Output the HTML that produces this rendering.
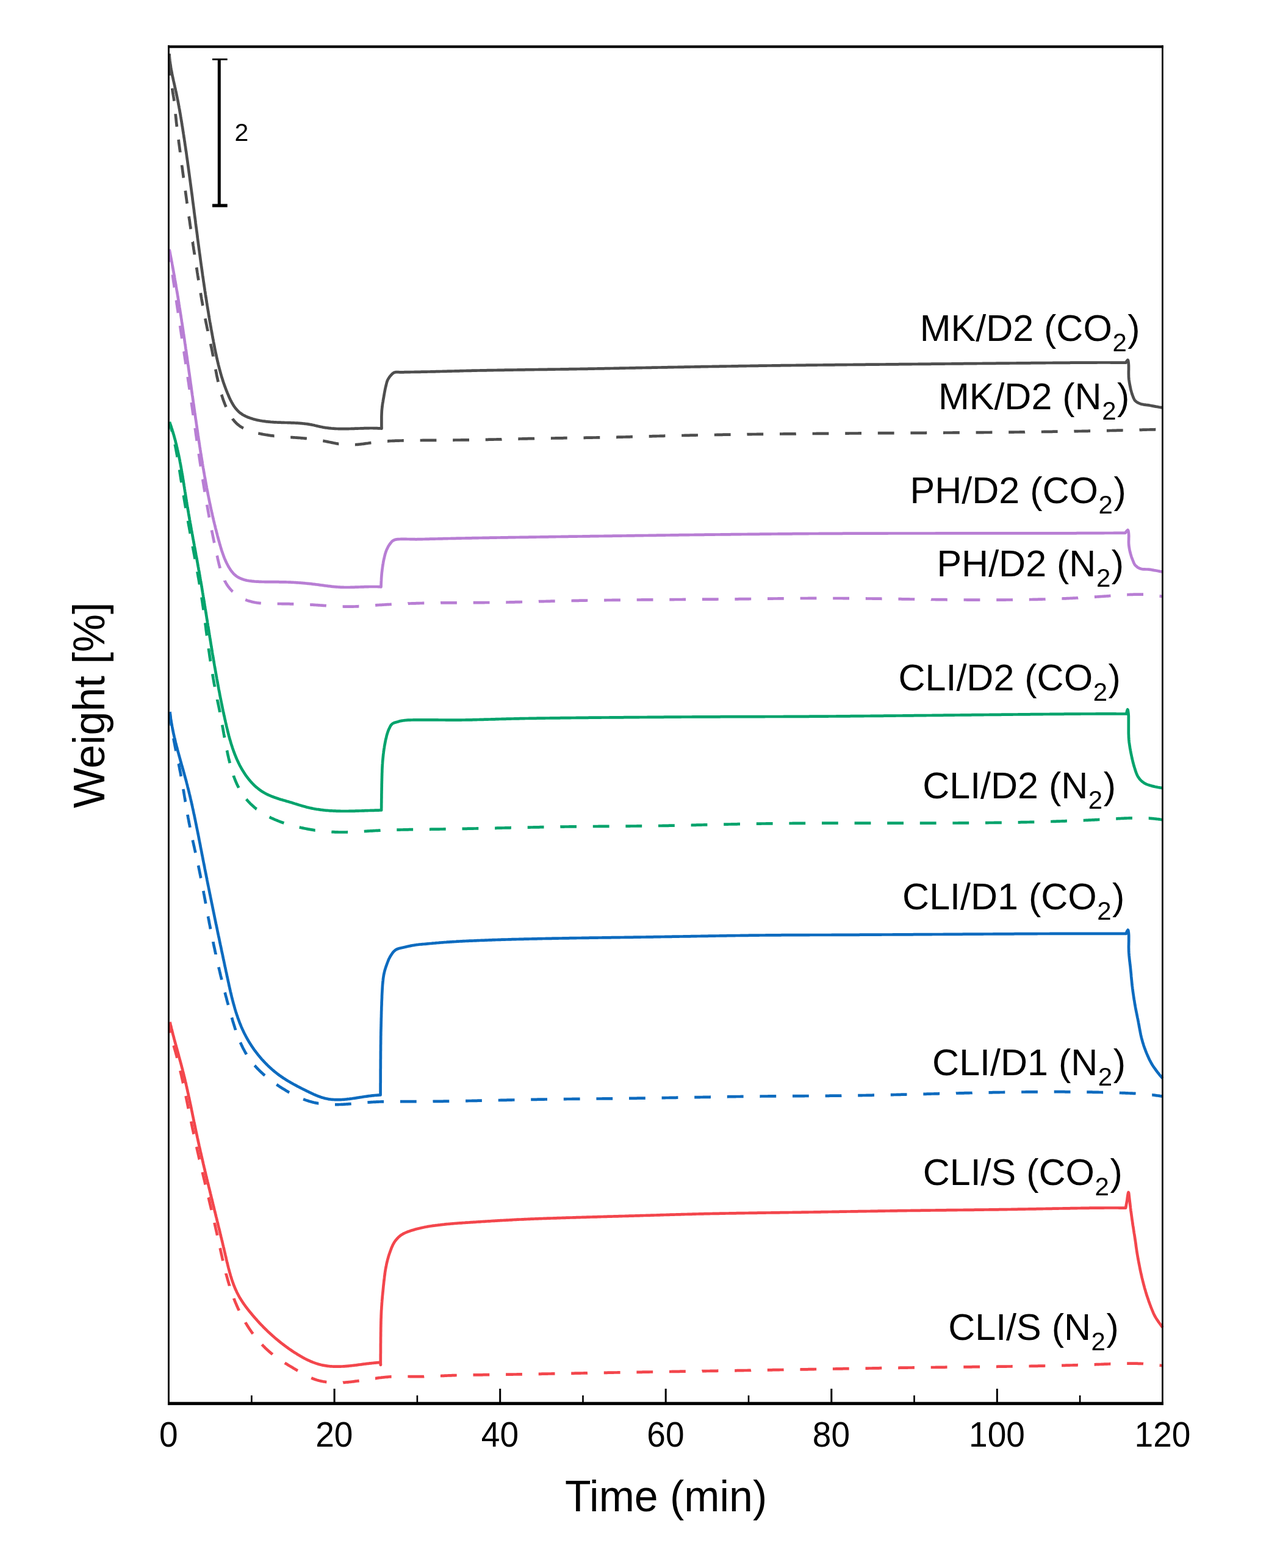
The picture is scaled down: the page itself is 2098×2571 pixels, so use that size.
<!DOCTYPE html>
<html><head><meta charset="utf-8"><title>Weight vs Time</title>
<style>
html,body{margin:0;padding:0;background:#fff;}
body{width:2098px;height:2571px;overflow:hidden;}
svg{display:block;}
text{font-family:"Liberation Sans",Arial,sans-serif;fill:#000;}
</style></head><body>
<svg width="2098" height="2571" viewBox="0 0 2098 2571">
<rect width="2098" height="2571" fill="#fff"/>
<g fill="none" stroke-linejoin="round" stroke-linecap="butt">
<path d="M278.0,102.7 L278.0,103.5 L278.1,105.0 L278.2,106.5 L278.3,108.0 L278.4,109.5 L278.5,111.0 L278.6,112.5 L278.7,114.0 L278.8,115.5 L278.9,117.0 L279.0,118.5 L279.1,120.0 L279.3,121.5 L279.4,123.0 L279.5,123.8 M282.1,144.8 L282.2,145.3 L282.4,146.8 L282.7,148.3 L282.9,149.8 L283.2,151.2 L283.4,152.7 L283.7,154.2 L283.9,155.6 L284.2,157.1 L284.4,158.6 L284.7,160.1 L284.9,161.6 L285.1,163.0 L285.3,164.5 L285.5,165.7 M287.7,186.8 L287.7,186.9 L287.8,188.4 L288.0,189.9 L288.1,191.4 L288.3,192.9 L288.4,194.3 L288.6,195.8 L288.7,197.3 L288.9,198.8 L289.0,200.3 L289.2,201.8 L289.4,203.3 L289.5,204.8 L289.7,206.3 L289.9,207.8 L289.9,207.8 M292.6,228.8 L292.8,230.1 L292.9,231.6 L293.1,233.1 L293.3,234.6 L293.5,236.0 L293.7,237.5 L293.9,239.0 L294.1,240.5 L294.3,242.0 L294.5,243.5 L294.7,245.0 L294.9,246.5 L295.1,248.0 L295.3,249.4 L295.3,249.8 M298.1,270.8 L298.2,271.8 L298.4,273.3 L298.6,274.7 L298.8,276.2 L299.0,277.7 L299.2,279.2 L299.4,280.7 L299.6,282.2 L299.8,283.7 L300.0,285.2 L300.2,286.7 L300.4,288.1 L300.6,289.6 L300.8,291.1 L300.9,291.7 M303.8,312.7 L303.9,313.4 L304.1,314.9 L304.3,316.4 L304.5,317.9 L304.7,319.4 L304.9,320.9 L305.1,322.4 L305.3,323.9 L305.5,325.3 L305.7,326.8 L305.9,328.3 L306.1,329.8 L306.3,331.3 L306.5,332.8 L306.7,333.7 M309.6,354.7 L309.7,355.1 L309.9,356.6 L310.1,358.1 L310.3,359.5 L310.6,361.0 L310.8,362.5 L311.0,364.0 L311.2,365.5 L311.4,367.0 L311.6,368.5 L311.8,369.9 L312.1,371.4 L312.3,372.9 L312.5,374.4 L312.7,375.6 M315.7,396.6 L315.8,396.7 L316.0,398.2 L316.2,399.7 L316.4,401.1 L316.6,402.6 L316.9,404.1 L317.1,405.6 L317.3,407.1 L317.5,408.6 L317.8,410.1 L318.0,411.5 L318.2,413.0 L318.4,414.5 L318.7,416.0 L318.9,417.5 L318.9,417.6 M322.1,438.5 L322.3,439.7 L322.5,441.2 L322.8,442.7 L323.0,444.2 L323.2,445.7 L323.4,447.1 L323.7,448.6 L323.9,450.1 L324.1,451.6 L324.4,453.1 L324.6,454.6 L324.8,456.0 L325.1,457.5 L325.3,459.0 L325.4,459.5 M328.8,480.4 L328.9,481.2 L329.2,482.7 L329.4,484.2 L329.7,485.7 L329.9,487.1 L330.2,488.6 L330.4,490.1 L330.7,491.6 L330.9,493.1 L331.2,494.5 L331.5,496.0 L331.7,497.5 L332.0,499.0 L332.2,500.4 L332.4,501.3 M336.3,522.2 L336.4,522.6 L336.7,524.1 L337.0,525.5 L337.3,527.0 L337.6,528.5 L337.9,530.0 L338.2,531.4 L338.5,532.9 L338.8,534.4 L339.1,535.9 L339.4,537.3 L339.7,538.8 L340.1,540.3 L340.4,541.7 L340.6,543.0 M345.2,563.8 L345.2,563.8 L345.5,565.3 L345.8,566.7 L346.1,568.2 L346.5,569.7 L346.8,571.2 L347.1,572.6 L347.4,574.1 L347.7,575.6 L348.0,577.0 L348.2,578.5 L348.5,580.0 L348.8,581.4 L349.1,582.9 L349.4,584.4 L349.4,584.6 M353.3,605.5 L353.5,606.4 L353.8,607.9 L354.1,609.4 L354.4,610.8 L354.6,612.3 L354.9,613.7 L355.2,615.2 L355.5,616.7 L355.8,618.1 L356.1,619.6 L356.5,621.1 L356.8,622.5 L357.1,624.0 L357.4,625.4 L357.6,626.3 M363.1,647.0 L363.2,647.2 L363.6,648.7 L364.1,650.1 L364.6,651.5 L365.0,653.0 L365.5,654.4 L366.0,655.9 L366.5,657.3 L367.1,658.7 L367.6,660.2 L368.2,661.6 L368.7,663.0 L369.3,664.5 L369.9,665.9 L370.5,667.3 M381.1,686.6 L381.6,687.4 L382.6,688.5 L383.5,689.7 L384.5,690.8 L385.5,691.9 L386.5,693.0 L387.5,694.0 L388.6,695.0 L389.7,696.0 L390.9,696.9 L392.0,697.8 L393.2,698.7 L394.4,699.5 L395.7,700.3 L397.0,701.0 L398.3,701.8 L398.9,702.1 M423.3,710.6 L424.0,710.7 L425.5,711.0 L427.0,711.3 L428.5,711.6 L430.0,711.9 L431.5,712.2 L433.0,712.5 L434.5,712.7 L436.0,713.0 L437.5,713.2 L438.9,713.4 L440.4,713.7 L441.9,713.9 L443.4,714.1 L444.9,714.3 L446.4,714.4 L447.9,714.6 L449.4,714.8 L449.6,714.8 M476.2,717.0 L476.3,717.0 L477.8,717.1 L479.3,717.2 L480.8,717.3 L482.3,717.4 L483.8,717.5 L485.3,717.6 L486.8,717.7 L488.3,717.8 L489.8,717.9 L491.3,718.0 L492.8,718.1 L494.2,718.3 L495.7,718.4 L497.2,718.5 L498.7,718.6 L500.2,718.8 L501.7,718.9 L502.9,719.0 M529.3,722.8 L530.0,722.9 L531.4,723.2 L532.9,723.5 L534.4,723.8 L535.9,724.1 L537.4,724.4 L538.9,724.7 L540.4,725.0 L541.8,725.3 L543.3,725.6 L544.8,725.9 L546.3,726.2 L547.8,726.5 L549.3,726.8 L550.7,727.1 L552.2,727.3 L553.7,727.6 L555.2,727.8 L555.3,727.8 M581.9,729.1 L582.0,729.1 L583.5,729.0 L585.0,728.9 L586.5,728.8 L588.0,728.6 L589.4,728.5 L590.9,728.3 L592.4,728.1 L593.9,728.0 L595.4,727.8 L596.9,727.6 L598.4,727.4 L599.9,727.2 L601.4,727.0 L602.9,726.8 L604.4,726.5 L605.9,726.3 L607.4,726.1 L608.4,726.0 M635.0,723.3 L635.9,723.3 L637.4,723.2 L638.9,723.1 L640.4,723.0 L641.9,723.0 L643.4,722.9 L644.9,722.9 L646.4,722.8 L647.9,722.7 L649.4,722.7 L650.9,722.6 L652.4,722.6 L653.9,722.6 L655.4,722.5 L656.9,722.5 L658.4,722.5 L659.9,722.4 L661.4,722.4 L661.8,722.4 M688.6,722.0 L689.9,722.0 L691.4,722.0 L692.9,721.9 L694.4,721.9 L695.9,721.9 L697.4,721.9 L698.9,721.9 L700.4,721.9 L701.9,721.9 L703.4,721.8 L704.9,721.8 L706.4,721.8 L707.9,721.8 L709.4,721.8 L710.9,721.8 L712.4,721.8 L713.9,721.8 L715.4,721.8 M742.2,721.6 L742.5,721.6 L744.0,721.6 L745.5,721.5 L747.0,721.5 L748.5,721.5 L750.0,721.5 L751.5,721.5 L753.0,721.5 L754.5,721.5 L756.0,721.4 L757.5,721.4 L759.0,721.4 L760.5,721.4 L762.0,721.4 L763.5,721.4 L765.0,721.3 L766.5,721.3 L768.0,721.3 L769.0,721.3 M795.7,720.8 L796.5,720.8 L798.0,720.8 L799.5,720.8 L801.0,720.7 L802.5,720.7 L804.0,720.7 L805.5,720.6 L807.0,720.6 L808.5,720.6 L810.0,720.5 L811.5,720.5 L813.0,720.5 L814.5,720.4 L816.0,720.4 L817.5,720.4 L819.0,720.3 L820.5,720.3 L822.0,720.3 L822.5,720.2 M849.3,719.6 L850.6,719.6 L852.1,719.5 L853.6,719.5 L855.1,719.5 L856.6,719.4 L858.1,719.4 L859.6,719.4 L861.1,719.3 L862.6,719.3 L864.1,719.3 L865.6,719.2 L867.1,719.2 L868.6,719.2 L870.1,719.2 L871.6,719.1 L873.1,719.1 L874.6,719.1 L876.1,719.0 L876.1,719.0 M902.9,718.6 L903.1,718.6 L904.6,718.5 L906.1,718.5 L907.6,718.5 L909.1,718.5 L910.6,718.4 L912.1,718.4 L913.6,718.4 L915.1,718.4 L916.6,718.4 L918.1,718.3 L919.6,718.3 L921.1,718.3 L922.6,718.3 L924.1,718.2 L925.6,718.2 L927.1,718.2 L928.6,718.2 L929.7,718.2 M956.5,717.8 L957.1,717.8 L958.7,717.8 L960.2,717.7 L961.7,717.7 L963.2,717.7 L964.7,717.7 L966.2,717.6 L967.7,717.6 L969.2,717.6 L970.7,717.6 L972.2,717.5 L973.7,717.5 L975.2,717.5 L976.7,717.5 L978.2,717.4 L979.7,717.4 L981.2,717.4 L982.7,717.4 L983.3,717.4 M1010.1,716.8 L1011.2,716.8 L1012.7,716.7 L1014.2,716.7 L1015.7,716.7 L1017.2,716.6 L1018.7,716.6 L1020.2,716.6 L1021.7,716.5 L1023.2,716.5 L1024.7,716.5 L1026.2,716.4 L1027.7,716.4 L1029.2,716.3 L1030.7,716.3 L1032.2,716.3 L1033.7,716.2 L1035.2,716.2 L1036.7,716.1 L1036.9,716.1 M1063.7,715.4 L1063.7,715.4 L1065.2,715.4 L1066.7,715.3 L1068.2,715.3 L1069.7,715.2 L1071.2,715.2 L1072.7,715.2 L1074.2,715.1 L1075.7,715.1 L1077.2,715.0 L1078.7,715.0 L1080.2,715.0 L1081.7,714.9 L1083.2,714.9 L1084.7,714.8 L1086.2,714.8 L1087.7,714.8 L1089.2,714.7 L1090.4,714.7 M1117.2,714.0 L1117.7,714.0 L1119.3,714.0 L1120.8,714.0 L1122.3,713.9 L1123.8,713.9 L1125.3,713.9 L1126.8,713.8 L1128.3,713.8 L1129.8,713.8 L1131.3,713.7 L1132.8,713.7 L1134.3,713.7 L1135.8,713.6 L1137.3,713.6 L1138.8,713.6 L1140.3,713.6 L1141.8,713.5 L1143.3,713.5 L1144.0,713.5 M1170.8,713.0 L1171.8,713.0 L1173.3,713.0 L1174.8,712.9 L1176.3,712.9 L1177.8,712.9 L1179.3,712.8 L1180.8,712.8 L1182.3,712.8 L1183.8,712.8 L1185.3,712.7 L1186.8,712.7 L1188.3,712.7 L1189.8,712.7 L1191.3,712.7 L1192.8,712.6 L1194.3,712.6 L1195.8,712.6 L1197.3,712.6 L1197.6,712.6 M1224.4,712.2 L1225.8,712.1 L1227.3,712.1 L1228.8,712.1 L1230.3,712.1 L1231.8,712.1 L1233.3,712.0 L1234.9,712.0 L1236.4,712.0 L1237.9,712.0 L1239.4,712.0 L1240.9,711.9 L1242.4,711.9 L1243.9,711.9 L1245.4,711.9 L1246.9,711.9 L1248.4,711.9 L1249.9,711.8 L1251.2,711.8 M1278.0,711.5 L1278.4,711.5 L1279.9,711.5 L1281.4,711.5 L1282.9,711.5 L1284.4,711.4 L1285.9,711.4 L1287.4,711.4 L1288.9,711.4 L1290.4,711.4 L1291.9,711.4 L1293.4,711.4 L1294.9,711.3 L1296.4,711.3 L1297.9,711.3 L1299.4,711.3 L1300.9,711.3 L1302.4,711.3 L1303.9,711.3 L1304.8,711.2 M1331.6,711.0 L1332.5,711.0 L1334.0,711.0 L1335.5,711.0 L1337.0,711.0 L1338.5,710.9 L1340.0,710.9 L1341.5,710.9 L1343.0,710.9 L1344.5,710.9 L1346.0,710.9 L1347.5,710.9 L1349.0,710.9 L1350.5,710.9 L1352.0,710.8 L1353.5,710.8 L1355.0,710.8 L1356.5,710.8 L1358.0,710.8 L1358.4,710.8 M1385.2,710.6 L1386.5,710.6 L1388.0,710.6 L1389.5,710.6 L1391.0,710.6 L1392.5,710.5 L1394.0,710.5 L1395.5,710.5 L1397.0,710.5 L1398.5,710.5 L1400.0,710.5 L1401.5,710.5 L1403.0,710.5 L1404.5,710.5 L1406.0,710.5 L1407.5,710.4 L1409.0,710.4 L1410.5,710.4 L1412.0,710.4 M1438.8,710.2 L1439.1,710.2 L1440.6,710.2 L1442.1,710.2 L1443.6,710.2 L1445.1,710.2 L1446.6,710.2 L1448.1,710.2 L1449.6,710.2 L1451.1,710.2 L1452.6,710.2 L1454.1,710.1 L1455.6,710.1 L1457.1,710.1 L1458.6,710.1 L1460.1,710.1 L1461.6,710.1 L1463.1,710.1 L1464.6,710.1 L1465.6,710.1 M1492.4,709.9 L1493.1,709.9 L1494.6,709.9 L1496.1,709.9 L1497.6,709.9 L1499.2,709.9 L1500.7,709.9 L1502.2,709.9 L1503.7,709.8 L1505.2,709.8 L1506.7,709.8 L1508.2,709.8 L1509.7,709.8 L1511.2,709.8 L1512.7,709.8 L1514.2,709.8 L1515.7,709.8 L1517.2,709.8 L1518.7,709.7 L1519.2,709.7 M1546.0,709.6 L1547.2,709.6 L1548.7,709.5 L1550.2,709.5 L1551.7,709.5 L1553.2,709.5 L1554.7,709.5 L1556.2,709.5 L1557.7,709.5 L1559.2,709.5 L1560.7,709.5 L1562.2,709.4 L1563.7,709.4 L1565.2,709.4 L1566.7,709.4 L1568.2,709.4 L1569.7,709.4 L1571.2,709.4 L1572.7,709.4 L1572.8,709.4 M1599.6,709.2 L1599.8,709.2 L1601.3,709.1 L1602.8,709.1 L1604.3,709.1 L1605.8,709.1 L1607.3,709.1 L1608.8,709.1 L1610.3,709.1 L1611.8,709.1 L1613.3,709.0 L1614.8,709.0 L1616.3,709.0 L1617.8,709.0 L1619.3,709.0 L1620.8,709.0 L1622.3,709.0 L1623.8,708.9 L1625.3,708.9 L1626.4,708.9 M1653.2,708.6 L1653.8,708.6 L1655.3,708.6 L1656.8,708.6 L1658.3,708.6 L1659.8,708.6 L1661.3,708.6 L1662.8,708.5 L1664.3,708.5 L1665.8,708.5 L1667.3,708.5 L1668.8,708.5 L1670.3,708.5 L1671.8,708.4 L1673.3,708.4 L1674.8,708.4 L1676.3,708.4 L1677.8,708.4 L1679.3,708.4 L1680.0,708.3 M1706.8,708.0 L1707.9,708.0 L1709.4,708.0 L1710.9,707.9 L1712.4,707.9 L1713.9,707.9 L1715.4,707.9 L1716.9,707.9 L1718.4,707.8 L1719.9,707.8 L1721.4,707.8 L1722.9,707.8 L1724.4,707.8 L1725.9,707.7 L1727.4,707.7 L1728.9,707.7 L1730.4,707.7 L1731.9,707.6 L1733.4,707.6 L1733.6,707.6 M1760.4,707.2 L1760.4,707.2 L1761.9,707.1 L1763.4,707.1 L1764.9,707.1 L1766.4,707.1 L1767.9,707.0 L1769.4,707.0 L1770.9,707.0 L1772.4,707.0 L1773.9,706.9 L1775.4,706.9 L1776.9,706.9 L1778.4,706.8 L1779.9,706.8 L1781.4,706.8 L1782.9,706.8 L1784.4,706.7 L1785.9,706.7 L1787.1,706.7 M1813.9,706.1 L1814.5,706.1 L1816.0,706.1 L1817.5,706.1 L1819.0,706.0 L1820.5,706.0 L1822.0,706.0 L1823.5,705.9 L1825.0,705.9 L1826.5,705.9 L1828.0,705.8 L1829.5,705.8 L1831.0,705.7 L1832.5,705.7 L1834.0,705.7 L1835.5,705.6 L1837.0,705.6 L1838.5,705.6 L1840.0,705.5 L1840.7,705.5 M1867.5,704.9 L1868.5,704.8 L1870.0,704.8 L1871.5,704.8 L1873.0,704.7 L1874.5,704.7 L1876.0,704.6 L1877.5,704.6 L1879.0,704.6 L1880.5,704.5 L1882.0,704.5 L1883.5,704.5 L1885.0,704.4 L1886.5,704.4 L1888.0,704.4 L1889.5,704.3 L1891.0,704.3 L1892.5,704.3 L1894.0,704.2 L1894.3,704.2" stroke="#4e4e4e" stroke-width="4.7"/>
<path d="M277.5,88.0 L277.6,89.5 L277.7,91.0 L277.8,92.5 L277.9,94.0 L278.1,95.5 L278.2,97.0 L278.4,98.5 L278.5,100.0 L278.7,101.5 L278.9,103.0 L279.1,104.5 L279.3,106.0 L279.6,107.4 L279.8,108.9 L280.0,110.4 L280.3,111.9 L280.5,113.4 L280.8,114.8 L281.1,116.3 L281.4,117.8 L281.6,119.3 L281.9,120.7 L282.2,122.2 L282.5,123.7 L282.8,125.2 L283.2,126.6 L283.5,128.1 L283.8,129.6 L284.1,131.0 L284.4,132.5 L284.8,134.0 L285.1,135.4 L285.4,136.9 L285.7,138.4 L286.1,139.8 L286.4,141.3 L286.7,142.8 L287.1,144.2 L287.4,145.7 L287.7,147.2 L288.0,148.6 L288.4,150.1 L288.7,151.6 L289.0,153.0 L289.3,154.5 L289.6,156.0 L289.9,157.4 L290.2,158.9 L290.5,160.4 L290.8,161.9 L291.1,163.3 L291.4,164.8 L291.7,166.3 L292.0,167.8 L292.3,169.2 L292.5,170.7 L292.8,172.2 L293.1,173.7 L293.4,175.1 L293.6,176.6 L293.9,178.1 L294.2,179.6 L294.4,181.1 L294.7,182.5 L294.9,184.0 L295.2,185.5 L295.5,187.0 L295.7,188.5 L296.0,189.9 L296.2,191.4 L296.5,192.9 L296.7,194.4 L297.0,195.9 L297.2,197.3 L297.4,198.8 L297.7,200.3 L297.9,201.8 L298.2,203.3 L298.4,204.8 L298.6,206.2 L298.9,207.7 L299.1,209.2 L299.4,210.7 L299.6,212.2 L299.8,213.7 L300.0,215.2 L300.3,216.6 L300.5,218.1 L300.7,219.6 L301.0,221.1 L301.2,222.6 L301.4,224.1 L301.6,225.6 L301.9,227.0 L302.1,228.5 L302.3,230.0 L302.5,231.5 L302.8,233.0 L303.0,234.5 L303.2,236.0 L303.4,237.4 L303.6,238.9 L303.9,240.4 L304.1,241.9 L304.3,243.4 L304.5,244.9 L304.7,246.4 L304.9,247.8 L305.2,249.3 L305.4,250.8 L305.6,252.3 L305.8,253.8 L306.0,255.3 L306.2,256.8 L306.4,258.3 L306.6,259.7 L306.8,261.2 L307.1,262.7 L307.3,264.2 L307.5,265.7 L307.7,267.2 L307.9,268.7 L308.1,270.2 L308.3,271.7 L308.5,273.1 L308.7,274.6 L308.9,276.1 L309.1,277.6 L309.3,279.1 L309.5,280.6 L309.7,282.1 L309.9,283.6 L310.1,285.0 L310.3,286.5 L310.5,288.0 L310.7,289.5 L310.9,291.0 L311.1,292.5 L311.3,294.0 L311.5,295.5 L311.7,297.0 L311.9,298.5 L312.1,299.9 L312.3,301.4 L312.5,302.9 L312.7,304.4 L312.9,305.9 L313.1,307.4 L313.3,308.9 L313.5,310.4 L313.7,311.9 L313.9,313.3 L314.1,314.8 L314.3,316.3 L314.5,317.8 L314.7,319.3 L314.9,320.8 L315.1,322.3 L315.3,323.8 L315.5,325.3 L315.6,326.8 L315.8,328.2 L316.0,329.7 L316.2,331.2 L316.4,332.7 L316.6,334.2 L316.8,335.7 L317.0,337.2 L317.2,338.7 L317.4,340.2 L317.6,341.7 L317.8,343.2 L318.0,344.6 L318.1,346.1 L318.3,347.6 L318.5,349.1 L318.7,350.6 L318.9,352.1 L319.1,353.6 L319.3,355.1 L319.5,356.6 L319.7,358.1 L319.9,359.5 L320.1,361.0 L320.3,362.5 L320.5,364.0 L320.6,365.5 L320.8,367.0 L321.0,368.5 L321.2,370.0 L321.4,371.5 L321.6,373.0 L321.8,374.4 L322.0,375.9 L322.2,377.4 L322.4,378.9 L322.6,380.4 L322.8,381.9 L323.0,383.4 L323.2,384.9 L323.4,386.4 L323.5,387.9 L323.7,389.3 L323.9,390.8 L324.1,392.3 L324.3,393.8 L324.5,395.3 L324.7,396.8 L324.9,398.3 L325.1,399.8 L325.3,401.3 L325.5,402.8 L325.7,404.2 L325.9,405.7 L326.1,407.2 L326.3,408.7 L326.5,410.2 L326.7,411.7 L326.9,413.2 L327.1,414.7 L327.3,416.2 L327.5,417.6 L327.7,419.1 L327.9,420.6 L328.1,422.1 L328.3,423.6 L328.5,425.1 L328.7,426.6 L328.9,428.1 L329.1,429.6 L329.3,431.0 L329.5,432.5 L329.7,434.0 L329.9,435.5 L330.1,437.0 L330.4,438.5 L330.6,440.0 L330.8,441.5 L331.0,442.9 L331.2,444.4 L331.4,445.9 L331.6,447.4 L331.8,448.9 L332.0,450.4 L332.2,451.9 L332.5,453.4 L332.7,454.8 L332.9,456.3 L333.1,457.8 L333.3,459.3 L333.5,460.8 L333.7,462.3 L334.0,463.8 L334.2,465.3 L334.4,466.7 L334.6,468.2 L334.8,469.7 L335.1,471.2 L335.3,472.7 L335.5,474.2 L335.7,475.7 L335.9,477.1 L336.2,478.6 L336.4,480.1 L336.6,481.6 L336.8,483.1 L337.1,484.6 L337.3,486.1 L337.5,487.5 L337.8,489.0 L338.0,490.5 L338.2,492.0 L338.5,493.5 L338.7,495.0 L338.9,496.4 L339.2,497.9 L339.4,499.4 L339.6,500.9 L339.9,502.4 L340.1,503.9 L340.3,505.3 L340.6,506.8 L340.8,508.3 L341.1,509.8 L341.3,511.3 L341.6,512.8 L341.8,514.2 L342.0,515.7 L342.3,517.2 L342.5,518.7 L342.8,520.2 L343.0,521.6 L343.3,523.1 L343.5,524.6 L343.8,526.1 L344.0,527.6 L344.3,529.1 L344.6,530.5 L344.8,532.0 L345.1,533.5 L345.3,535.0 L345.6,536.5 L345.9,537.9 L346.1,539.4 L346.4,540.9 L346.7,542.4 L346.9,543.8 L347.2,545.3 L347.5,546.8 L347.7,548.3 L348.0,549.8 L348.3,551.2 L348.5,552.7 L348.8,554.2 L349.1,555.7 L349.4,557.1 L349.7,558.6 L349.9,560.1 L350.2,561.6 L350.5,563.1 L350.8,564.5 L351.1,566.0 L351.4,567.5 L351.6,569.0 L351.9,570.4 L352.2,571.9 L352.5,573.4 L352.8,574.9 L353.1,576.3 L353.4,577.8 L353.7,579.3 L354.0,580.7 L354.4,582.2 L354.7,583.7 L355.0,585.1 L355.3,586.6 L355.6,588.1 L356.0,589.5 L356.3,591.0 L356.6,592.5 L357.0,593.9 L357.3,595.4 L357.7,596.9 L358.0,598.3 L358.4,599.8 L358.8,601.2 L359.1,602.7 L359.5,604.1 L359.9,605.6 L360.3,607.0 L360.7,608.5 L361.1,609.9 L361.5,611.4 L361.9,612.8 L362.3,614.3 L362.7,615.7 L363.1,617.2 L363.6,618.6 L364.0,620.0 L364.5,621.5 L364.9,622.9 L365.4,624.3 L365.8,625.8 L366.3,627.2 L366.8,628.6 L367.3,630.0 L367.8,631.5 L368.3,632.9 L368.8,634.3 L369.3,635.7 L369.9,637.1 L370.4,638.5 L370.9,639.9 L371.5,641.3 L372.1,642.7 L372.6,644.1 L373.2,645.5 L373.8,646.9 L374.4,648.3 L375.0,649.7 L375.6,651.1 L376.2,652.5 L376.9,653.9 L377.5,655.2 L378.2,656.6 L378.9,657.9 L379.6,659.3 L380.3,660.6 L381.1,661.9 L381.8,663.2 L382.6,664.4 L383.4,665.7 L384.2,666.9 L385.1,668.1 L386.0,669.3 L386.9,670.4 L387.9,671.5 L388.8,672.6 L389.9,673.7 L390.9,674.7 L392.0,675.7 L393.1,676.6 L394.3,677.5 L395.5,678.3 L396.7,679.2 L397.9,680.0 L399.2,680.7 L400.5,681.4 L401.9,682.1 L403.2,682.8 L404.6,683.4 L406.0,684.0 L407.4,684.6 L408.9,685.1 L410.3,685.6 L411.8,686.1 L413.3,686.6 L414.8,687.0 L416.3,687.4 L417.8,687.8 L419.3,688.2 L420.8,688.6 L422.3,688.9 L423.9,689.2 L425.4,689.5 L426.9,689.8 L428.4,690.0 L429.9,690.3 L431.4,690.5 L432.9,690.7 L434.4,690.9 L435.9,691.1 L437.4,691.3 L438.9,691.4 L440.4,691.6 L441.9,691.7 L443.4,691.9 L444.9,692.0 L446.4,692.1 L447.8,692.2 L449.3,692.3 L450.8,692.4 L452.3,692.4 L453.8,692.5 L455.3,692.6 L456.7,692.6 L458.2,692.7 L459.7,692.7 L461.2,692.8 L462.7,692.8 L464.2,692.9 L465.6,692.9 L467.1,693.0 L468.6,693.0 L470.1,693.0 L471.6,693.1 L473.1,693.1 L474.6,693.2 L476.0,693.2 L477.5,693.3 L479.0,693.3 L480.5,693.4 L482.0,693.4 L483.5,693.5 L485.0,693.6 L486.5,693.7 L488.0,693.7 L489.5,693.8 L491.1,693.9 L492.6,694.1 L494.1,694.2 L495.6,694.3 L497.1,694.5 L498.6,694.6 L500.1,694.8 L501.6,695.0 L503.1,695.2 L504.6,695.4 L506.1,695.6 L507.6,695.9 L509.1,696.1 L510.5,696.4 L512.0,696.7 L513.5,697.0 L515.0,697.3 L516.4,697.7 L517.9,698.0 L519.3,698.4 L520.8,698.7 L522.2,699.0 L523.7,699.4 L525.2,699.7 L526.6,700.0 L528.1,700.3 L529.5,700.6 L531.0,700.8 L532.5,701.1 L533.9,701.3 L535.4,701.5 L536.9,701.7 L538.4,701.9 L539.8,702.1 L541.3,702.2 L542.8,702.4 L544.3,702.5 L545.8,702.6 L547.3,702.7 L548.8,702.8 L550.3,702.9 L551.7,703.0 L553.2,703.0 L554.7,703.1 L556.2,703.1 L557.7,703.1 L559.3,703.2 L560.8,703.2 L562.3,703.2 L563.8,703.2 L565.3,703.2 L566.8,703.1 L568.3,703.1 L569.8,703.1 L571.3,703.1 L572.8,703.0 L574.3,703.0 L575.9,702.9 L577.4,702.9 L578.9,702.8 L580.4,702.8 L581.9,702.7 L583.4,702.7 L584.9,702.6 L586.4,702.6 L588.0,702.5 L589.5,702.5 L591.0,702.4 L592.5,702.4 L594.0,702.3 L595.5,702.3 L597.0,702.2 L598.5,702.2 L600.1,702.1 L601.6,702.1 L603.1,702.1 L604.6,702.1 L606.1,702.0 L607.6,702.0 L609.1,702.0 L610.6,702.0 L612.1,702.1 L613.6,702.1 L615.1,702.1 L616.6,702.1 L618.1,702.2 L619.6,702.3 L621.0,702.3 L622.5,702.4 L624.0,702.5 L625.5,702.6 L625.5,702.3 L625.5,701.5 L625.5,700.1 L625.4,698.4 L625.4,696.3 L625.4,694.0 L625.4,691.4 L625.4,688.7 L625.4,685.9 L625.4,683.2 L625.5,680.4 L625.6,677.8 L625.7,675.4 L625.8,673.3 L626.0,671.2 L626.2,669.1 L626.5,666.9 L626.7,664.8 L627.0,662.7 L627.3,660.7 L627.7,658.6 L628.0,656.6 L628.3,654.7 L628.7,652.8 L629.0,650.9 L629.3,649.1 L629.7,646.7 L630.1,644.5 L630.5,642.3 L630.9,640.2 L631.3,638.1 L631.7,636.1 L632.2,634.1 L632.8,631.6 L633.4,629.2 L634.0,626.9 L634.7,624.7 L635.6,622.6 L636.9,620.4 L638.3,618.2 L639.9,616.3 L641.4,614.6 L643.5,612.4 L646.0,610.8 L647.5,610.4 L649.2,610.2 L651.1,610.1 L653.1,610.2 L655.3,610.3 L657.6,610.3 L660.0,610.3 L661.5,610.3 L663.1,610.2 L664.8,610.2 L666.5,610.2 L668.3,610.1 L670.1,610.1 L671.9,610.1 L673.8,610.0 L675.8,610.0 L677.8,610.0 L679.9,609.9 L682.0,609.9 L684.1,609.9 L686.3,609.8 L688.6,609.8 L690.9,609.7 L693.2,609.7 L695.6,609.6 L698.0,609.6 L699.6,609.6 L701.2,609.5 L702.8,609.5 L704.5,609.5 L706.1,609.4 L707.8,609.4 L709.5,609.3 L711.3,609.3 L713.0,609.3 L714.8,609.2 L716.6,609.2 L718.4,609.1 L720.3,609.1 L722.1,609.0 L724.0,609.0 L725.9,608.9 L727.9,608.9 L729.8,608.8 L731.7,608.8 L733.7,608.7 L735.7,608.7 L737.7,608.6 L739.7,608.6 L741.8,608.5 L743.8,608.5 L745.9,608.4 L748.0,608.4 L750.1,608.3 L752.2,608.3 L754.3,608.2 L756.5,608.1 L758.6,608.1 L760.8,608.0 L763.0,608.0 L765.2,607.9 L767.4,607.9 L769.6,607.8 L771.8,607.8 L774.1,607.7 L776.3,607.7 L778.6,607.6 L780.8,607.6 L783.1,607.5 L785.4,607.5 L787.7,607.4 L790.0,607.4 L791.7,607.4 L793.4,607.3 L795.2,607.3 L797.0,607.3 L798.8,607.2 L800.6,607.2 L802.4,607.2 L804.3,607.1 L806.1,607.1 L808.0,607.1 L809.9,607.0 L811.9,607.0 L813.8,607.0 L815.8,606.9 L817.7,606.9 L819.7,606.9 L821.7,606.8 L823.7,606.8 L825.8,606.8 L827.8,606.7 L829.9,606.7 L831.9,606.7 L834.0,606.7 L836.1,606.6 L838.2,606.6 L840.3,606.6 L842.4,606.5 L844.5,606.5 L846.6,606.5 L848.8,606.4 L850.9,606.4 L853.1,606.4 L855.2,606.3 L857.4,606.3 L859.5,606.3 L861.7,606.2 L863.8,606.2 L866.0,606.2 L868.2,606.1 L870.4,606.1 L872.5,606.1 L874.7,606.1 L876.9,606.0 L879.0,606.0 L881.2,606.0 L883.4,605.9 L885.5,605.9 L887.7,605.9 L889.9,605.8 L892.0,605.8 L894.1,605.8 L896.3,605.8 L898.4,605.7 L900.5,605.7 L902.7,605.7 L904.8,605.6 L906.9,605.6 L909.0,605.6 L911.1,605.5 L913.1,605.5 L915.2,605.5 L917.2,605.5 L919.3,605.4 L921.3,605.4 L923.3,605.4 L925.3,605.3 L927.3,605.3 L929.3,605.3 L931.2,605.3 L933.2,605.2 L935.1,605.2 L937.0,605.2 L938.9,605.1 L940.8,605.1 L942.6,605.1 L944.5,605.1 L946.3,605.0 L948.1,605.0 L949.8,605.0 L951.6,604.9 L953.3,604.9 L955.0,604.9 L956.7,604.9 L958.4,604.8 L960.0,604.8 L962.4,604.8 L964.7,604.7 L967.0,604.7 L969.2,604.6 L971.4,604.6 L973.6,604.6 L975.7,604.5 L977.8,604.5 L979.9,604.4 L981.9,604.4 L983.9,604.4 L985.9,604.3 L987.8,604.3 L989.7,604.3 L991.7,604.2 L993.6,604.2 L995.4,604.1 L997.3,604.1 L999.2,604.1 L1001.1,604.0 L1002.9,604.0 L1004.8,604.0 L1006.7,603.9 L1008.5,603.9 L1010.4,603.9 L1012.3,603.8 L1014.2,603.8 L1016.1,603.7 L1018.1,603.7 L1020.0,603.7 L1022.0,603.6 L1024.0,603.6 L1026.1,603.5 L1028.1,603.5 L1030.2,603.5 L1032.4,603.4 L1034.5,603.4 L1036.7,603.3 L1039.0,603.3 L1040.8,603.3 L1042.6,603.2 L1044.4,603.2 L1046.2,603.2 L1048.0,603.1 L1049.8,603.1 L1051.7,603.1 L1053.6,603.0 L1055.4,603.0 L1057.3,603.0 L1059.3,602.9 L1061.2,602.9 L1063.1,602.8 L1065.0,602.8 L1067.0,602.8 L1069.0,602.7 L1070.9,602.7 L1072.9,602.7 L1074.9,602.6 L1076.9,602.6 L1078.9,602.5 L1080.9,602.5 L1082.9,602.5 L1085.0,602.4 L1087.0,602.4 L1089.1,602.4 L1091.1,602.3 L1093.2,602.3 L1095.2,602.2 L1097.3,602.2 L1099.4,602.2 L1101.4,602.1 L1103.5,602.1 L1105.6,602.0 L1107.7,602.0 L1109.8,602.0 L1111.9,601.9 L1114.0,601.9 L1116.1,601.8 L1118.2,601.8 L1120.3,601.8 L1122.3,601.7 L1124.4,601.7 L1126.5,601.7 L1128.6,601.6 L1130.7,601.6 L1132.8,601.5 L1134.9,601.5 L1137.0,601.5 L1139.1,601.4 L1141.2,601.4 L1143.3,601.4 L1145.4,601.3 L1147.5,601.3 L1149.5,601.2 L1151.6,601.2 L1153.7,601.2 L1155.7,601.1 L1157.8,601.1 L1159.8,601.1 L1161.9,601.0 L1163.9,601.0 L1166.0,601.0 L1168.0,600.9 L1170.0,600.9 L1172.0,600.9 L1174.0,600.8 L1176.0,600.8 L1178.0,600.8 L1179.9,600.7 L1181.9,600.7 L1183.9,600.7 L1185.8,600.6 L1187.8,600.6 L1189.7,600.6 L1191.7,600.5 L1193.6,600.5 L1195.6,600.5 L1197.5,600.5 L1199.5,600.4 L1201.4,600.4 L1203.3,600.4 L1205.3,600.3 L1207.2,600.3 L1209.1,600.3 L1211.1,600.2 L1213.0,600.2 L1214.9,600.2 L1216.8,600.2 L1218.8,600.1 L1220.7,600.1 L1222.6,600.1 L1224.6,600.0 L1226.5,600.0 L1228.4,600.0 L1230.4,599.9 L1232.3,599.9 L1234.3,599.9 L1236.2,599.9 L1238.2,599.8 L1240.1,599.8 L1242.1,599.8 L1244.0,599.7 L1246.0,599.7 L1248.0,599.7 L1250.0,599.7 L1252.0,599.6 L1254.0,599.6 L1256.0,599.6 L1258.0,599.5 L1260.0,599.5 L1262.0,599.5 L1264.0,599.5 L1266.1,599.4 L1268.1,599.4 L1270.2,599.4 L1272.2,599.4 L1274.3,599.3 L1276.4,599.3 L1278.5,599.3 L1280.6,599.2 L1282.7,599.2 L1284.8,599.2 L1286.9,599.2 L1289.1,599.1 L1291.2,599.1 L1293.4,599.1 L1295.6,599.1 L1297.8,599.0 L1300.0,599.0 L1301.8,599.0 L1303.6,599.0 L1305.4,598.9 L1307.2,598.9 L1309.0,598.9 L1310.8,598.9 L1312.6,598.8 L1314.4,598.8 L1316.3,598.8 L1318.1,598.8 L1319.9,598.8 L1321.8,598.7 L1323.6,598.7 L1325.5,598.7 L1327.4,598.7 L1329.2,598.7 L1331.1,598.6 L1333.0,598.6 L1334.8,598.6 L1336.7,598.6 L1338.6,598.6 L1340.5,598.5 L1342.4,598.5 L1344.3,598.5 L1346.2,598.5 L1348.1,598.5 L1350.0,598.4 L1351.9,598.4 L1353.9,598.4 L1355.8,598.4 L1357.7,598.4 L1359.7,598.3 L1361.6,598.3 L1363.5,598.3 L1365.5,598.3 L1367.4,598.3 L1369.4,598.2 L1371.4,598.2 L1373.3,598.2 L1375.3,598.2 L1377.3,598.2 L1379.3,598.1 L1381.2,598.1 L1383.2,598.1 L1385.2,598.1 L1387.2,598.1 L1389.2,598.0 L1391.2,598.0 L1393.2,598.0 L1395.2,598.0 L1397.2,598.0 L1399.3,597.9 L1401.3,597.9 L1403.3,597.9 L1405.3,597.9 L1407.4,597.9 L1409.4,597.8 L1411.4,597.8 L1413.5,597.8 L1415.5,597.8 L1417.6,597.8 L1419.6,597.7 L1421.7,597.7 L1423.7,597.7 L1425.8,597.7 L1427.9,597.7 L1429.9,597.6 L1432.0,597.6 L1434.1,597.6 L1436.2,597.6 L1438.3,597.6 L1440.4,597.6 L1442.4,597.5 L1444.5,597.5 L1446.6,597.5 L1448.7,597.5 L1450.8,597.5 L1452.9,597.4 L1455.1,597.4 L1457.2,597.4 L1459.3,597.4 L1461.4,597.4 L1463.5,597.3 L1465.6,597.3 L1467.8,597.3 L1469.9,597.3 L1472.0,597.3 L1474.2,597.2 L1476.3,597.2 L1478.4,597.2 L1480.6,597.2 L1482.7,597.2 L1484.9,597.1 L1487.0,597.1 L1489.2,597.1 L1491.3,597.1 L1493.5,597.1 L1495.7,597.0 L1497.8,597.0 L1500.0,597.0 L1501.8,597.0 L1503.7,597.0 L1505.6,596.9 L1507.4,596.9 L1509.3,596.9 L1511.2,596.9 L1513.2,596.9 L1515.1,596.9 L1517.1,596.8 L1519.0,596.8 L1521.0,596.8 L1523.0,596.8 L1525.0,596.8 L1527.0,596.7 L1529.0,596.7 L1531.0,596.7 L1533.1,596.7 L1535.1,596.7 L1537.2,596.7 L1539.2,596.6 L1541.3,596.6 L1543.4,596.6 L1545.5,596.6 L1547.6,596.6 L1549.7,596.5 L1551.8,596.5 L1554.0,596.5 L1556.1,596.5 L1558.3,596.5 L1560.4,596.4 L1562.6,596.4 L1564.7,596.4 L1566.9,596.4 L1569.1,596.3 L1571.3,596.3 L1573.5,596.3 L1575.7,596.3 L1577.9,596.3 L1580.1,596.2 L1582.3,596.2 L1584.5,596.2 L1586.7,596.2 L1588.9,596.2 L1591.1,596.1 L1593.4,596.1 L1595.6,596.1 L1597.8,596.1 L1600.1,596.1 L1602.3,596.0 L1604.5,596.0 L1606.8,596.0 L1609.0,596.0 L1611.3,595.9 L1613.5,595.9 L1615.7,595.9 L1618.0,595.9 L1620.2,595.9 L1622.5,595.8 L1624.7,595.8 L1627.0,595.8 L1629.2,595.8 L1631.4,595.8 L1633.7,595.7 L1635.9,595.7 L1638.1,595.7 L1640.4,595.7 L1642.6,595.7 L1644.8,595.6 L1647.0,595.6 L1649.3,595.6 L1651.5,595.6 L1653.7,595.6 L1655.9,595.5 L1658.1,595.5 L1660.3,595.5 L1662.5,595.5 L1664.7,595.5 L1666.9,595.4 L1669.0,595.4 L1671.2,595.4 L1673.4,595.4 L1675.5,595.4 L1677.7,595.3 L1679.8,595.3 L1681.9,595.3 L1684.1,595.3 L1686.2,595.3 L1688.3,595.3 L1690.4,595.2 L1692.5,595.2 L1694.6,595.2 L1696.6,595.2 L1698.7,595.2 L1700.8,595.2 L1702.8,595.1 L1704.8,595.1 L1706.9,595.1 L1708.9,595.1 L1710.9,595.1 L1712.9,595.1 L1714.8,595.0 L1716.8,595.0 L1718.8,595.0 L1720.7,595.0 L1722.6,595.0 L1724.5,595.0 L1726.4,594.9 L1728.3,594.9 L1730.2,594.9 L1732.1,594.9 L1733.9,594.9 L1735.7,594.9 L1737.6,594.9 L1739.4,594.8 L1741.1,594.8 L1742.9,594.8 L1744.7,594.8 L1746.4,594.8 L1748.1,594.8 L1749.8,594.8 L1751.5,594.8 L1753.2,594.8 L1754.8,594.7 L1756.5,594.7 L1758.1,594.7 L1759.7,594.7 L1761.3,594.7 L1762.8,594.7 L1764.4,594.7 L1765.9,594.7 L1767.4,594.7 L1768.9,594.7 L1770.3,594.6 L1771.8,594.6 L1773.2,594.6 L1774.6,594.6 L1776.0,594.6 L1777.4,594.6 L1778.7,594.6 L1780.0,594.6 L1782.8,594.6 L1785.6,594.6 L1788.4,594.6 L1791.2,594.6 L1794.1,594.6 L1796.9,594.6 L1799.8,594.5 L1802.6,594.5 L1805.4,594.5 L1808.2,594.5 L1810.9,594.5 L1813.6,594.5 L1816.2,594.5 L1818.8,594.5 L1821.2,594.6 L1823.7,594.6 L1826.0,594.6 L1828.2,594.6 L1830.4,594.6 L1832.4,594.6 L1834.3,594.6 L1836.1,594.6 L1837.7,594.6 L1839.2,594.6 L1840.6,594.6 L1841.8,594.6 L1842.8,594.6 L1843.7,594.6 L1844.4,594.6 L1844.9,594.6 L1845.2,594.6 L1845.3,594.6 L1846.6,592.3 L1848.5,590.2 L1849.1,591.3 L1849.5,593.7 L1849.8,596.6 L1849.9,598.2 L1850.0,600.0 L1850.0,602.0 L1850.0,604.1 L1850.0,606.4 L1849.9,608.7 L1849.9,611.1 L1849.9,613.4 L1850.0,615.7 L1850.0,617.9 L1850.2,620.0 L1850.4,622.2 L1850.7,624.4 L1851.0,626.5 L1851.4,628.7 L1851.8,630.8 L1852.2,632.8 L1852.6,634.8 L1853.0,636.7 L1853.4,638.5 L1854.0,640.8 L1854.6,643.0 L1855.2,645.1 L1855.9,647.1 L1856.6,649.0 L1857.4,651.2 L1858.3,653.3 L1859.3,655.3 L1860.6,657.1 L1862.3,658.6 L1864.2,659.9 L1866.3,660.9 L1868.7,661.9 L1870.4,662.4 L1872.3,662.9 L1874.2,663.3 L1876.3,663.6 L1878.4,663.9 L1880.5,664.1 L1882.7,664.4 L1884.8,664.8 L1886.9,665.2 L1889.2,665.6 L1891.8,666.1 L1894.4,666.6 L1897.0,667.0 L1899.4,667.5 L1901.4,667.8 L1903.0,668.1 L1904.1,668.3 L1904.5,668.4" stroke="#4e4e4e" stroke-width="4.7"/>
<path d="M277.3,410.0 L277.5,411.5 L277.7,413.0 L277.9,414.5 L278.1,416.0 L278.3,417.5 L278.5,418.9 L278.7,420.4 L278.9,421.9 L279.1,423.4 L279.3,424.9 L279.5,426.4 L279.7,427.9 L279.9,429.4 M282.9,450.3 L283.1,451.7 L283.3,453.2 L283.5,454.7 L283.7,456.1 L283.9,457.6 L284.1,459.1 L284.3,460.6 L284.5,462.1 L284.7,463.6 L285.0,465.1 L285.2,466.6 L285.4,468.0 L285.6,469.5 L285.8,471.0 L285.9,471.3 M288.9,492.3 L289.1,493.3 L289.3,494.8 L289.5,496.3 L289.7,497.7 L289.9,499.2 L290.2,500.7 L290.4,502.2 L290.6,503.7 L290.8,505.2 L291.0,506.6 L291.3,508.1 L291.5,509.6 L291.7,511.1 L291.9,512.6 L292.0,513.2 M295.1,534.2 L295.2,534.8 L295.5,536.3 L295.7,537.8 L295.9,539.3 L296.1,540.8 L296.3,542.2 L296.6,543.7 L296.8,545.2 L297.0,546.7 L297.2,548.2 L297.5,549.7 L297.7,551.1 L297.9,552.6 L298.1,554.1 L298.3,555.1 M301.4,576.1 L301.5,576.4 L301.7,577.8 L301.9,579.3 L302.1,580.8 L302.3,582.3 L302.6,583.8 L302.8,585.3 L303.0,586.7 L303.2,588.2 L303.5,589.7 L303.7,591.2 L303.9,592.7 L304.1,594.2 L304.3,595.7 L304.5,597.1 M307.7,618.0 L307.9,619.4 L308.1,620.9 L308.3,622.4 L308.5,623.9 L308.7,625.4 L309.0,626.8 L309.2,628.3 L309.4,629.8 L309.6,631.3 L309.8,632.8 L310.0,634.3 L310.3,635.8 L310.5,637.3 L310.7,638.7 L310.7,639.0 M313.7,659.9 L313.9,661.1 L314.1,662.6 L314.3,664.0 L314.5,665.5 L314.8,667.0 L315.0,668.5 L315.2,670.0 L315.4,671.5 L315.6,673.0 L315.8,674.5 L316.0,676.0 L316.2,677.4 L316.5,678.9 L316.7,680.4 L316.7,680.9 M319.7,701.9 L319.8,702.8 L320.1,704.3 L320.3,705.8 L320.5,707.2 L320.7,708.7 L320.9,710.2 L321.1,711.7 L321.3,713.2 L321.6,714.7 L321.8,716.2 L322.0,717.7 L322.2,719.2 L322.4,720.7 L322.6,722.1 L322.7,722.9 M325.8,743.8 L325.9,744.5 L326.1,746.0 L326.3,747.4 L326.6,748.9 L326.8,750.4 L327.0,751.9 L327.2,753.4 L327.5,754.9 L327.7,756.4 L327.9,757.8 L328.1,759.3 L328.4,760.8 L328.6,762.3 L328.8,763.8 L329.0,764.8 M332.2,785.7 L332.3,786.0 L332.5,787.5 L332.7,789.0 L333.0,790.5 L333.2,792.0 L333.5,793.4 L333.7,794.9 L333.9,796.4 L334.2,797.9 L334.4,799.4 L334.7,800.8 L334.9,802.3 L335.2,803.8 L335.4,805.3 L335.6,806.6 M339.2,827.6 L339.4,828.9 L339.7,830.3 L340.0,831.8 L340.2,833.3 L340.5,834.8 L340.8,836.2 L341.0,837.7 L341.3,839.2 L341.6,840.6 L341.8,842.1 L342.1,843.6 L342.4,845.0 L342.6,846.5 L342.9,848.0 L343.0,848.5 M347.0,869.3 L347.1,870.0 L347.4,871.4 L347.7,872.9 L348.0,874.4 L348.3,875.8 L348.6,877.3 L348.9,878.8 L349.2,880.2 L349.5,881.7 L349.8,883.2 L350.1,884.6 L350.4,886.1 L350.7,887.6 L351.0,889.1 L351.3,890.2 M355.7,911.0 L355.8,911.3 L356.2,912.8 L356.5,914.3 L356.8,915.8 L357.2,917.3 L357.5,918.8 L357.9,920.3 L358.2,921.8 L358.6,923.3 L358.9,924.8 L359.3,926.3 L359.7,927.8 L360.1,929.3 L360.5,930.8 L360.7,931.7 M368.2,951.9 L368.2,952.0 L368.9,953.3 L369.6,954.6 L370.3,955.9 L371.0,957.1 L371.8,958.4 L372.6,959.6 L373.4,960.8 L374.3,962.0 L375.1,963.1 L376.1,964.3 L377.0,965.4 L378.0,966.5 L379.0,967.6 L380.0,968.6 L381.0,969.7 L381.5,970.1 M402.2,983.4 L403.4,983.8 L404.8,984.4 L406.2,984.9 L407.6,985.3 L409.0,985.7 L410.5,986.1 L411.9,986.5 L413.4,986.9 L414.9,987.2 L416.3,987.5 L417.8,987.8 L419.3,988.0 L420.8,988.3 L422.3,988.5 L423.8,988.7 L425.3,988.8 L426.8,989.0 L427.8,989.1 M454.6,990.0 L456.1,990.0 L457.6,990.0 L459.1,990.0 L460.7,990.0 L462.2,990.1 L463.7,990.1 L465.2,990.1 L466.7,990.1 L468.2,990.1 L469.7,990.2 L471.2,990.2 L472.7,990.2 L474.2,990.2 L475.7,990.3 L477.2,990.3 L478.7,990.3 L480.2,990.4 L481.4,990.4 M508.1,991.5 L508.5,991.5 L510.0,991.6 L511.5,991.7 L513.0,991.7 L514.5,991.8 L516.0,991.9 L517.5,992.0 L519.0,992.1 L520.5,992.2 L522.0,992.3 L523.5,992.4 L525.0,992.5 L526.4,992.6 L527.9,992.7 L529.4,992.8 L530.9,992.9 L532.4,993.0 L533.9,993.1 L534.8,993.2 M561.6,994.5 L562.4,994.5 L563.9,994.6 L565.4,994.6 L566.9,994.6 L568.4,994.6 L569.9,994.6 L571.4,994.7 L572.9,994.6 L574.4,994.6 L575.9,994.6 L577.4,994.6 L578.9,994.6 L580.4,994.5 L581.9,994.5 L583.4,994.4 L584.9,994.4 L586.4,994.3 L587.9,994.2 L588.4,994.2 M615.1,992.4 L616.4,992.3 L617.9,992.2 L619.4,992.1 L620.9,992.0 L622.4,991.9 L623.9,991.8 L625.4,991.8 L626.9,991.7 L628.4,991.6 L629.9,991.5 L631.4,991.4 L632.9,991.3 L634.4,991.2 L635.9,991.1 L637.4,991.1 L638.9,991.0 L640.4,990.9 L641.8,990.8 M668.6,989.7 L668.9,989.6 L670.4,989.6 L671.9,989.5 L673.4,989.5 L674.9,989.4 L676.4,989.4 L677.9,989.3 L679.4,989.3 L680.9,989.3 L682.4,989.2 L683.9,989.2 L685.4,989.1 L686.9,989.1 L688.5,989.0 L690.0,989.0 L691.5,989.0 L693.0,988.9 L694.5,988.9 L695.3,988.9 M722.1,988.5 L723.0,988.4 L724.5,988.4 L726.0,988.4 L727.5,988.4 L729.0,988.4 L730.5,988.4 L732.0,988.4 L733.5,988.4 L735.0,988.3 L736.5,988.3 L738.0,988.3 L739.5,988.3 L741.0,988.3 L742.5,988.3 L744.0,988.3 L745.5,988.3 L747.0,988.3 L748.5,988.3 L748.9,988.3 M775.7,988.2 L777.0,988.2 L778.5,988.2 L780.0,988.1 L781.5,988.1 L783.0,988.1 L784.5,988.1 L786.0,988.1 L787.5,988.1 L789.0,988.1 L790.5,988.1 L792.0,988.1 L793.6,988.1 L795.1,988.0 L796.6,988.0 L798.1,988.0 L799.6,988.0 L801.1,988.0 L802.5,988.0 M829.3,987.6 L829.6,987.6 L831.1,987.5 L832.6,987.5 L834.1,987.5 L835.6,987.4 L837.1,987.4 L838.6,987.4 L840.1,987.3 L841.6,987.3 L843.1,987.3 L844.6,987.2 L846.1,987.2 L847.6,987.2 L849.1,987.1 L850.6,987.1 L852.1,987.1 L853.6,987.0 L855.1,987.0 L856.1,987.0 M882.9,986.3 L883.6,986.2 L885.1,986.2 L886.6,986.2 L888.1,986.1 L889.6,986.1 L891.1,986.1 L892.6,986.0 L894.1,986.0 L895.6,985.9 L897.1,985.9 L898.6,985.9 L900.1,985.8 L901.6,985.8 L903.1,985.7 L904.6,985.7 L906.1,985.7 L907.7,985.6 L909.2,985.6 L909.7,985.6 M936.5,985.0 L937.7,985.0 L939.2,984.9 L940.7,984.9 L942.2,984.9 L943.7,984.9 L945.2,984.8 L946.7,984.8 L948.2,984.8 L949.7,984.7 L951.2,984.7 L952.7,984.7 L954.2,984.7 L955.7,984.6 L957.2,984.6 L958.7,984.6 L960.2,984.6 L961.7,984.5 L963.2,984.5 L963.3,984.5 M990.1,984.1 L990.2,984.1 L991.7,984.1 L993.2,984.1 L994.7,984.0 L996.2,984.0 L997.7,984.0 L999.2,984.0 L1000.7,984.0 L1002.2,984.0 L1003.7,983.9 L1005.2,983.9 L1006.7,983.9 L1008.2,983.9 L1009.7,983.9 L1011.3,983.8 L1012.8,983.8 L1014.3,983.8 L1015.8,983.8 L1016.9,983.8 M1043.7,983.5 L1044.3,983.5 L1045.8,983.5 L1047.3,983.5 L1048.8,983.5 L1050.3,983.5 L1051.8,983.4 L1053.3,983.4 L1054.8,983.4 L1056.3,983.4 L1057.8,983.4 L1059.3,983.4 L1060.8,983.4 L1062.3,983.4 L1063.8,983.3 L1065.3,983.3 L1066.8,983.3 L1068.3,983.3 L1069.8,983.3 L1070.5,983.3 M1097.3,983.1 L1098.3,983.1 L1099.8,983.1 L1101.3,983.1 L1102.8,983.1 L1104.4,983.1 L1105.9,983.0 L1107.4,983.0 L1108.9,983.0 L1110.4,983.0 L1111.9,983.0 L1113.4,983.0 L1114.9,983.0 L1116.4,983.0 L1117.9,983.0 L1119.4,982.9 L1120.9,982.9 L1122.4,982.9 L1123.9,982.9 L1124.1,982.9 M1150.9,982.7 L1150.9,982.7 L1152.4,982.7 L1153.9,982.7 L1155.4,982.7 L1156.9,982.7 L1158.4,982.7 L1159.9,982.7 L1161.4,982.7 L1162.9,982.6 L1164.4,982.6 L1165.9,982.6 L1167.4,982.6 L1168.9,982.6 L1170.4,982.6 L1171.9,982.6 L1173.4,982.6 L1174.9,982.6 L1176.4,982.5 L1177.7,982.5 M1204.4,982.3 L1205.0,982.3 L1206.5,982.3 L1208.0,982.3 L1209.5,982.3 L1211.0,982.2 L1212.5,982.2 L1214.0,982.2 L1215.5,982.2 L1217.0,982.2 L1218.5,982.2 L1220.0,982.1 L1221.5,982.1 L1223.0,982.1 L1224.5,982.1 L1226.0,982.1 L1227.5,982.1 L1229.0,982.0 L1230.5,982.0 L1231.2,982.0 M1258.0,981.7 L1259.0,981.7 L1260.5,981.6 L1262.0,981.6 L1263.5,981.6 L1265.0,981.6 L1266.5,981.6 L1268.0,981.5 L1269.5,981.5 L1271.0,981.5 L1272.5,981.5 L1274.0,981.5 L1275.5,981.4 L1277.0,981.4 L1278.5,981.4 L1280.0,981.4 L1281.5,981.4 L1283.0,981.3 L1284.5,981.3 L1284.8,981.3 M1311.6,981.0 L1313.1,981.0 L1314.6,981.0 L1316.1,981.0 L1317.6,981.0 L1319.1,981.0 L1320.6,981.0 L1322.1,981.0 L1323.6,981.0 L1325.1,980.9 L1326.6,980.9 L1328.1,980.9 L1329.6,980.9 L1331.1,980.9 L1332.6,980.9 L1334.1,980.9 L1335.6,980.9 L1337.1,980.9 L1338.4,980.9 M1365.2,981.0 L1365.6,981.0 L1367.1,981.0 L1368.6,981.0 L1370.1,981.0 L1371.6,981.0 L1373.1,981.0 L1374.6,981.0 L1376.1,981.0 L1377.6,981.0 L1379.1,981.0 L1380.6,981.0 L1382.1,981.1 L1383.6,981.1 L1385.1,981.1 L1386.6,981.1 L1388.1,981.1 L1389.6,981.1 L1391.1,981.1 L1392.0,981.1 M1418.8,981.4 L1419.7,981.4 L1421.2,981.5 L1422.7,981.5 L1424.2,981.5 L1425.7,981.5 L1427.2,981.5 L1428.7,981.5 L1430.2,981.6 L1431.7,981.6 L1433.2,981.6 L1434.7,981.6 L1436.2,981.6 L1437.7,981.7 L1439.2,981.7 L1440.7,981.7 L1442.2,981.7 L1443.7,981.7 L1445.2,981.8 L1445.6,981.8 M1472.4,982.2 L1473.8,982.2 L1475.3,982.2 L1476.8,982.2 L1478.3,982.3 L1479.8,982.3 L1481.3,982.3 L1482.8,982.3 L1484.3,982.3 L1485.8,982.4 L1487.3,982.4 L1488.8,982.4 L1490.3,982.4 L1491.8,982.5 L1493.3,982.5 L1494.8,982.5 L1496.3,982.5 L1497.8,982.5 L1499.2,982.6 M1526.0,982.9 L1526.3,983.0 L1527.8,983.0 L1529.3,983.0 L1530.8,983.0 L1532.3,983.0 L1533.8,983.1 L1535.3,983.1 L1536.8,983.1 L1538.3,983.1 L1539.8,983.1 L1541.3,983.1 L1542.8,983.2 L1544.3,983.2 L1545.9,983.2 L1547.4,983.2 L1548.9,983.2 L1550.4,983.2 L1551.9,983.3 L1552.8,983.3 M1579.6,983.5 L1580.4,983.5 L1581.9,983.5 L1583.4,983.5 L1584.9,983.6 L1586.4,983.6 L1587.9,983.6 L1589.4,983.6 L1590.9,983.6 L1592.4,983.6 L1593.9,983.6 L1595.4,983.6 L1596.9,983.6 L1598.4,983.6 L1599.9,983.6 L1601.4,983.6 L1602.9,983.6 L1604.4,983.6 L1605.9,983.7 L1606.4,983.7 M1633.2,983.6 L1634.5,983.6 L1636.0,983.6 L1637.5,983.6 L1639.0,983.6 L1640.5,983.6 L1642.0,983.6 L1643.5,983.6 L1645.0,983.6 L1646.5,983.6 L1648.0,983.6 L1649.5,983.5 L1651.0,983.5 L1652.5,983.5 L1654.0,983.5 L1655.5,983.5 L1657.0,983.5 L1658.5,983.5 L1660.0,983.4 L1660.0,983.4 M1686.8,983.1 L1687.0,983.1 L1688.5,983.0 L1690.0,983.0 L1691.5,983.0 L1693.0,982.9 L1694.5,982.9 L1696.0,982.9 L1697.5,982.8 L1699.0,982.8 L1700.5,982.8 L1702.0,982.7 L1703.5,982.7 L1705.0,982.7 L1706.5,982.6 L1708.0,982.6 L1709.5,982.5 L1711.0,982.5 L1712.5,982.5 L1713.6,982.4 M1740.4,981.5 L1741.1,981.5 L1742.6,981.4 L1744.1,981.4 L1745.6,981.3 L1747.1,981.3 L1748.6,981.2 L1750.1,981.1 L1751.6,981.1 L1753.1,981.0 L1754.6,980.9 L1756.1,980.9 L1757.6,980.8 L1759.1,980.7 L1760.6,980.7 L1762.1,980.6 L1763.6,980.5 L1765.1,980.4 L1766.6,980.4 L1767.1,980.3 M1793.9,978.8 L1795.1,978.7 L1796.6,978.6 L1798.1,978.5 L1799.6,978.4 L1801.1,978.3 L1802.6,978.2 L1804.1,978.1 L1805.6,978.0 L1807.1,977.9 L1808.6,977.8 L1810.1,977.7 L1811.6,977.6 L1813.1,977.5 L1814.6,977.4 L1816.1,977.3 L1817.6,977.2 L1819.1,977.0 L1820.5,976.9 M1847.2,975.1 L1847.6,975.1 L1849.1,975.0 L1850.6,975.0 L1852.1,974.9 L1853.6,974.8 L1855.1,974.8 L1856.6,974.8 L1858.1,974.7 L1859.6,974.7 L1861.1,974.7 L1862.6,974.6 L1864.1,974.6 L1865.6,974.6 L1867.1,974.6 L1868.6,974.6 L1870.1,974.7 L1871.6,974.7 L1873.1,974.7 L1874.0,974.7 M1900.6,977.3 L1901.5,977.4 L1903.0,977.7 L1904.5,978.0" stroke="#b87ed4" stroke-width="4.7"/>
<path d="M277.5,408.8 L277.8,410.3 L278.1,411.8 L278.4,413.2 L278.7,414.7 L278.9,416.2 L279.2,417.7 L279.5,419.1 L279.8,420.6 L280.1,422.1 L280.4,423.6 L280.7,425.0 L280.9,426.5 L281.2,428.0 L281.5,429.5 L281.8,430.9 L282.0,432.4 L282.3,433.9 L282.6,435.4 L282.9,436.9 L283.1,438.3 L283.4,439.8 L283.7,441.3 L283.9,442.8 L284.2,444.3 L284.5,445.7 L284.7,447.2 L285.0,448.7 L285.3,450.2 L285.5,451.7 L285.8,453.1 L286.1,454.6 L286.3,456.1 L286.6,457.6 L286.8,459.1 L287.1,460.6 L287.4,462.0 L287.6,463.5 L287.9,465.0 L288.1,466.5 L288.4,468.0 L288.6,469.4 L288.9,470.9 L289.1,472.4 L289.4,473.9 L289.6,475.4 L289.9,476.9 L290.1,478.3 L290.4,479.8 L290.6,481.3 L290.9,482.8 L291.1,484.3 L291.4,485.8 L291.6,487.3 L291.9,488.7 L292.1,490.2 L292.3,491.7 L292.6,493.2 L292.8,494.7 L293.1,496.2 L293.3,497.7 L293.5,499.1 L293.8,500.6 L294.0,502.1 L294.2,503.6 L294.5,505.1 L294.7,506.6 L294.9,508.1 L295.2,509.5 L295.4,511.0 L295.6,512.5 L295.9,514.0 L296.1,515.5 L296.3,517.0 L296.6,518.5 L296.8,520.0 L297.0,521.4 L297.3,522.9 L297.5,524.4 L297.7,525.9 L297.9,527.4 L298.2,528.9 L298.4,530.4 L298.6,531.9 L298.8,533.3 L299.1,534.8 L299.3,536.3 L299.5,537.8 L299.7,539.3 L300.0,540.8 L300.2,542.3 L300.4,543.8 L300.6,545.3 L300.8,546.7 L301.1,548.2 L301.3,549.7 L301.5,551.2 L301.7,552.7 L301.9,554.2 L302.2,555.7 L302.4,557.2 L302.6,558.7 L302.8,560.2 L303.0,561.6 L303.2,563.1 L303.5,564.6 L303.7,566.1 L303.9,567.6 L304.1,569.1 L304.3,570.6 L304.5,572.1 L304.8,573.6 L305.0,575.1 L305.2,576.5 L305.4,578.0 L305.6,579.5 L305.8,581.0 L306.0,582.5 L306.2,584.0 L306.5,585.5 L306.7,587.0 L306.9,588.5 L307.1,590.0 L307.3,591.5 L307.5,592.9 L307.7,594.4 L307.9,595.9 L308.1,597.4 L308.4,598.9 L308.6,600.4 L308.8,601.9 L309.0,603.4 L309.2,604.9 L309.4,606.4 L309.6,607.9 L309.8,609.3 L310.0,610.8 L310.2,612.3 L310.5,613.8 L310.7,615.3 L310.9,616.8 L311.1,618.3 L311.3,619.8 L311.5,621.3 L311.7,622.8 L311.9,624.3 L312.1,625.7 L312.3,627.2 L312.5,628.7 L312.7,630.2 L313.0,631.7 L313.2,633.2 L313.4,634.7 L313.6,636.2 L313.8,637.7 L314.0,639.2 L314.2,640.7 L314.4,642.1 L314.6,643.6 L314.8,645.1 L315.0,646.6 L315.2,648.1 L315.5,649.6 L315.7,651.1 L315.9,652.6 L316.1,654.1 L316.3,655.6 L316.5,657.0 L316.7,658.5 L316.9,660.0 L317.1,661.5 L317.3,663.0 L317.6,664.5 L317.8,666.0 L318.0,667.5 L318.2,669.0 L318.4,670.5 L318.6,671.9 L318.8,673.4 L319.0,674.9 L319.2,676.4 L319.5,677.9 L319.7,679.4 L319.9,680.9 L320.1,682.4 L320.3,683.9 L320.5,685.3 L320.7,686.8 L320.9,688.3 L321.2,689.8 L321.4,691.3 L321.6,692.8 L321.8,694.3 L322.0,695.8 L322.2,697.3 L322.5,698.7 L322.7,700.2 L322.9,701.7 L323.1,703.2 L323.3,704.7 L323.5,706.2 L323.8,707.7 L324.0,709.2 L324.2,710.6 L324.4,712.1 L324.6,713.6 L324.9,715.1 L325.1,716.6 L325.3,718.1 L325.5,719.6 L325.7,721.1 L326.0,722.5 L326.2,724.0 L326.4,725.5 L326.6,727.0 L326.9,728.5 L327.1,730.0 L327.3,731.5 L327.5,732.9 L327.8,734.4 L328.0,735.9 L328.2,737.4 L328.5,738.9 L328.7,740.4 L328.9,741.9 L329.2,743.3 L329.4,744.8 L329.6,746.3 L329.9,747.8 L330.1,749.3 L330.3,750.8 L330.6,752.2 L330.8,753.7 L331.1,755.2 L331.3,756.7 L331.6,758.2 L331.8,759.7 L332.0,761.1 L332.3,762.6 L332.5,764.1 L332.8,765.6 L333.0,767.1 L333.3,768.6 L333.5,770.0 L333.8,771.5 L334.0,773.0 L334.3,774.5 L334.6,776.0 L334.8,777.4 L335.1,778.9 L335.3,780.4 L335.6,781.9 L335.9,783.4 L336.1,784.8 L336.4,786.3 L336.7,787.8 L336.9,789.3 L337.2,790.8 L337.5,792.2 L337.7,793.7 L338.0,795.2 L338.3,796.7 L338.6,798.1 L338.8,799.6 L339.1,801.1 L339.4,802.6 L339.7,804.0 L340.0,805.5 L340.3,807.0 L340.6,808.5 L340.8,810.0 L341.1,811.4 L341.4,812.9 L341.7,814.4 L342.0,815.9 L342.3,817.3 L342.6,818.8 L342.9,820.3 L343.2,821.7 L343.5,823.2 L343.8,824.7 L344.1,826.2 L344.5,827.6 L344.8,829.1 L345.1,830.6 L345.4,832.1 L345.7,833.5 L346.0,835.0 L346.4,836.5 L346.7,837.9 L347.0,839.4 L347.3,840.9 L347.7,842.3 L348.0,843.8 L348.3,845.3 L348.7,846.8 L349.0,848.2 L349.3,849.7 L349.7,851.2 L350.0,852.6 L350.4,854.1 L350.7,855.6 L351.1,857.0 L351.4,858.5 L351.8,860.0 L352.2,861.4 L352.5,862.9 L352.9,864.4 L353.2,865.8 L353.6,867.3 L354.0,868.7 L354.3,870.2 L354.7,871.7 L355.1,873.1 L355.5,874.6 L355.9,876.1 L356.2,877.5 L356.6,879.0 L357.0,880.4 L357.4,881.9 L357.8,883.4 L358.2,884.8 L358.6,886.3 L359.0,887.7 L359.4,889.2 L359.8,890.7 L360.2,892.1 L360.6,893.6 L361.1,895.0 L361.5,896.5 L361.9,897.9 L362.3,899.4 L362.8,900.8 L363.2,902.3 L363.7,903.7 L364.2,905.1 L364.7,906.6 L365.2,908.0 L365.7,909.4 L366.2,910.8 L366.7,912.3 L367.3,913.7 L367.8,915.1 L368.4,916.5 L369.0,917.8 L369.6,919.2 L370.2,920.6 L370.9,922.0 L371.5,923.3 L372.2,924.7 L372.9,926.0 L373.6,927.3 L374.3,928.7 L375.1,930.0 L375.9,931.3 L376.7,932.5 L377.5,933.8 L378.4,935.1 L379.3,936.3 L380.2,937.5 L381.1,938.6 L382.1,939.8 L383.1,940.8 L384.1,941.9 L385.2,942.8 L386.3,943.8 L387.5,944.6 L388.6,945.5 L389.9,946.2 L391.1,946.9 L392.4,947.6 L393.7,948.2 L395.0,948.8 L396.3,949.3 L397.7,949.8 L399.1,950.3 L400.5,950.7 L402.0,951.1 L403.4,951.4 L404.9,951.8 L406.4,952.0 L407.9,952.3 L409.4,952.5 L410.9,952.7 L412.5,952.9 L414.0,953.1 L415.5,953.2 L417.1,953.4 L418.6,953.5 L420.2,953.6 L421.7,953.7 L423.3,953.7 L424.9,953.8 L426.4,953.9 L427.9,953.9 L429.5,954.0 L431.0,954.0 L432.5,954.0 L434.1,954.1 L435.6,954.1 L437.1,954.1 L438.6,954.1 L440.1,954.1 L441.7,954.2 L443.2,954.2 L444.7,954.2 L446.2,954.2 L447.7,954.2 L449.2,954.2 L450.7,954.2 L452.2,954.2 L453.7,954.2 L455.2,954.2 L456.7,954.2 L458.2,954.3 L459.7,954.3 L461.1,954.3 L462.6,954.3 L464.1,954.3 L465.6,954.4 L467.1,954.4 L468.6,954.4 L470.1,954.5 L471.6,954.5 L473.1,954.6 L474.6,954.6 L476.1,954.7 L477.6,954.8 L479.1,954.8 L480.6,954.9 L482.0,955.0 L483.5,955.1 L485.0,955.2 L486.5,955.3 L488.0,955.4 L489.5,955.5 L491.0,955.6 L492.5,955.7 L494.0,955.8 L495.5,955.9 L497.0,956.1 L498.5,956.2 L500.0,956.3 L501.5,956.5 L503.0,956.6 L504.5,956.8 L506.0,956.9 L507.5,957.1 L509.0,957.2 L510.5,957.4 L512.0,957.6 L513.4,957.8 L514.9,957.9 L516.4,958.1 L517.9,958.3 L519.4,958.5 L520.9,958.7 L522.4,958.9 L523.9,959.1 L525.4,959.3 L526.9,959.5 L528.4,959.7 L529.9,959.9 L531.4,960.1 L532.8,960.3 L534.3,960.5 L535.8,960.7 L537.3,960.9 L538.8,961.1 L540.3,961.2 L541.8,961.4 L543.3,961.6 L544.8,961.8 L546.3,961.9 L547.8,962.1 L549.3,962.2 L550.8,962.3 L552.3,962.4 L553.8,962.5 L555.3,962.6 L556.8,962.7 L558.3,962.8 L559.8,962.8 L561.3,962.9 L562.8,962.9 L564.3,963.0 L565.8,963.0 L567.3,963.0 L568.8,963.0 L570.3,963.0 L571.8,963.0 L573.3,963.0 L574.8,962.9 L576.3,962.9 L577.8,962.9 L579.3,962.8 L580.8,962.8 L582.4,962.7 L583.9,962.7 L585.4,962.6 L586.9,962.6 L588.4,962.5 L589.9,962.5 L591.4,962.4 L592.9,962.4 L594.4,962.3 L595.9,962.3 L597.4,962.2 L598.9,962.2 L600.5,962.1 L602.0,962.1 L603.5,962.1 L605.0,962.0 L606.5,962.0 L608.0,962.0 L609.5,962.0 L611.0,962.0 L612.5,962.0 L614.0,962.0 L615.5,962.0 L617.0,962.0 L618.5,962.0 L620.0,962.1 L621.5,962.2 L623.0,962.2 L624.5,962.3 L624.5,961.9 L624.6,960.7 L624.6,959.0 L624.7,956.8 L624.8,954.2 L625.0,951.4 L625.1,948.5 L625.3,945.7 L625.5,943.0 L625.7,940.6 L625.9,938.5 L626.2,936.4 L626.4,934.3 L626.7,932.1 L627.0,929.9 L627.3,927.8 L627.6,925.7 L628.0,923.6 L628.3,921.5 L628.7,919.5 L629.1,917.6 L629.6,915.4 L630.1,913.3 L630.6,911.2 L631.1,909.1 L631.7,907.1 L632.3,905.2 L633.0,903.3 L633.7,901.5 L634.7,899.4 L635.8,897.2 L636.9,895.2 L638.1,893.3 L639.4,891.5 L640.6,890.0 L642.2,888.1 L643.9,886.6 L646.4,885.3 L647.6,884.9 L648.9,884.6 L650.3,884.4 L651.9,884.2 L653.6,884.1 L655.4,884.0 L657.3,883.9 L659.2,883.9 L661.3,883.9 L663.5,883.9 L665.7,883.9 L667.9,884.0 L670.2,884.0 L672.5,884.1 L674.9,884.2 L677.3,884.2 L679.6,884.2 L682.0,884.3 L684.4,884.2 L686.7,884.2 L688.4,884.2 L690.2,884.1 L692.0,884.1 L693.8,884.0 L695.6,884.0 L697.4,883.9 L699.3,883.9 L701.1,883.8 L703.0,883.8 L704.9,883.7 L706.8,883.7 L708.8,883.6 L710.7,883.6 L712.7,883.6 L714.7,883.5 L716.7,883.5 L718.7,883.4 L720.7,883.4 L722.8,883.3 L724.8,883.3 L726.9,883.2 L729.0,883.2 L731.1,883.1 L733.3,883.1 L735.4,883.0 L737.6,883.0 L739.7,882.9 L741.9,882.9 L744.1,882.8 L746.4,882.8 L748.6,882.7 L750.8,882.7 L753.1,882.6 L755.4,882.6 L757.7,882.5 L760.0,882.5 L761.7,882.5 L763.5,882.4 L765.2,882.4 L767.0,882.4 L768.8,882.3 L770.6,882.3 L772.4,882.3 L774.3,882.2 L776.1,882.2 L778.0,882.2 L779.8,882.1 L781.7,882.1 L783.6,882.1 L785.5,882.0 L787.4,882.0 L789.3,882.0 L791.3,881.9 L793.2,881.9 L795.2,881.9 L797.1,881.8 L799.1,881.8 L801.1,881.8 L803.1,881.7 L805.1,881.7 L807.1,881.7 L809.1,881.6 L811.1,881.6 L813.2,881.6 L815.2,881.5 L817.2,881.5 L819.3,881.5 L821.3,881.4 L823.4,881.4 L825.5,881.4 L827.5,881.3 L829.6,881.3 L831.7,881.3 L833.8,881.2 L835.8,881.2 L837.9,881.2 L840.0,881.1 L842.1,881.1 L844.2,881.1 L846.3,881.0 L848.4,881.0 L850.5,881.0 L852.6,880.9 L854.7,880.9 L856.8,880.9 L858.9,880.8 L861.0,880.8 L863.1,880.8 L865.3,880.8 L867.4,880.7 L869.5,880.7 L871.6,880.7 L873.7,880.6 L875.8,880.6 L877.9,880.6 L880.0,880.5 L882.0,880.5 L884.1,880.5 L886.2,880.4 L888.3,880.4 L890.2,880.4 L892.2,880.3 L894.1,880.3 L896.1,880.3 L898.1,880.3 L900.1,880.2 L902.1,880.2 L904.1,880.2 L906.1,880.1 L908.1,880.1 L910.1,880.1 L912.1,880.0 L914.2,880.0 L916.2,880.0 L918.3,880.0 L920.3,879.9 L922.4,879.9 L924.4,879.9 L926.5,879.8 L928.5,879.8 L930.6,879.8 L932.7,879.7 L934.8,879.7 L936.8,879.7 L938.9,879.7 L941.0,879.6 L943.1,879.6 L945.2,879.6 L947.3,879.5 L949.4,879.5 L951.4,879.5 L953.5,879.5 L955.6,879.4 L957.7,879.4 L959.8,879.4 L961.9,879.3 L964.0,879.3 L966.0,879.3 L968.1,879.2 L970.2,879.2 L972.3,879.2 L974.3,879.2 L976.4,879.1 L978.5,879.1 L980.5,879.1 L982.6,879.0 L984.6,879.0 L986.7,879.0 L988.7,879.0 L990.7,878.9 L992.8,878.9 L994.8,878.9 L996.8,878.9 L998.8,878.8 L1000.8,878.8 L1002.8,878.8 L1004.8,878.7 L1006.8,878.7 L1008.7,878.7 L1010.7,878.7 L1012.6,878.6 L1014.6,878.6 L1016.5,878.6 L1018.4,878.6 L1020.3,878.5 L1022.2,878.5 L1024.1,878.5 L1026.0,878.5 L1027.9,878.4 L1029.7,878.4 L1031.6,878.4 L1033.4,878.3 L1035.2,878.3 L1037.0,878.3 L1039.2,878.3 L1041.4,878.2 L1043.5,878.2 L1045.7,878.2 L1047.8,878.2 L1049.8,878.1 L1051.9,878.1 L1053.9,878.1 L1055.9,878.0 L1057.8,878.0 L1059.8,878.0 L1061.7,878.0 L1063.7,877.9 L1065.6,877.9 L1067.5,877.9 L1069.3,877.8 L1071.2,877.8 L1073.1,877.8 L1075.0,877.8 L1076.8,877.7 L1078.7,877.7 L1080.5,877.7 L1082.4,877.7 L1084.2,877.6 L1086.1,877.6 L1088.0,877.6 L1089.9,877.6 L1091.7,877.5 L1093.6,877.5 L1095.5,877.5 L1097.5,877.5 L1099.4,877.4 L1101.3,877.4 L1103.3,877.4 L1105.3,877.3 L1107.3,877.3 L1109.3,877.3 L1111.4,877.3 L1113.5,877.2 L1115.6,877.2 L1117.7,877.2 L1119.9,877.2 L1122.1,877.1 L1124.4,877.1 L1126.6,877.1 L1129.0,877.1 L1131.3,877.0 L1133.7,877.0 L1135.3,877.0 L1136.9,877.0 L1138.6,876.9 L1140.2,876.9 L1141.8,876.9 L1143.5,876.9 L1145.1,876.9 L1146.8,876.8 L1148.5,876.8 L1150.2,876.8 L1151.9,876.8 L1153.6,876.8 L1155.3,876.7 L1157.0,876.7 L1158.7,876.7 L1160.4,876.7 L1162.2,876.7 L1163.9,876.6 L1165.7,876.6 L1167.4,876.6 L1169.2,876.6 L1171.0,876.6 L1172.8,876.5 L1174.6,876.5 L1176.4,876.5 L1178.2,876.5 L1180.0,876.5 L1181.8,876.4 L1183.7,876.4 L1185.5,876.4 L1187.4,876.4 L1189.2,876.4 L1191.1,876.3 L1192.9,876.3 L1194.8,876.3 L1196.7,876.3 L1198.6,876.2 L1200.5,876.2 L1202.4,876.2 L1204.3,876.2 L1206.2,876.2 L1208.2,876.1 L1210.1,876.1 L1212.1,876.1 L1214.0,876.1 L1216.0,876.0 L1217.9,876.0 L1219.9,876.0 L1221.9,876.0 L1223.9,876.0 L1225.9,875.9 L1227.9,875.9 L1229.9,875.9 L1231.9,875.9 L1233.9,875.9 L1235.9,875.8 L1238.0,875.8 L1240.0,875.8 L1242.1,875.8 L1244.1,875.8 L1246.2,875.7 L1248.2,875.7 L1250.3,875.7 L1252.4,875.7 L1254.5,875.6 L1256.6,875.6 L1258.7,875.6 L1260.8,875.6 L1262.9,875.6 L1265.0,875.5 L1267.1,875.5 L1269.3,875.5 L1271.4,875.5 L1273.5,875.5 L1275.7,875.4 L1277.9,875.4 L1280.0,875.4 L1282.2,875.4 L1284.4,875.4 L1286.5,875.4 L1288.7,875.3 L1290.9,875.3 L1293.1,875.3 L1295.3,875.3 L1297.5,875.3 L1299.8,875.2 L1302.0,875.2 L1304.2,875.2 L1306.5,875.2 L1308.7,875.2 L1310.9,875.2 L1313.2,875.1 L1315.5,875.1 L1317.7,875.1 L1320.0,875.1 L1322.3,875.1 L1324.5,875.1 L1326.8,875.0 L1329.1,875.0 L1331.4,875.0 L1333.7,875.0 L1336.0,875.0 L1338.3,875.0 L1340.7,875.0 L1343.0,874.9 L1345.3,874.9 L1347.7,874.9 L1350.0,874.9 L1351.7,874.9 L1353.3,874.9 L1355.0,874.9 L1356.8,874.9 L1358.5,874.9 L1360.2,874.8 L1362.0,874.8 L1363.7,874.8 L1365.5,874.8 L1367.3,874.8 L1369.1,874.8 L1370.9,874.8 L1372.7,874.8 L1374.6,874.8 L1376.4,874.8 L1378.3,874.8 L1380.2,874.8 L1382.1,874.7 L1384.0,874.7 L1385.9,874.7 L1387.8,874.7 L1389.8,874.7 L1391.7,874.7 L1393.7,874.7 L1395.6,874.7 L1397.6,874.7 L1399.6,874.7 L1401.6,874.7 L1403.6,874.7 L1405.6,874.7 L1407.7,874.7 L1409.7,874.7 L1411.7,874.7 L1413.8,874.6 L1415.9,874.6 L1417.9,874.6 L1420.0,874.6 L1422.1,874.6 L1424.2,874.6 L1426.3,874.6 L1428.5,874.6 L1430.6,874.6 L1432.7,874.6 L1434.9,874.6 L1437.0,874.6 L1439.2,874.6 L1441.3,874.6 L1443.5,874.6 L1445.7,874.6 L1447.9,874.6 L1450.1,874.6 L1452.3,874.6 L1454.5,874.6 L1456.7,874.5 L1458.9,874.5 L1461.1,874.5 L1463.3,874.5 L1465.6,874.5 L1467.8,874.5 L1470.1,874.5 L1472.3,874.5 L1474.6,874.5 L1476.8,874.5 L1479.1,874.5 L1481.3,874.5 L1483.6,874.5 L1485.9,874.5 L1488.2,874.5 L1490.5,874.5 L1492.7,874.5 L1495.0,874.5 L1497.3,874.5 L1499.6,874.5 L1501.9,874.5 L1504.2,874.5 L1506.5,874.5 L1508.8,874.5 L1511.2,874.5 L1513.5,874.5 L1515.8,874.5 L1518.1,874.5 L1520.4,874.5 L1522.7,874.5 L1525.1,874.5 L1527.4,874.5 L1529.7,874.5 L1532.0,874.5 L1534.3,874.4 L1536.7,874.4 L1539.0,874.4 L1541.3,874.4 L1543.6,874.4 L1546.0,874.4 L1548.3,874.4 L1550.6,874.4 L1553.0,874.4 L1555.3,874.4 L1557.6,874.4 L1559.9,874.4 L1562.2,874.4 L1564.6,874.4 L1566.9,874.4 L1569.2,874.4 L1571.5,874.4 L1573.8,874.4 L1576.1,874.4 L1578.4,874.4 L1580.7,874.4 L1583.1,874.4 L1585.4,874.4 L1587.6,874.4 L1589.9,874.4 L1592.2,874.4 L1594.5,874.4 L1596.8,874.4 L1599.1,874.4 L1601.4,874.4 L1603.6,874.4 L1605.9,874.4 L1608.2,874.4 L1610.4,874.4 L1612.7,874.4 L1614.9,874.4 L1617.2,874.4 L1619.4,874.4 L1621.7,874.4 L1623.9,874.4 L1626.1,874.4 L1628.3,874.4 L1630.5,874.4 L1632.7,874.4 L1634.9,874.4 L1637.1,874.4 L1639.3,874.4 L1641.5,874.4 L1643.7,874.4 L1645.8,874.4 L1648.0,874.4 L1650.1,874.4 L1652.3,874.4 L1654.4,874.4 L1656.6,874.4 L1658.7,874.4 L1660.8,874.4 L1662.9,874.4 L1665.0,874.4 L1667.1,874.4 L1669.2,874.4 L1671.2,874.4 L1673.3,874.4 L1675.3,874.4 L1677.4,874.4 L1679.4,874.4 L1681.4,874.4 L1683.4,874.4 L1685.4,874.4 L1687.4,874.4 L1689.4,874.4 L1691.4,874.4 L1693.3,874.3 L1695.3,874.3 L1697.2,874.3 L1699.2,874.3 L1701.1,874.3 L1703.0,874.3 L1704.9,874.3 L1706.7,874.3 L1708.6,874.3 L1710.5,874.3 L1712.3,874.3 L1714.1,874.3 L1716.0,874.3 L1717.8,874.3 L1719.6,874.3 L1721.3,874.3 L1723.1,874.3 L1724.9,874.3 L1726.6,874.3 L1728.3,874.3 L1730.0,874.3 L1731.7,874.3 L1733.4,874.3 L1735.1,874.3 L1736.8,874.3 L1738.4,874.3 L1740.0,874.3 L1741.6,874.3 L1743.2,874.3 L1744.8,874.3 L1746.4,874.3 L1747.9,874.3 L1749.5,874.3 L1751.0,874.3 L1752.5,874.3 L1754.0,874.3 L1755.4,874.3 L1756.9,874.3 L1758.3,874.3 L1759.7,874.3 L1761.1,874.3 L1762.5,874.3 L1763.9,874.3 L1765.2,874.2 L1766.6,874.2 L1767.9,874.2 L1769.2,874.2 L1770.5,874.2 L1771.7,874.2 L1773.0,874.2 L1774.2,874.2 L1775.4,874.2 L1776.6,874.2 L1777.7,874.2 L1778.9,874.2 L1780.0,874.2 L1782.9,874.2 L1785.8,874.2 L1788.8,874.2 L1791.7,874.1 L1794.6,874.1 L1797.5,874.1 L1800.3,874.1 L1803.2,874.1 L1805.9,874.1 L1808.7,874.1 L1811.4,874.0 L1814.0,874.0 L1816.6,874.0 L1819.1,874.0 L1821.5,874.0 L1823.9,874.0 L1826.1,873.9 L1828.3,873.9 L1830.3,873.9 L1832.3,873.9 L1834.1,873.9 L1835.8,873.9 L1837.3,873.9 L1838.8,873.8 L1840.1,873.8 L1841.2,873.8 L1842.2,873.8 L1843.0,873.8 L1843.6,873.8 L1844.1,873.8 L1844.4,873.8 L1844.5,873.8 L1845.3,872.5 L1847.1,870.2 L1848.5,869.0 L1849.2,870.1 L1849.7,872.3 L1850.0,875.0 L1850.1,876.6 L1850.2,878.5 L1850.2,880.5 L1850.1,882.7 L1850.1,884.9 L1850.0,887.2 L1850.0,889.4 L1850.1,891.5 L1850.2,893.5 L1850.5,895.8 L1850.8,898.0 L1851.2,900.2 L1851.6,902.3 L1852.1,904.4 L1852.6,906.5 L1853.2,908.6 L1853.8,910.6 L1854.4,912.7 L1855.1,914.7 L1855.9,916.7 L1856.6,918.5 L1857.5,920.7 L1858.3,922.8 L1859.3,924.8 L1860.6,926.6 L1862.3,928.3 L1864.2,929.9 L1866.3,931.2 L1868.7,932.3 L1870.4,932.8 L1872.2,933.1 L1874.2,933.3 L1876.3,933.4 L1878.4,933.5 L1880.5,933.5 L1882.7,933.7 L1884.8,933.9 L1886.9,934.2 L1889.2,934.6 L1891.8,935.1 L1894.4,935.5 L1897.0,936.0 L1899.4,936.5 L1901.4,936.9 L1903.1,937.2 L1904.1,937.4 L1904.5,937.5" stroke="#b87ed4" stroke-width="4.7"/>
<path d="M277.8,693.0 L278.2,694.4 L278.7,695.9 L279.1,697.3 L279.5,698.8 L279.9,700.2 L280.3,701.7 L280.7,703.1 L281.1,704.6 L281.5,706.0 L281.9,707.5 L281.9,707.7 M286.7,728.5 L286.9,729.4 L287.2,730.9 L287.5,732.4 L287.8,733.8 L288.1,735.3 L288.4,736.8 L288.6,738.3 L288.9,739.7 L289.2,741.2 L289.5,742.7 L289.7,744.2 L290.0,745.6 L290.3,747.1 L290.5,748.6 L290.7,749.4 M294.1,770.3 L294.2,770.8 L294.4,772.3 L294.7,773.8 L294.9,775.3 L295.1,776.8 L295.4,778.2 L295.6,779.7 L295.8,781.2 L296.1,782.7 L296.3,784.2 L296.5,785.7 L296.8,787.1 L297.0,788.6 L297.3,790.1 L297.4,791.2 M300.8,812.2 L300.9,812.3 L301.1,813.8 L301.4,815.3 L301.6,816.8 L301.9,818.3 L302.1,819.7 L302.4,821.2 L302.6,822.7 L302.9,824.2 L303.1,825.7 L303.4,827.2 L303.6,828.6 L303.9,830.1 L304.1,831.6 L304.4,833.1 L304.4,833.1 M308.1,854.0 L308.3,855.3 L308.5,856.7 L308.8,858.2 L309.1,859.7 L309.3,861.2 L309.6,862.6 L309.9,864.1 L310.2,865.6 L310.4,867.1 L310.7,868.6 L311.0,870.0 L311.2,871.5 L311.5,873.0 L311.8,874.5 L311.9,874.9 M315.8,895.7 L315.9,896.6 L316.2,898.1 L316.5,899.6 L316.7,901.0 L317.0,902.5 L317.3,904.0 L317.6,905.5 L317.8,906.9 L318.1,908.4 L318.4,909.9 L318.7,911.4 L318.9,912.9 L319.2,914.3 L319.5,915.8 L319.6,916.6 M323.5,937.5 L323.5,938.0 L323.8,939.5 L324.1,940.9 L324.3,942.4 L324.6,943.9 L324.8,945.4 L325.1,946.8 L325.4,948.3 L325.6,949.8 L325.9,951.3 L326.1,952.8 L326.4,954.2 L326.6,955.7 L326.9,957.2 L327.1,958.4 M330.5,979.4 L330.5,979.4 L330.7,980.9 L330.9,982.4 L331.1,983.9 L331.4,985.4 L331.6,986.9 L331.8,988.3 L332.0,989.8 L332.2,991.3 L332.4,992.8 L332.7,994.3 L332.9,995.8 L333.1,997.3 L333.3,998.8 L333.5,1000.2 L333.5,1000.3 M336.3,1021.3 L336.5,1022.6 L336.7,1024.1 L336.9,1025.5 L337.1,1027.0 L337.3,1028.5 L337.5,1030.0 L337.6,1031.5 L337.8,1033.0 L338.0,1034.5 L338.2,1036.0 L338.4,1037.5 L338.6,1038.9 L338.8,1040.4 L339.0,1041.9 L339.1,1042.3 M341.9,1063.3 L342.0,1064.3 L342.2,1065.7 L342.4,1067.2 L342.7,1068.7 L342.9,1070.2 L343.1,1071.7 L343.3,1073.2 L343.5,1074.7 L343.7,1076.2 L343.9,1077.7 L344.2,1079.1 L344.4,1080.6 L344.6,1082.1 L344.8,1083.6 L344.9,1084.3 M348.3,1105.2 L348.4,1105.8 L348.6,1107.3 L348.9,1108.8 L349.1,1110.3 L349.4,1111.8 L349.6,1113.2 L349.9,1114.7 L350.2,1116.2 L350.4,1117.7 L350.7,1119.2 L350.9,1120.6 L351.2,1122.1 L351.5,1123.6 L351.8,1125.1 L352.0,1126.1 M356.1,1146.9 L356.1,1147.1 L356.4,1148.6 L356.7,1150.1 L357.1,1151.5 L357.4,1153.0 L357.7,1154.5 L358.0,1155.9 L358.3,1157.4 L358.6,1158.9 L358.9,1160.3 L359.2,1161.8 L359.5,1163.3 L359.8,1164.7 L360.1,1166.2 L360.4,1167.7 L360.4,1167.8 M364.3,1188.6 L364.5,1189.8 L364.7,1191.3 L365.0,1192.8 L365.3,1194.2 L365.5,1195.7 L365.8,1197.2 L366.0,1198.7 L366.3,1200.2 L366.6,1201.6 L366.8,1203.1 L367.1,1204.6 L367.4,1206.1 L367.6,1207.6 L367.9,1209.0 L368.0,1209.5 M372.0,1230.4 L372.2,1231.2 L372.5,1232.7 L372.8,1234.2 L373.1,1235.7 L373.4,1237.1 L373.7,1238.6 L374.1,1240.1 L374.4,1241.5 L374.7,1243.0 L375.1,1244.5 L375.4,1246.0 L375.8,1247.4 L376.2,1248.9 L376.5,1250.4 L376.7,1251.2 M382.8,1271.7 L382.9,1272.2 L383.4,1273.6 L383.9,1275.0 L384.5,1276.5 L385.0,1277.9 L385.6,1279.3 L386.1,1280.7 L386.7,1282.0 L387.3,1283.4 L387.9,1284.8 L388.5,1286.2 L389.2,1287.5 L389.8,1288.9 L390.5,1290.2 L391.2,1291.5 L391.3,1291.7 M403.7,1310.4 L404.4,1311.2 L405.4,1312.4 L406.4,1313.5 L407.4,1314.6 L408.4,1315.6 L409.4,1316.7 L410.5,1317.8 L411.5,1318.8 L412.6,1319.8 L413.7,1320.8 L414.8,1321.8 L415.9,1322.8 L417.0,1323.8 L418.2,1324.7 L419.3,1325.6 L420.5,1326.6 L420.7,1326.7 M441.7,1339.7 L442.1,1339.9 L443.4,1340.6 L444.8,1341.3 L446.2,1341.9 L447.6,1342.5 L449.0,1343.2 L450.4,1343.8 L451.8,1344.4 L453.2,1344.9 L454.6,1345.5 L456.0,1346.1 L457.4,1346.6 L458.9,1347.2 L460.3,1347.7 L461.7,1348.2 L463.2,1348.7 L464.6,1349.2 L465.4,1349.5 M490.7,1356.5 L491.2,1356.6 L492.7,1357.0 L494.2,1357.3 L495.7,1357.6 L497.2,1357.9 L498.6,1358.2 L500.1,1358.5 L501.6,1358.8 L503.1,1359.1 L504.6,1359.4 L506.1,1359.6 L507.5,1359.9 L509.0,1360.1 L510.5,1360.4 L512.0,1360.6 L513.5,1360.9 L514.9,1361.1 L516.4,1361.3 L516.7,1361.3 M543.3,1364.0 L544.5,1364.1 L546.0,1364.2 L547.5,1364.2 L549.0,1364.3 L550.5,1364.4 L552.0,1364.4 L553.4,1364.4 L554.9,1364.5 L556.4,1364.5 L557.9,1364.5 L559.4,1364.5 L560.9,1364.5 L562.4,1364.5 L563.9,1364.5 L565.4,1364.5 L566.8,1364.5 L568.3,1364.5 L569.8,1364.4 L570.1,1364.4 M596.8,1363.1 L598.3,1363.0 L599.8,1362.9 L601.3,1362.8 L602.8,1362.7 L604.3,1362.6 L605.8,1362.5 L607.3,1362.4 L608.8,1362.3 L610.3,1362.3 L611.8,1362.2 L613.4,1362.1 L614.9,1362.0 L616.4,1361.9 L617.9,1361.9 L619.4,1361.8 L620.9,1361.7 L622.4,1361.7 L623.6,1361.6 M650.3,1360.7 L650.9,1360.7 L652.4,1360.6 L653.9,1360.6 L655.4,1360.6 L656.9,1360.5 L658.4,1360.5 L659.9,1360.5 L661.4,1360.4 L662.9,1360.4 L664.4,1360.4 L665.9,1360.3 L667.4,1360.3 L668.9,1360.3 L670.4,1360.2 L671.9,1360.2 L673.4,1360.2 L674.9,1360.2 L676.4,1360.1 L677.1,1360.1 M703.9,1359.8 L705.0,1359.8 L706.5,1359.7 L708.0,1359.7 L709.5,1359.7 L711.0,1359.7 L712.5,1359.7 L714.0,1359.6 L715.5,1359.6 L717.0,1359.6 L718.5,1359.6 L720.0,1359.6 L721.5,1359.5 L723.0,1359.5 L724.5,1359.5 L726.0,1359.5 L727.5,1359.4 L729.0,1359.4 L730.5,1359.4 L730.7,1359.4 M757.5,1358.9 L757.5,1358.9 L759.0,1358.9 L760.5,1358.9 L762.0,1358.8 L763.5,1358.8 L765.0,1358.8 L766.5,1358.7 L768.0,1358.7 L769.5,1358.7 L771.0,1358.6 L772.5,1358.6 L774.0,1358.6 L775.5,1358.6 L777.0,1358.5 L778.5,1358.5 L780.0,1358.5 L781.5,1358.4 L783.0,1358.4 L784.3,1358.4 M811.1,1357.8 L811.6,1357.8 L813.1,1357.8 L814.6,1357.7 L816.1,1357.7 L817.6,1357.7 L819.1,1357.6 L820.6,1357.6 L822.1,1357.6 L823.6,1357.5 L825.1,1357.5 L826.6,1357.5 L828.1,1357.4 L829.6,1357.4 L831.1,1357.4 L832.6,1357.3 L834.1,1357.3 L835.6,1357.3 L837.1,1357.2 L837.9,1357.2 M864.7,1356.6 L865.6,1356.6 L867.1,1356.6 L868.6,1356.6 L870.1,1356.5 L871.6,1356.5 L873.1,1356.5 L874.6,1356.4 L876.1,1356.4 L877.6,1356.4 L879.1,1356.4 L880.6,1356.3 L882.1,1356.3 L883.6,1356.3 L885.1,1356.2 L886.6,1356.2 L888.1,1356.2 L889.6,1356.2 L891.1,1356.1 L891.5,1356.1 M918.3,1355.7 L919.7,1355.6 L921.2,1355.6 L922.7,1355.6 L924.2,1355.6 L925.7,1355.5 L927.2,1355.5 L928.7,1355.5 L930.2,1355.5 L931.7,1355.5 L933.2,1355.4 L934.7,1355.4 L936.2,1355.4 L937.7,1355.4 L939.2,1355.4 L940.7,1355.3 L942.2,1355.3 L943.7,1355.3 L945.0,1355.3 M971.8,1355.0 L972.2,1355.0 L973.7,1355.0 L975.2,1355.0 L976.7,1355.0 L978.2,1355.0 L979.7,1355.0 L981.2,1354.9 L982.7,1354.9 L984.2,1354.9 L985.7,1354.9 L987.2,1354.9 L988.7,1354.9 L990.2,1354.9 L991.7,1354.9 L993.2,1354.9 L994.8,1354.8 L996.3,1354.8 L997.8,1354.8 L998.6,1354.8 M1025.4,1354.6 L1026.3,1354.6 L1027.8,1354.6 L1029.3,1354.6 L1030.8,1354.6 L1032.3,1354.6 L1033.8,1354.5 L1035.3,1354.5 L1036.8,1354.5 L1038.3,1354.5 L1039.8,1354.5 L1041.3,1354.5 L1042.8,1354.5 L1044.3,1354.4 L1045.8,1354.4 L1047.3,1354.4 L1048.8,1354.4 L1050.3,1354.4 L1051.8,1354.4 L1052.2,1354.4 M1079.0,1354.0 L1080.3,1354.0 L1081.8,1354.0 L1083.3,1354.0 L1084.8,1354.0 L1086.3,1353.9 L1087.8,1353.9 L1089.3,1353.9 L1090.8,1353.9 L1092.3,1353.8 L1093.8,1353.8 L1095.3,1353.8 L1096.9,1353.7 L1098.4,1353.7 L1099.9,1353.7 L1101.4,1353.7 L1102.9,1353.6 L1104.4,1353.6 L1105.8,1353.6 M1132.6,1353.0 L1132.9,1353.0 L1134.4,1352.9 L1135.9,1352.9 L1137.4,1352.9 L1138.9,1352.8 L1140.4,1352.8 L1141.9,1352.7 L1143.4,1352.7 L1144.9,1352.7 L1146.4,1352.6 L1147.9,1352.6 L1149.4,1352.6 L1150.9,1352.5 L1152.4,1352.5 L1153.9,1352.4 L1155.4,1352.4 L1156.9,1352.4 L1158.4,1352.3 L1159.4,1352.3 M1186.2,1351.7 L1186.9,1351.7 L1188.4,1351.7 L1189.9,1351.6 L1191.4,1351.6 L1192.9,1351.6 L1194.4,1351.5 L1195.9,1351.5 L1197.4,1351.5 L1198.9,1351.4 L1200.4,1351.4 L1201.9,1351.4 L1203.4,1351.3 L1204.9,1351.3 L1206.4,1351.3 L1207.9,1351.3 L1209.4,1351.2 L1210.9,1351.2 L1212.4,1351.2 L1213.0,1351.2 M1239.8,1350.7 L1240.9,1350.7 L1242.4,1350.6 L1244.0,1350.6 L1245.5,1350.6 L1247.0,1350.6 L1248.5,1350.5 L1250.0,1350.5 L1251.5,1350.5 L1253.0,1350.5 L1254.5,1350.5 L1256.0,1350.4 L1257.5,1350.4 L1259.0,1350.4 L1260.5,1350.4 L1262.0,1350.4 L1263.5,1350.3 L1265.0,1350.3 L1266.5,1350.3 L1266.6,1350.3 M1293.4,1350.0 L1293.5,1350.0 L1295.0,1350.0 L1296.5,1350.0 L1298.0,1350.0 L1299.5,1349.9 L1301.0,1349.9 L1302.5,1349.9 L1304.0,1349.9 L1305.5,1349.9 L1307.0,1349.9 L1308.5,1349.9 L1310.0,1349.9 L1311.5,1349.9 L1313.0,1349.8 L1314.5,1349.8 L1316.0,1349.8 L1317.5,1349.8 L1319.0,1349.8 L1320.2,1349.8 M1347.0,1349.7 L1347.6,1349.7 L1349.1,1349.7 L1350.6,1349.7 L1352.1,1349.7 L1353.6,1349.6 L1355.1,1349.6 L1356.6,1349.6 L1358.1,1349.6 L1359.6,1349.6 L1361.1,1349.6 L1362.6,1349.6 L1364.1,1349.6 L1365.6,1349.6 L1367.1,1349.6 L1368.6,1349.6 L1370.1,1349.6 L1371.6,1349.6 L1373.1,1349.6 L1373.8,1349.6 M1400.6,1349.6 L1401.6,1349.6 L1403.1,1349.6 L1404.6,1349.6 L1406.1,1349.6 L1407.6,1349.6 L1409.1,1349.6 L1410.6,1349.6 L1412.1,1349.6 L1413.6,1349.6 L1415.1,1349.6 L1416.6,1349.6 L1418.1,1349.6 L1419.6,1349.6 L1421.1,1349.6 L1422.6,1349.6 L1424.1,1349.6 L1425.6,1349.6 L1427.2,1349.6 L1427.4,1349.6 M1454.2,1349.6 L1454.2,1349.6 L1455.7,1349.6 L1457.2,1349.6 L1458.7,1349.6 L1460.2,1349.6 L1461.7,1349.6 L1463.2,1349.6 L1464.7,1349.6 L1466.2,1349.6 L1467.7,1349.6 L1469.2,1349.6 L1470.7,1349.6 L1472.2,1349.6 L1473.7,1349.6 L1475.2,1349.6 L1476.7,1349.6 L1478.2,1349.6 L1479.7,1349.6 L1481.0,1349.6 M1507.8,1349.6 L1508.2,1349.6 L1509.7,1349.6 L1511.2,1349.6 L1512.7,1349.6 L1514.2,1349.6 L1515.7,1349.6 L1517.2,1349.6 L1518.7,1349.6 L1520.3,1349.6 L1521.8,1349.6 L1523.3,1349.6 L1524.8,1349.6 L1526.3,1349.6 L1527.8,1349.6 L1529.3,1349.6 L1530.8,1349.6 L1532.3,1349.6 L1533.8,1349.6 L1534.6,1349.6 M1561.4,1349.5 L1562.3,1349.5 L1563.8,1349.5 L1565.3,1349.5 L1566.8,1349.5 L1568.3,1349.5 L1569.8,1349.5 L1571.3,1349.4 L1572.8,1349.4 L1574.3,1349.4 L1575.8,1349.4 L1577.3,1349.4 L1578.8,1349.4 L1580.3,1349.4 L1581.8,1349.4 L1583.3,1349.4 L1584.8,1349.4 L1586.3,1349.4 L1587.8,1349.3 L1588.2,1349.3 M1615.0,1349.1 L1616.4,1349.1 L1617.9,1349.1 L1619.4,1349.1 L1620.9,1349.0 L1622.4,1349.0 L1623.9,1349.0 L1625.4,1349.0 L1626.9,1349.0 L1628.4,1349.0 L1629.9,1348.9 L1631.4,1348.9 L1632.9,1348.9 L1634.4,1348.9 L1635.9,1348.9 L1637.4,1348.8 L1638.9,1348.8 L1640.4,1348.8 L1641.8,1348.8 M1668.6,1348.3 L1668.9,1348.3 L1670.4,1348.3 L1671.9,1348.3 L1673.4,1348.2 L1674.9,1348.2 L1676.4,1348.2 L1677.9,1348.1 L1679.4,1348.1 L1680.9,1348.1 L1682.4,1348.1 L1683.9,1348.0 L1685.4,1348.0 L1686.9,1348.0 L1688.4,1347.9 L1689.9,1347.9 L1691.4,1347.8 L1692.9,1347.8 L1694.4,1347.8 L1695.3,1347.8 M1722.1,1347.0 L1723.0,1347.0 L1724.5,1347.0 L1726.0,1346.9 L1727.5,1346.9 L1729.0,1346.8 L1730.5,1346.8 L1732.0,1346.7 L1733.5,1346.7 L1735.0,1346.6 L1736.5,1346.6 L1738.0,1346.5 L1739.5,1346.5 L1741.0,1346.4 L1742.5,1346.4 L1744.0,1346.3 L1745.5,1346.3 L1747.0,1346.2 L1748.5,1346.2 L1748.9,1346.2 M1775.7,1345.1 L1777.0,1345.1 L1778.5,1345.0 L1780.0,1344.9 L1781.5,1344.9 L1783.0,1344.8 L1784.5,1344.7 L1786.0,1344.7 L1787.5,1344.6 L1789.0,1344.5 L1790.5,1344.4 L1792.0,1344.4 L1793.5,1344.3 L1795.0,1344.2 L1796.6,1344.2 L1798.1,1344.1 L1799.6,1344.0 L1801.1,1343.9 L1802.4,1343.9 M1829.2,1342.4 L1829.6,1342.4 L1831.1,1342.3 L1832.6,1342.2 L1834.1,1342.2 L1835.6,1342.1 L1837.1,1342.0 L1838.6,1341.9 L1840.1,1341.9 L1841.6,1341.8 L1843.1,1341.7 L1844.6,1341.7 L1846.1,1341.6 L1847.6,1341.5 L1849.1,1341.5 L1850.6,1341.4 L1852.1,1341.4 L1853.6,1341.4 L1855.1,1341.3 L1855.9,1341.3 M1882.7,1341.7 L1883.6,1341.7 L1885.1,1341.8 L1886.6,1341.9 L1888.1,1342.1 L1889.6,1342.2 L1891.1,1342.3 L1892.5,1342.5 L1894.0,1342.6 L1895.5,1342.8 L1897.0,1343.0 L1898.5,1343.1 L1900.0,1343.3 L1901.5,1343.5 L1903.0,1343.8 L1904.5,1344.0" stroke="#04a36c" stroke-width="4.7"/>
<path d="M277.8,691.7 L278.3,693.1 L278.8,694.6 L279.3,696.0 L279.8,697.4 L280.3,698.8 L280.8,700.3 L281.2,701.7 L281.7,703.1 L282.2,704.6 L282.6,706.0 L283.1,707.5 L283.5,708.9 L283.9,710.4 L284.4,711.8 L284.8,713.2 L285.2,714.7 L285.6,716.1 L286.0,717.6 L286.4,719.0 L286.8,720.5 L287.2,721.9 L287.6,723.4 L287.9,724.9 L288.3,726.3 L288.7,727.8 L289.0,729.2 L289.4,730.7 L289.7,732.1 L290.1,733.6 L290.4,735.1 L290.7,736.5 L291.1,738.0 L291.4,739.5 L291.7,740.9 L292.0,742.4 L292.4,743.9 L292.7,745.3 L293.0,746.8 L293.3,748.3 L293.6,749.7 L293.9,751.2 L294.2,752.7 L294.5,754.2 L294.8,755.6 L295.0,757.1 L295.3,758.6 L295.6,760.1 L295.9,761.5 L296.1,763.0 L296.4,764.5 L296.7,766.0 L296.9,767.5 L297.2,768.9 L297.5,770.4 L297.7,771.9 L298.0,773.4 L298.2,774.9 L298.5,776.4 L298.7,777.8 L299.0,779.3 L299.2,780.8 L299.5,782.3 L299.7,783.8 L299.9,785.3 L300.2,786.7 L300.4,788.2 L300.7,789.7 L300.9,791.2 L301.1,792.7 L301.4,794.2 L301.6,795.7 L301.8,797.1 L302.1,798.6 L302.3,800.1 L302.5,801.6 L302.8,803.1 L303.0,804.6 L303.2,806.1 L303.5,807.6 L303.7,809.0 L303.9,810.5 L304.2,812.0 L304.4,813.5 L304.6,815.0 L304.9,816.5 L305.1,818.0 L305.3,819.5 L305.6,820.9 L305.8,822.4 L306.1,823.9 L306.3,825.4 L306.5,826.9 L306.8,828.4 L307.0,829.9 L307.3,831.4 L307.5,832.8 L307.8,834.3 L308.0,835.8 L308.3,837.3 L308.5,838.8 L308.8,840.3 L309.0,841.7 L309.3,843.2 L309.5,844.7 L309.8,846.2 L310.1,847.7 L310.3,849.2 L310.6,850.6 L310.8,852.1 L311.1,853.6 L311.4,855.1 L311.6,856.6 L311.9,858.1 L312.2,859.5 L312.4,861.0 L312.7,862.5 L312.9,864.0 L313.2,865.5 L313.5,867.0 L313.7,868.4 L314.0,869.9 L314.3,871.4 L314.6,872.9 L314.8,874.4 L315.1,875.8 L315.4,877.3 L315.6,878.8 L315.9,880.3 L316.2,881.8 L316.4,883.2 L316.7,884.7 L317.0,886.2 L317.3,887.7 L317.5,889.2 L317.8,890.7 L318.1,892.1 L318.4,893.6 L318.6,895.1 L318.9,896.6 L319.2,898.1 L319.4,899.5 L319.7,901.0 L320.0,902.5 L320.3,904.0 L320.5,905.5 L320.8,906.9 L321.1,908.4 L321.3,909.9 L321.6,911.4 L321.9,912.9 L322.2,914.3 L322.4,915.8 L322.7,917.3 L323.0,918.8 L323.2,920.3 L323.5,921.7 L323.8,923.2 L324.0,924.7 L324.3,926.2 L324.6,927.7 L324.8,929.1 L325.1,930.6 L325.4,932.1 L325.6,933.6 L325.9,935.1 L326.2,936.6 L326.4,938.0 L326.7,939.5 L326.9,941.0 L327.2,942.5 L327.5,944.0 L327.7,945.4 L328.0,946.9 L328.2,948.4 L328.5,949.9 L328.7,951.4 L329.0,952.9 L329.2,954.3 L329.5,955.8 L329.8,957.3 L330.0,958.8 L330.3,960.3 L330.5,961.8 L330.8,963.2 L331.0,964.7 L331.2,966.2 L331.5,967.7 L331.7,969.2 L332.0,970.7 L332.2,972.1 L332.5,973.6 L332.7,975.1 L333.0,976.6 L333.2,978.1 L333.5,979.6 L333.7,981.0 L333.9,982.5 L334.2,984.0 L334.4,985.5 L334.7,987.0 L334.9,988.5 L335.1,990.0 L335.4,991.4 L335.6,992.9 L335.9,994.4 L336.1,995.9 L336.3,997.4 L336.6,998.9 L336.8,1000.3 L337.1,1001.8 L337.3,1003.3 L337.5,1004.8 L337.8,1006.3 L338.0,1007.8 L338.2,1009.3 L338.5,1010.7 L338.7,1012.2 L338.9,1013.7 L339.2,1015.2 L339.4,1016.7 L339.7,1018.2 L339.9,1019.6 L340.1,1021.1 L340.4,1022.6 L340.6,1024.1 L340.8,1025.6 L341.1,1027.1 L341.3,1028.6 L341.6,1030.0 L341.8,1031.5 L342.0,1033.0 L342.3,1034.5 L342.5,1036.0 L342.7,1037.5 L343.0,1038.9 L343.2,1040.4 L343.5,1041.9 L343.7,1043.4 L343.9,1044.9 L344.2,1046.4 L344.4,1047.9 L344.6,1049.3 L344.9,1050.8 L345.1,1052.3 L345.4,1053.8 L345.6,1055.3 L345.8,1056.8 L346.1,1058.2 L346.3,1059.7 L346.6,1061.2 L346.8,1062.7 L347.1,1064.2 L347.3,1065.7 L347.5,1067.2 L347.8,1068.6 L348.0,1070.1 L348.3,1071.6 L348.5,1073.1 L348.8,1074.6 L349.0,1076.1 L349.3,1077.5 L349.5,1079.0 L349.8,1080.5 L350.0,1082.0 L350.3,1083.5 L350.5,1085.0 L350.8,1086.4 L351.0,1087.9 L351.3,1089.4 L351.5,1090.9 L351.8,1092.4 L352.0,1093.8 L352.3,1095.3 L352.6,1096.8 L352.8,1098.3 L353.1,1099.8 L353.3,1101.3 L353.6,1102.7 L353.9,1104.2 L354.1,1105.7 L354.4,1107.2 L354.6,1108.7 L354.9,1110.1 L355.2,1111.6 L355.4,1113.1 L355.7,1114.6 L356.0,1116.1 L356.3,1117.5 L356.5,1119.0 L356.8,1120.5 L357.1,1122.0 L357.3,1123.5 L357.6,1124.9 L357.9,1126.4 L358.2,1127.9 L358.4,1129.4 L358.7,1130.9 L359.0,1132.3 L359.3,1133.8 L359.6,1135.3 L359.9,1136.8 L360.1,1138.3 L360.4,1139.7 L360.7,1141.2 L361.0,1142.7 L361.3,1144.2 L361.6,1145.6 L361.9,1147.1 L362.2,1148.6 L362.5,1150.1 L362.8,1151.6 L363.1,1153.0 L363.4,1154.5 L363.7,1156.0 L364.0,1157.5 L364.3,1158.9 L364.6,1160.4 L364.9,1161.9 L365.2,1163.4 L365.5,1164.8 L365.8,1166.3 L366.2,1167.8 L366.5,1169.3 L366.8,1170.7 L367.1,1172.2 L367.4,1173.7 L367.8,1175.2 L368.1,1176.6 L368.4,1178.1 L368.7,1179.6 L369.1,1181.0 L369.4,1182.5 L369.7,1184.0 L370.1,1185.5 L370.4,1186.9 L370.7,1188.4 L371.1,1189.9 L371.4,1191.3 L371.8,1192.8 L372.1,1194.3 L372.5,1195.8 L372.8,1197.2 L373.2,1198.7 L373.5,1200.2 L373.9,1201.6 L374.3,1203.1 L374.7,1204.5 L375.0,1206.0 L375.4,1207.5 L375.8,1208.9 L376.2,1210.4 L376.6,1211.8 L377.0,1213.3 L377.5,1214.7 L377.9,1216.2 L378.3,1217.6 L378.7,1219.0 L379.2,1220.5 L379.6,1221.9 L380.1,1223.3 L380.6,1224.8 L381.0,1226.2 L381.5,1227.6 L382.0,1229.0 L382.5,1230.5 L383.0,1231.9 L383.5,1233.3 L384.1,1234.7 L384.6,1236.1 L385.1,1237.5 L385.7,1238.9 L386.3,1240.3 L386.8,1241.7 L387.4,1243.0 L388.0,1244.4 L388.6,1245.8 L389.3,1247.2 L389.9,1248.5 L390.5,1249.9 L391.2,1251.3 L391.9,1252.6 L392.5,1254.0 L393.2,1255.3 L393.9,1256.6 L394.7,1258.0 L395.4,1259.3 L396.1,1260.6 L396.9,1261.9 L397.7,1263.2 L398.5,1264.5 L399.3,1265.8 L400.1,1267.1 L400.9,1268.3 L401.7,1269.6 L402.6,1270.8 L403.5,1272.1 L404.4,1273.3 L405.2,1274.5 L406.2,1275.7 L407.1,1276.9 L408.0,1278.0 L409.0,1279.2 L409.9,1280.3 L410.9,1281.5 L411.9,1282.6 L412.9,1283.7 L414.0,1284.8 L415.0,1285.8 L416.0,1286.9 L417.1,1287.9 L418.2,1288.9 L419.3,1289.9 L420.4,1290.9 L421.5,1291.8 L422.7,1292.8 L423.8,1293.7 L425.0,1294.6 L426.2,1295.5 L427.4,1296.3 L428.6,1297.2 L429.9,1298.0 L431.1,1298.8 L432.4,1299.5 L433.7,1300.3 L435.0,1301.0 L436.3,1301.7 L437.6,1302.3 L439.0,1303.0 L440.3,1303.6 L441.7,1304.2 L443.1,1304.8 L444.5,1305.4 L445.9,1306.0 L447.3,1306.5 L448.7,1307.0 L450.1,1307.5 L451.6,1308.1 L453.0,1308.5 L454.5,1309.0 L455.9,1309.5 L457.4,1310.0 L458.8,1310.4 L460.3,1310.9 L461.8,1311.3 L463.3,1311.7 L464.7,1312.2 L466.2,1312.6 L467.7,1313.0 L469.2,1313.5 L470.6,1313.9 L472.1,1314.3 L473.6,1314.7 L475.1,1315.2 L476.5,1315.6 L478.0,1316.1 L479.5,1316.5 L480.9,1317.0 L482.4,1317.4 L483.8,1317.9 L485.3,1318.3 L486.7,1318.8 L488.1,1319.2 L489.6,1319.7 L491.0,1320.1 L492.4,1320.6 L493.9,1321.0 L495.3,1321.4 L496.8,1321.8 L498.2,1322.2 L499.6,1322.6 L501.1,1323.0 L502.5,1323.4 L504.0,1323.8 L505.4,1324.1 L506.9,1324.5 L508.3,1324.8 L509.8,1325.1 L511.2,1325.4 L512.7,1325.7 L514.1,1326.0 L515.6,1326.3 L517.1,1326.5 L518.5,1326.8 L520.0,1327.0 L521.5,1327.2 L523.0,1327.4 L524.4,1327.6 L525.9,1327.8 L527.4,1328.0 L528.9,1328.2 L530.4,1328.4 L531.8,1328.5 L533.3,1328.7 L534.8,1328.8 L536.3,1328.9 L537.8,1329.0 L539.3,1329.2 L540.8,1329.3 L542.3,1329.4 L543.8,1329.4 L545.3,1329.5 L546.8,1329.6 L548.3,1329.7 L549.8,1329.7 L551.3,1329.8 L552.8,1329.8 L554.3,1329.9 L555.8,1329.9 L557.3,1329.9 L558.8,1330.0 L560.3,1330.0 L561.8,1330.0 L563.3,1330.0 L564.8,1330.0 L566.3,1330.0 L567.8,1330.0 L569.4,1330.0 L570.9,1330.0 L572.4,1329.9 L573.9,1329.9 L575.4,1329.9 L576.9,1329.9 L578.4,1329.8 L579.9,1329.8 L581.4,1329.8 L583.0,1329.7 L584.5,1329.7 L586.0,1329.6 L587.5,1329.6 L589.0,1329.5 L590.5,1329.5 L592.0,1329.5 L593.5,1329.4 L595.0,1329.4 L596.6,1329.3 L598.1,1329.2 L599.6,1329.2 L601.1,1329.1 L602.6,1329.1 L604.1,1329.0 L605.6,1329.0 L607.1,1328.9 L608.6,1328.9 L610.1,1328.9 L611.6,1328.8 L613.1,1328.8 L614.6,1328.7 L616.1,1328.7 L617.6,1328.6 L619.1,1328.6 L620.6,1328.6 L622.1,1328.5 L623.6,1328.5 L625.1,1328.5 L625.1,1328.3 L625.1,1327.7 L625.1,1326.8 L625.1,1325.5 L625.2,1324.0 L625.2,1322.2 L625.2,1320.2 L625.2,1318.0 L625.3,1315.7 L625.3,1313.2 L625.3,1310.6 L625.4,1308.0 L625.4,1305.3 L625.4,1302.6 L625.5,1299.9 L625.5,1297.3 L625.6,1294.8 L625.6,1292.5 L625.7,1290.2 L625.7,1288.2 L625.7,1286.1 L625.8,1284.0 L625.8,1281.9 L625.9,1279.8 L625.9,1277.6 L626.0,1275.5 L626.0,1273.5 L626.1,1271.4 L626.1,1269.3 L626.2,1267.3 L626.3,1265.3 L626.3,1263.3 L626.4,1261.3 L626.5,1259.3 L626.6,1257.4 L626.7,1255.5 L626.8,1253.7 L627.0,1251.4 L627.1,1249.2 L627.3,1247.0 L627.5,1244.9 L627.7,1242.8 L627.9,1240.7 L628.1,1238.7 L628.3,1236.6 L628.6,1234.6 L628.8,1232.6 L629.1,1230.6 L629.4,1228.3 L629.8,1226.1 L630.1,1223.9 L630.5,1221.7 L630.9,1219.5 L631.3,1217.3 L631.7,1215.2 L632.1,1213.1 L632.6,1211.1 L633.2,1208.8 L633.7,1206.5 L634.3,1204.3 L635.0,1202.1 L635.7,1200.0 L636.4,1198.0 L637.2,1196.1 L638.2,1194.0 L639.2,1191.9 L640.2,1190.0 L641.5,1188.3 L642.9,1186.9 L644.9,1185.6 L647.2,1184.7 L649.7,1184.1 L652.2,1183.4 L654.2,1182.8 L656.1,1182.3 L658.2,1181.9 L660.6,1181.5 L663.7,1181.1 L664.8,1181.0 L665.9,1180.9 L667.1,1180.8 L668.4,1180.7 L669.8,1180.7 L671.2,1180.6 L672.7,1180.6 L674.3,1180.5 L675.9,1180.5 L677.6,1180.4 L679.3,1180.4 L681.1,1180.4 L682.9,1180.3 L684.8,1180.3 L686.7,1180.3 L688.7,1180.3 L690.7,1180.3 L692.8,1180.3 L694.9,1180.3 L697.0,1180.3 L699.1,1180.3 L701.3,1180.3 L703.5,1180.3 L705.7,1180.4 L708.0,1180.4 L710.3,1180.4 L712.6,1180.4 L714.9,1180.4 L717.2,1180.4 L719.5,1180.5 L721.8,1180.5 L724.1,1180.5 L726.5,1180.5 L728.8,1180.5 L731.1,1180.6 L733.5,1180.6 L735.8,1180.6 L738.1,1180.6 L740.4,1180.6 L742.6,1180.6 L744.9,1180.6 L747.1,1180.6 L749.4,1180.6 L751.5,1180.6 L753.7,1180.6 L755.8,1180.6 L757.9,1180.5 L760.0,1180.5 L762.0,1180.5 L763.9,1180.4 L765.8,1180.4 L767.7,1180.4 L769.7,1180.3 L771.6,1180.3 L773.5,1180.3 L775.3,1180.2 L777.2,1180.2 L779.1,1180.1 L781.0,1180.1 L782.8,1180.0 L784.7,1180.0 L786.5,1179.9 L788.4,1179.9 L790.3,1179.8 L792.1,1179.8 L794.0,1179.7 L795.8,1179.7 L797.7,1179.6 L799.6,1179.6 L801.4,1179.5 L803.3,1179.5 L805.2,1179.4 L807.1,1179.4 L809.0,1179.3 L810.9,1179.3 L812.8,1179.2 L814.8,1179.2 L816.7,1179.1 L818.6,1179.0 L820.6,1179.0 L822.6,1178.9 L824.6,1178.9 L826.6,1178.8 L828.6,1178.8 L830.7,1178.7 L832.7,1178.7 L834.8,1178.6 L836.9,1178.6 L839.0,1178.5 L841.2,1178.5 L843.3,1178.4 L845.5,1178.4 L847.8,1178.3 L850.0,1178.3 L852.3,1178.2 L854.5,1178.2 L856.9,1178.1 L859.2,1178.1 L861.6,1178.0 L864.0,1178.0 L865.6,1178.0 L867.2,1177.9 L868.8,1177.9 L870.5,1177.9 L872.1,1177.9 L873.8,1177.8 L875.4,1177.8 L877.1,1177.8 L878.8,1177.8 L880.5,1177.7 L882.3,1177.7 L884.0,1177.7 L885.8,1177.7 L887.5,1177.6 L889.3,1177.6 L891.1,1177.6 L892.9,1177.6 L894.7,1177.5 L896.5,1177.5 L898.3,1177.5 L900.2,1177.5 L902.0,1177.4 L903.9,1177.4 L905.7,1177.4 L907.6,1177.4 L909.5,1177.3 L911.4,1177.3 L913.3,1177.3 L915.2,1177.3 L917.2,1177.3 L919.1,1177.2 L921.0,1177.2 L923.0,1177.2 L925.0,1177.2 L926.9,1177.1 L928.9,1177.1 L930.9,1177.1 L932.9,1177.1 L934.9,1177.1 L936.9,1177.0 L938.9,1177.0 L940.9,1177.0 L943.0,1177.0 L945.0,1176.9 L947.0,1176.9 L949.1,1176.9 L951.1,1176.9 L953.2,1176.9 L955.3,1176.8 L957.3,1176.8 L959.4,1176.8 L961.5,1176.8 L963.6,1176.8 L965.7,1176.7 L967.8,1176.7 L969.9,1176.7 L972.0,1176.7 L974.1,1176.7 L976.2,1176.6 L978.3,1176.6 L980.4,1176.6 L982.5,1176.6 L984.7,1176.6 L986.8,1176.5 L988.9,1176.5 L991.1,1176.5 L993.2,1176.5 L995.3,1176.5 L997.5,1176.5 L999.6,1176.4 L1001.8,1176.4 L1003.9,1176.4 L1006.1,1176.4 L1008.2,1176.4 L1010.4,1176.3 L1012.5,1176.3 L1014.7,1176.3 L1016.8,1176.3 L1019.0,1176.3 L1021.1,1176.3 L1023.3,1176.2 L1025.4,1176.2 L1027.6,1176.2 L1029.8,1176.2 L1031.9,1176.2 L1034.1,1176.2 L1036.2,1176.1 L1038.4,1176.1 L1040.5,1176.1 L1042.7,1176.1 L1044.8,1176.1 L1046.9,1176.1 L1049.1,1176.0 L1051.2,1176.0 L1053.4,1176.0 L1055.5,1176.0 L1057.6,1176.0 L1059.8,1176.0 L1061.9,1175.9 L1064.0,1175.9 L1066.1,1175.9 L1068.2,1175.9 L1070.3,1175.9 L1072.5,1175.9 L1074.6,1175.8 L1076.7,1175.8 L1078.7,1175.8 L1080.8,1175.8 L1082.9,1175.8 L1085.0,1175.8 L1087.1,1175.8 L1089.1,1175.7 L1091.2,1175.7 L1093.3,1175.7 L1095.3,1175.7 L1097.4,1175.7 L1099.4,1175.7 L1101.4,1175.7 L1103.5,1175.6 L1105.5,1175.6 L1107.5,1175.6 L1109.5,1175.6 L1111.5,1175.6 L1113.5,1175.6 L1115.5,1175.6 L1117.5,1175.5 L1119.5,1175.5 L1121.5,1175.5 L1123.5,1175.5 L1125.5,1175.5 L1127.4,1175.5 L1129.4,1175.5 L1131.4,1175.5 L1133.3,1175.5 L1135.3,1175.4 L1137.3,1175.4 L1139.2,1175.4 L1141.2,1175.4 L1143.1,1175.4 L1145.0,1175.4 L1147.0,1175.4 L1148.9,1175.4 L1150.9,1175.4 L1152.8,1175.4 L1154.7,1175.3 L1156.6,1175.3 L1158.6,1175.3 L1160.5,1175.3 L1162.4,1175.3 L1164.3,1175.3 L1166.3,1175.3 L1168.2,1175.3 L1170.1,1175.3 L1172.0,1175.3 L1173.9,1175.3 L1175.8,1175.3 L1177.7,1175.3 L1179.6,1175.3 L1181.6,1175.2 L1183.5,1175.2 L1185.4,1175.2 L1187.3,1175.2 L1189.2,1175.2 L1191.1,1175.2 L1193.0,1175.2 L1194.9,1175.2 L1196.8,1175.2 L1198.7,1175.2 L1200.6,1175.2 L1202.5,1175.2 L1204.5,1175.2 L1206.4,1175.2 L1208.3,1175.2 L1210.2,1175.2 L1212.1,1175.2 L1214.0,1175.2 L1215.9,1175.2 L1217.9,1175.1 L1219.8,1175.1 L1221.7,1175.1 L1223.6,1175.1 L1225.6,1175.1 L1227.5,1175.1 L1229.4,1175.1 L1231.4,1175.1 L1233.3,1175.1 L1235.2,1175.1 L1237.2,1175.1 L1239.1,1175.1 L1241.1,1175.1 L1243.0,1175.1 L1245.0,1175.1 L1247.0,1175.1 L1248.9,1175.1 L1250.9,1175.1 L1252.9,1175.1 L1254.8,1175.0 L1256.8,1175.0 L1258.8,1175.0 L1260.8,1175.0 L1262.8,1175.0 L1264.8,1175.0 L1266.8,1175.0 L1268.8,1175.0 L1270.8,1175.0 L1272.8,1175.0 L1274.9,1175.0 L1276.9,1175.0 L1278.9,1175.0 L1281.0,1175.0 L1283.0,1175.0 L1285.1,1174.9 L1287.1,1174.9 L1289.2,1174.9 L1291.2,1174.9 L1293.3,1174.9 L1295.4,1174.9 L1297.5,1174.9 L1299.6,1174.9 L1301.7,1174.9 L1303.8,1174.9 L1305.9,1174.9 L1308.1,1174.8 L1310.2,1174.8 L1312.3,1174.8 L1314.5,1174.8 L1316.6,1174.8 L1318.8,1174.8 L1321.0,1174.8 L1323.2,1174.8 L1325.3,1174.8 L1327.5,1174.7 L1329.7,1174.7 L1332.0,1174.7 L1334.2,1174.7 L1336.4,1174.7 L1338.7,1174.7 L1340.9,1174.7 L1343.2,1174.6 L1345.4,1174.6 L1347.7,1174.6 L1350.0,1174.6 L1351.7,1174.6 L1353.4,1174.6 L1355.2,1174.6 L1357.0,1174.6 L1358.7,1174.5 L1360.5,1174.5 L1362.3,1174.5 L1364.1,1174.5 L1365.9,1174.5 L1367.8,1174.5 L1369.6,1174.5 L1371.5,1174.4 L1373.3,1174.4 L1375.2,1174.4 L1377.1,1174.4 L1379.0,1174.4 L1380.9,1174.4 L1382.8,1174.3 L1384.8,1174.3 L1386.7,1174.3 L1388.7,1174.3 L1390.6,1174.3 L1392.6,1174.3 L1394.6,1174.2 L1396.6,1174.2 L1398.6,1174.2 L1400.6,1174.2 L1402.7,1174.2 L1404.7,1174.2 L1406.7,1174.1 L1408.8,1174.1 L1410.9,1174.1 L1412.9,1174.1 L1415.0,1174.1 L1417.1,1174.0 L1419.2,1174.0 L1421.3,1174.0 L1423.4,1174.0 L1425.5,1174.0 L1427.6,1173.9 L1429.8,1173.9 L1431.9,1173.9 L1434.1,1173.9 L1436.2,1173.9 L1438.4,1173.8 L1440.6,1173.8 L1442.7,1173.8 L1444.9,1173.8 L1447.1,1173.8 L1449.3,1173.7 L1451.5,1173.7 L1453.7,1173.7 L1455.9,1173.7 L1458.1,1173.7 L1460.4,1173.6 L1462.6,1173.6 L1464.8,1173.6 L1467.0,1173.6 L1469.3,1173.5 L1471.5,1173.5 L1473.8,1173.5 L1476.0,1173.5 L1478.3,1173.5 L1480.6,1173.4 L1482.8,1173.4 L1485.1,1173.4 L1487.4,1173.4 L1489.7,1173.3 L1491.9,1173.3 L1494.2,1173.3 L1496.5,1173.3 L1498.8,1173.2 L1501.1,1173.2 L1503.4,1173.2 L1505.7,1173.2 L1508.0,1173.1 L1510.3,1173.1 L1512.6,1173.1 L1514.9,1173.1 L1517.2,1173.1 L1519.5,1173.0 L1521.8,1173.0 L1524.1,1173.0 L1526.5,1173.0 L1528.8,1172.9 L1531.1,1172.9 L1533.4,1172.9 L1535.7,1172.9 L1538.0,1172.8 L1540.3,1172.8 L1542.7,1172.8 L1545.0,1172.8 L1547.3,1172.7 L1549.6,1172.7 L1551.9,1172.7 L1554.2,1172.7 L1556.5,1172.6 L1558.8,1172.6 L1561.2,1172.6 L1563.5,1172.6 L1565.8,1172.5 L1568.1,1172.5 L1570.4,1172.5 L1572.7,1172.5 L1575.0,1172.4 L1577.3,1172.4 L1579.6,1172.4 L1581.8,1172.4 L1584.1,1172.3 L1586.4,1172.3 L1588.7,1172.3 L1591.0,1172.3 L1593.3,1172.2 L1595.5,1172.2 L1597.8,1172.2 L1600.1,1172.2 L1602.3,1172.2 L1604.6,1172.1 L1606.8,1172.1 L1609.1,1172.1 L1611.3,1172.1 L1613.6,1172.0 L1615.8,1172.0 L1618.0,1172.0 L1620.2,1172.0 L1622.4,1171.9 L1624.7,1171.9 L1626.9,1171.9 L1629.1,1171.9 L1631.3,1171.8 L1633.4,1171.8 L1635.6,1171.8 L1637.8,1171.8 L1640.0,1171.8 L1642.1,1171.7 L1644.3,1171.7 L1646.4,1171.7 L1648.6,1171.7 L1650.7,1171.6 L1652.8,1171.6 L1655.0,1171.6 L1657.1,1171.6 L1659.2,1171.6 L1661.3,1171.5 L1663.4,1171.5 L1665.4,1171.5 L1667.5,1171.5 L1669.6,1171.4 L1671.6,1171.4 L1673.7,1171.4 L1675.7,1171.4 L1677.7,1171.4 L1679.7,1171.3 L1681.7,1171.3 L1683.7,1171.3 L1685.7,1171.3 L1687.7,1171.3 L1689.7,1171.2 L1691.6,1171.2 L1693.6,1171.2 L1695.5,1171.2 L1697.4,1171.2 L1699.3,1171.2 L1701.2,1171.1 L1703.1,1171.1 L1705.0,1171.1 L1706.9,1171.1 L1708.7,1171.1 L1710.6,1171.0 L1712.4,1171.0 L1714.2,1171.0 L1716.0,1171.0 L1717.8,1171.0 L1719.6,1171.0 L1721.4,1170.9 L1723.1,1170.9 L1724.9,1170.9 L1726.6,1170.9 L1728.3,1170.9 L1730.0,1170.9 L1731.7,1170.9 L1733.4,1170.8 L1735.1,1170.8 L1736.7,1170.8 L1738.3,1170.8 L1740.0,1170.8 L1741.6,1170.8 L1743.2,1170.8 L1744.7,1170.7 L1746.3,1170.7 L1747.8,1170.7 L1749.4,1170.7 L1750.9,1170.7 L1752.4,1170.7 L1753.9,1170.7 L1755.3,1170.7 L1756.8,1170.6 L1758.2,1170.6 L1759.6,1170.6 L1761.0,1170.6 L1762.4,1170.6 L1763.8,1170.6 L1765.2,1170.6 L1766.5,1170.6 L1767.8,1170.6 L1769.1,1170.6 L1770.4,1170.6 L1771.7,1170.5 L1772.9,1170.5 L1774.1,1170.5 L1775.3,1170.5 L1776.5,1170.5 L1777.7,1170.5 L1778.9,1170.5 L1780.0,1170.5 L1782.9,1170.5 L1785.8,1170.5 L1788.7,1170.5 L1791.6,1170.5 L1794.5,1170.5 L1797.3,1170.4 L1800.2,1170.4 L1803.0,1170.4 L1805.8,1170.4 L1808.5,1170.4 L1811.2,1170.4 L1813.9,1170.4 L1816.5,1170.4 L1819.0,1170.4 L1821.5,1170.4 L1823.8,1170.4 L1826.1,1170.4 L1828.3,1170.4 L1830.4,1170.5 L1832.4,1170.5 L1834.3,1170.5 L1836.1,1170.5 L1837.7,1170.5 L1839.3,1170.5 L1840.6,1170.5 L1841.9,1170.5 L1843.0,1170.5 L1844.0,1170.5 L1844.7,1170.5 L1845.4,1170.5 L1845.8,1170.5 L1846.1,1170.5 L1846.2,1170.5 L1846.6,1168.6 L1847.4,1165.2 L1848.2,1163.3 L1848.7,1164.3 L1849.1,1166.8 L1849.5,1170.0 L1849.6,1171.2 L1849.7,1172.7 L1849.8,1174.2 L1849.8,1175.9 L1849.8,1177.8 L1849.8,1179.8 L1849.8,1181.8 L1849.8,1184.0 L1849.8,1186.2 L1849.8,1188.4 L1849.8,1190.7 L1849.8,1193.1 L1849.8,1195.4 L1849.8,1197.7 L1849.8,1200.0 L1849.8,1202.3 L1849.9,1204.5 L1850.0,1206.6 L1850.0,1208.6 L1850.2,1210.6 L1850.3,1212.4 L1850.5,1214.6 L1850.7,1216.8 L1851.0,1218.9 L1851.3,1220.9 L1851.6,1222.9 L1851.9,1224.9 L1852.2,1226.9 L1852.6,1228.8 L1852.9,1230.7 L1853.3,1232.6 L1853.6,1234.5 L1854.0,1236.3 L1854.4,1238.2 L1854.9,1240.4 L1855.3,1242.6 L1855.8,1244.7 L1856.3,1246.8 L1856.8,1248.9 L1857.3,1251.0 L1857.9,1253.0 L1858.4,1255.0 L1859.0,1257.0 L1859.6,1258.9 L1860.3,1261.0 L1860.9,1263.1 L1861.6,1265.1 L1862.3,1267.1 L1863.1,1269.1 L1863.9,1271.0 L1864.8,1272.7 L1865.8,1274.4 L1867.1,1276.2 L1868.5,1278.0 L1870.0,1279.6 L1871.6,1281.1 L1873.3,1282.4 L1875.1,1283.7 L1876.8,1284.7 L1878.6,1285.6 L1880.5,1286.4 L1882.5,1287.1 L1884.5,1287.7 L1886.6,1288.3 L1888.6,1288.9 L1890.7,1289.4 L1893.2,1290.0 L1895.8,1290.5 L1898.4,1291.0 L1900.8,1291.4 L1902.7,1291.7 L1904.0,1291.9 L1904.5,1292.0" stroke="#04a36c" stroke-width="4.7"/>
<path d="M278.5,1168.5 L278.6,1169.5 L278.8,1171.0 L278.9,1172.5 L279.0,1174.0 L279.2,1175.5 L279.3,1177.0 L279.5,1178.5 L279.7,1180.0 L279.8,1181.5 L280.0,1183.0 L280.2,1184.5 L280.4,1186.0 L280.6,1187.4 L280.8,1188.9 L280.9,1189.6 M284.4,1210.5 L284.5,1211.1 L284.8,1212.6 L285.0,1214.1 L285.3,1215.6 L285.6,1217.0 L285.9,1218.5 L286.2,1220.0 L286.5,1221.5 L286.7,1222.9 L287.0,1224.4 L287.3,1225.9 L287.6,1227.3 L287.9,1228.8 L288.2,1230.3 L288.4,1231.3 M292.7,1252.2 L292.8,1252.3 L293.1,1253.8 L293.4,1255.3 L293.7,1256.8 L294.0,1258.2 L294.3,1259.7 L294.5,1261.2 L294.8,1262.7 L295.1,1264.1 L295.4,1265.6 L295.7,1267.1 L296.0,1268.6 L296.2,1270.0 L296.5,1271.5 L296.8,1273.0 L296.8,1273.0 M300.4,1293.9 L300.6,1295.2 L300.9,1296.7 L301.1,1298.2 L301.4,1299.7 L301.6,1301.1 L301.9,1302.6 L302.1,1304.1 L302.4,1305.6 L302.6,1307.1 L302.9,1308.6 L303.1,1310.0 L303.4,1311.5 L303.6,1313.0 L303.8,1314.5 L303.9,1314.9 M307.5,1335.8 L307.6,1336.7 L307.9,1338.2 L308.2,1339.7 L308.4,1341.1 L308.7,1342.6 L309.0,1344.1 L309.3,1345.6 L309.5,1347.0 L309.8,1348.5 L310.1,1350.0 L310.4,1351.4 L310.7,1352.9 L311.0,1354.4 L311.3,1355.9 L311.4,1356.7 M315.8,1377.5 L315.9,1377.9 L316.2,1379.3 L316.5,1380.8 L316.9,1382.3 L317.2,1383.7 L317.5,1385.2 L317.8,1386.7 L318.2,1388.1 L318.5,1389.6 L318.8,1391.1 L319.1,1392.5 L319.5,1394.0 L319.8,1395.5 L320.1,1396.9 L320.4,1398.3 M325.0,1419.1 L325.3,1420.4 L325.6,1421.9 L325.9,1423.3 L326.2,1424.8 L326.5,1426.3 L326.8,1427.7 L327.1,1429.2 L327.4,1430.7 L327.7,1432.2 L328.0,1433.6 L328.3,1435.1 L328.6,1436.6 L328.9,1438.0 L329.2,1439.5 L329.3,1439.9 M333.3,1460.7 L333.5,1461.7 L333.8,1463.2 L334.0,1464.6 L334.3,1466.1 L334.6,1467.6 L334.9,1469.1 L335.1,1470.6 L335.4,1472.0 L335.7,1473.5 L336.0,1475.0 L336.2,1476.5 L336.5,1478.0 L336.8,1479.5 L337.1,1480.9 L337.2,1481.6 M341.1,1502.5 L341.2,1503.1 L341.4,1504.6 L341.7,1506.1 L342.0,1507.5 L342.3,1509.0 L342.6,1510.5 L342.8,1512.0 L343.1,1513.5 L343.4,1514.9 L343.7,1516.4 L344.0,1517.9 L344.3,1519.3 L344.5,1520.8 L344.8,1522.3 L345.0,1523.4 M349.3,1544.2 L349.3,1544.3 L349.6,1545.8 L349.9,1547.3 L350.2,1548.7 L350.5,1550.2 L350.8,1551.6 L351.1,1553.1 L351.5,1554.6 L351.8,1556.0 L352.1,1557.5 L352.4,1559.0 L352.7,1560.4 L353.0,1561.9 L353.4,1563.4 L353.7,1564.8 L353.7,1565.0 M358.4,1585.8 L358.6,1586.7 L359.0,1588.2 L359.3,1589.6 L359.7,1591.1 L360.0,1592.5 L360.4,1594.0 L360.7,1595.5 L361.0,1596.9 L361.4,1598.4 L361.7,1599.8 L362.1,1601.3 L362.5,1602.7 L362.8,1604.2 L363.2,1605.7 L363.4,1606.5 M368.6,1627.2 L368.7,1627.5 L369.1,1629.0 L369.4,1630.4 L369.8,1631.9 L370.2,1633.3 L370.6,1634.8 L371.0,1636.2 L371.4,1637.7 L371.7,1639.2 L372.1,1640.6 L372.5,1642.1 L372.9,1643.5 L373.3,1645.0 L373.7,1646.4 L374.1,1647.9 M379.9,1668.5 L380.3,1669.8 L380.7,1671.2 L381.1,1672.7 L381.5,1674.2 L382.0,1675.6 L382.4,1677.1 L382.9,1678.5 L383.3,1680.0 L383.8,1681.4 L384.2,1682.8 L384.7,1684.3 L385.1,1685.7 L385.6,1687.2 L386.1,1688.6 L386.2,1689.0 M393.9,1709.2 L394.1,1709.6 L394.7,1711.0 L395.4,1712.4 L396.0,1713.7 L396.6,1715.1 L397.3,1716.4 L397.9,1717.7 L398.6,1719.1 L399.3,1720.4 L400.0,1721.7 L400.7,1723.0 L401.4,1724.3 L402.1,1725.6 L402.8,1726.9 L403.6,1728.1 L404.0,1728.8 M417.3,1747.0 L417.6,1747.3 L418.6,1748.4 L419.6,1749.5 L420.6,1750.6 L421.6,1751.7 L422.6,1752.8 L423.7,1753.8 L424.8,1754.9 L425.8,1756.0 L426.9,1757.0 L428.0,1758.0 L429.1,1759.1 L430.2,1760.1 L431.3,1761.1 L432.5,1762.1 L433.6,1763.1 L434.1,1763.5 M453.3,1778.2 L454.2,1778.8 L455.5,1779.7 L456.8,1780.6 L458.0,1781.4 L459.3,1782.2 L460.6,1783.1 L461.9,1783.9 L463.2,1784.7 L464.5,1785.5 L465.8,1786.3 L467.1,1787.1 L468.4,1787.9 L469.7,1788.7 L471.0,1789.4 L472.3,1790.2 L473.6,1791.0 L474.2,1791.3 M497.1,1802.3 L497.9,1802.6 L499.3,1803.1 L500.6,1803.6 L502.0,1804.1 L503.4,1804.6 L504.8,1805.0 L506.2,1805.5 L507.7,1805.9 L509.1,1806.3 L510.5,1806.7 L511.9,1807.1 L513.3,1807.4 L514.8,1807.8 L516.2,1808.1 L517.6,1808.4 L519.1,1808.7 L520.5,1808.9 L522.0,1809.2 L522.3,1809.2 M549.0,1811.1 L550.2,1811.1 L551.7,1811.1 L553.2,1811.1 L554.7,1811.1 L556.2,1811.0 L557.7,1811.0 L559.3,1810.9 L560.8,1810.8 L562.3,1810.8 L563.8,1810.7 L565.3,1810.6 L566.9,1810.5 L568.4,1810.4 L569.9,1810.3 L571.5,1810.2 L573.0,1810.1 L574.5,1810.0 L575.7,1809.9 M602.4,1807.6 L603.5,1807.5 L605.0,1807.4 L606.6,1807.3 L608.1,1807.2 L609.6,1807.1 L611.1,1807.0 L612.6,1806.9 L614.1,1806.8 L615.6,1806.8 L617.1,1806.7 L618.6,1806.6 L620.1,1806.6 L621.6,1806.5 L623.1,1806.5 L624.6,1806.4 L626.1,1806.4 L627.6,1806.3 L629.1,1806.3 L629.1,1806.3 M655.9,1806.2 L657.3,1806.2 L658.7,1806.2 L660.2,1806.2 L661.7,1806.2 L663.2,1806.2 L664.7,1806.2 L666.2,1806.2 L667.7,1806.2 L669.1,1806.2 L670.6,1806.2 L672.1,1806.2 L673.6,1806.2 L675.1,1806.2 L676.6,1806.2 L678.1,1806.2 L679.6,1806.2 L681.0,1806.2 L682.5,1806.2 L682.7,1806.2 M709.5,1806.0 L710.9,1805.9 L712.4,1805.9 L713.9,1805.9 L715.4,1805.9 L716.9,1805.9 L718.4,1805.9 L719.9,1805.8 L721.4,1805.8 L722.9,1805.8 L724.4,1805.8 L725.9,1805.8 L727.4,1805.7 L728.9,1805.7 L730.4,1805.7 L731.9,1805.7 L733.4,1805.6 L734.9,1805.6 L736.3,1805.6 M763.1,1805.1 L763.5,1805.1 L765.0,1805.1 L766.5,1805.1 L768.0,1805.0 L769.5,1805.0 L771.0,1805.0 L772.5,1805.0 L774.0,1804.9 L775.6,1804.9 L777.1,1804.9 L778.6,1804.8 L780.1,1804.8 L781.6,1804.8 L783.1,1804.7 L784.6,1804.7 L786.1,1804.7 L787.6,1804.6 L789.1,1804.6 L789.9,1804.6 M816.7,1804.0 L817.8,1804.0 L819.3,1804.0 L820.8,1803.9 L822.3,1803.9 L823.8,1803.9 L825.3,1803.8 L826.9,1803.8 L828.4,1803.8 L829.9,1803.8 L831.4,1803.7 L832.9,1803.7 L834.4,1803.7 L835.9,1803.6 L837.4,1803.6 L838.9,1803.6 L840.4,1803.5 L842.0,1803.5 L843.5,1803.5 M870.2,1802.9 L870.6,1802.9 L872.1,1802.9 L873.6,1802.9 L875.1,1802.8 L876.6,1802.8 L878.1,1802.8 L879.6,1802.8 L881.2,1802.7 L882.7,1802.7 L884.2,1802.7 L885.7,1802.7 L887.2,1802.6 L888.7,1802.6 L890.2,1802.6 L891.7,1802.6 L893.2,1802.5 L894.7,1802.5 L896.2,1802.5 L897.0,1802.5 M923.8,1802.1 L924.7,1802.1 L926.2,1802.1 L927.7,1802.1 L929.2,1802.0 L930.7,1802.0 L932.2,1802.0 L933.7,1802.0 L935.2,1802.0 L936.7,1802.0 L938.2,1801.9 L939.7,1801.9 L941.2,1801.9 L942.7,1801.9 L944.2,1801.9 L945.7,1801.9 L947.2,1801.8 L948.7,1801.8 L950.2,1801.8 L950.6,1801.8 M977.4,1801.5 L978.7,1801.5 L980.2,1801.5 L981.7,1801.5 L983.2,1801.5 L984.7,1801.5 L986.2,1801.5 L987.7,1801.4 L989.2,1801.4 L990.7,1801.4 L992.2,1801.4 L993.7,1801.4 L995.2,1801.4 L996.7,1801.3 L998.2,1801.3 L999.7,1801.3 L1001.2,1801.3 L1002.7,1801.3 L1004.2,1801.3 L1004.2,1801.3 M1031.0,1800.9 L1031.2,1800.9 L1032.7,1800.9 L1034.2,1800.9 L1035.7,1800.9 L1037.2,1800.9 L1038.7,1800.8 L1040.2,1800.8 L1041.7,1800.8 L1043.2,1800.8 L1044.7,1800.7 L1046.2,1800.7 L1047.7,1800.7 L1049.2,1800.7 L1050.7,1800.7 L1052.2,1800.6 L1053.7,1800.6 L1055.2,1800.6 L1056.7,1800.6 L1057.8,1800.6 M1084.6,1800.1 L1085.3,1800.1 L1086.8,1800.1 L1088.3,1800.1 L1089.8,1800.1 L1091.3,1800.0 L1092.8,1800.0 L1094.3,1800.0 L1095.8,1800.0 L1097.3,1799.9 L1098.8,1799.9 L1100.3,1799.9 L1101.8,1799.9 L1103.3,1799.8 L1104.8,1799.8 L1106.3,1799.8 L1107.8,1799.8 L1109.4,1799.7 L1110.9,1799.7 L1111.4,1799.7 M1138.2,1799.2 L1139.4,1799.2 L1140.9,1799.2 L1142.4,1799.1 L1143.9,1799.1 L1145.4,1799.1 L1146.9,1799.1 L1148.4,1799.0 L1149.9,1799.0 L1151.4,1799.0 L1152.9,1798.9 L1154.4,1798.9 L1155.9,1798.9 L1157.4,1798.9 L1158.9,1798.8 L1160.4,1798.8 L1161.9,1798.8 L1163.4,1798.8 L1164.9,1798.7 L1165.0,1798.7 M1191.8,1798.3 L1191.9,1798.3 L1193.4,1798.2 L1195.0,1798.2 L1196.5,1798.2 L1198.0,1798.2 L1199.5,1798.2 L1201.0,1798.1 L1202.5,1798.1 L1204.0,1798.1 L1205.5,1798.1 L1207.0,1798.0 L1208.5,1798.0 L1210.0,1798.0 L1211.5,1798.0 L1213.0,1798.0 L1214.5,1797.9 L1216.0,1797.9 L1217.5,1797.9 L1218.6,1797.9 M1245.4,1797.6 L1246.0,1797.6 L1247.5,1797.5 L1249.0,1797.5 L1250.5,1797.5 L1252.0,1797.5 L1253.5,1797.5 L1255.0,1797.5 L1256.5,1797.5 L1258.0,1797.5 L1259.5,1797.4 L1261.0,1797.4 L1262.5,1797.4 L1264.0,1797.4 L1265.5,1797.4 L1267.0,1797.4 L1268.5,1797.4 L1270.0,1797.4 L1271.5,1797.3 L1272.2,1797.3 M1299.0,1797.2 L1300.0,1797.2 L1301.5,1797.2 L1303.0,1797.1 L1304.6,1797.1 L1306.1,1797.1 L1307.6,1797.1 L1309.1,1797.1 L1310.6,1797.1 L1312.1,1797.1 L1313.6,1797.1 L1315.1,1797.1 L1316.6,1797.1 L1318.1,1797.1 L1319.6,1797.0 L1321.1,1797.0 L1322.6,1797.0 L1324.1,1797.0 L1325.6,1797.0 L1325.8,1797.0 M1352.6,1796.8 L1352.6,1796.8 L1354.1,1796.8 L1355.6,1796.8 L1357.1,1796.8 L1358.6,1796.8 L1360.1,1796.7 L1361.6,1796.7 L1363.1,1796.7 L1364.6,1796.7 L1366.1,1796.7 L1367.6,1796.7 L1369.1,1796.7 L1370.6,1796.6 L1372.1,1796.6 L1373.6,1796.6 L1375.1,1796.6 L1376.7,1796.6 L1378.2,1796.6 L1379.4,1796.5 M1406.2,1796.2 L1406.7,1796.2 L1408.2,1796.1 L1409.7,1796.1 L1411.2,1796.1 L1412.7,1796.1 L1414.2,1796.0 L1415.7,1796.0 L1417.2,1796.0 L1418.7,1796.0 L1420.2,1795.9 L1421.7,1795.9 L1423.2,1795.9 L1424.7,1795.9 L1426.2,1795.8 L1427.7,1795.8 L1429.2,1795.8 L1430.7,1795.7 L1432.2,1795.7 L1433.0,1795.7 M1459.8,1795.1 L1460.8,1795.1 L1462.3,1795.1 L1463.8,1795.1 L1465.3,1795.0 L1466.8,1795.0 L1468.3,1795.0 L1469.8,1794.9 L1471.3,1794.9 L1472.8,1794.9 L1474.3,1794.8 L1475.8,1794.8 L1477.3,1794.7 L1478.8,1794.7 L1480.3,1794.7 L1481.8,1794.6 L1483.3,1794.6 L1484.8,1794.6 L1486.3,1794.5 L1486.5,1794.5 M1513.3,1793.9 L1513.4,1793.9 L1514.9,1793.8 L1516.4,1793.8 L1517.9,1793.8 L1519.4,1793.7 L1520.9,1793.7 L1522.4,1793.7 L1523.9,1793.6 L1525.4,1793.6 L1526.9,1793.5 L1528.4,1793.5 L1529.9,1793.5 L1531.4,1793.4 L1532.9,1793.4 L1534.4,1793.4 L1535.9,1793.3 L1537.4,1793.3 L1538.9,1793.2 L1540.1,1793.2 M1566.9,1792.6 L1567.5,1792.5 L1569.0,1792.5 L1570.5,1792.5 L1572.0,1792.4 L1573.5,1792.4 L1575.0,1792.4 L1576.5,1792.3 L1578.0,1792.3 L1579.5,1792.3 L1581.0,1792.2 L1582.5,1792.2 L1584.0,1792.2 L1585.5,1792.1 L1587.0,1792.1 L1588.5,1792.1 L1590.0,1792.0 L1591.5,1792.0 L1593.0,1792.0 L1593.7,1791.9 M1620.5,1791.4 L1621.5,1791.4 L1623.0,1791.3 L1624.5,1791.3 L1626.0,1791.3 L1627.5,1791.2 L1629.0,1791.2 L1630.5,1791.2 L1632.0,1791.2 L1633.5,1791.1 L1635.0,1791.1 L1636.5,1791.1 L1638.0,1791.1 L1639.6,1791.0 L1641.1,1791.0 L1642.6,1791.0 L1644.1,1791.0 L1645.6,1790.9 L1647.1,1790.9 L1647.3,1790.9 M1674.1,1790.5 L1674.1,1790.5 L1675.6,1790.5 L1677.1,1790.5 L1678.6,1790.5 L1680.1,1790.5 L1681.6,1790.4 L1683.1,1790.4 L1684.6,1790.4 L1686.1,1790.4 L1687.6,1790.4 L1689.1,1790.4 L1690.6,1790.4 L1692.1,1790.4 L1693.6,1790.3 L1695.1,1790.3 L1696.6,1790.3 L1698.1,1790.3 L1699.6,1790.3 L1700.9,1790.3 M1727.7,1790.2 L1728.1,1790.2 L1729.6,1790.2 L1731.1,1790.2 L1732.6,1790.2 L1734.1,1790.2 L1735.6,1790.2 L1737.1,1790.2 L1738.6,1790.2 L1740.1,1790.2 L1741.6,1790.2 L1743.2,1790.2 L1744.7,1790.2 L1746.2,1790.3 L1747.7,1790.3 L1749.2,1790.3 L1750.7,1790.3 L1752.2,1790.3 L1753.7,1790.3 L1754.5,1790.3 M1781.3,1790.6 L1782.2,1790.6 L1783.7,1790.6 L1785.2,1790.7 L1786.7,1790.7 L1788.2,1790.7 L1789.7,1790.7 L1791.2,1790.8 L1792.7,1790.8 L1794.2,1790.8 L1795.7,1790.9 L1797.2,1790.9 L1798.7,1790.9 L1800.2,1790.9 L1801.7,1791.0 L1803.2,1791.0 L1804.7,1791.0 L1806.2,1791.1 L1807.7,1791.1 L1808.1,1791.1 M1834.8,1791.9 L1836.2,1792.0 L1837.7,1792.0 L1839.2,1792.1 L1840.7,1792.1 L1842.2,1792.2 L1843.7,1792.2 L1845.2,1792.3 L1846.7,1792.3 L1848.2,1792.4 L1849.7,1792.5 L1851.2,1792.5 L1852.7,1792.6 L1854.2,1792.6 L1855.7,1792.7 L1857.2,1792.8 L1858.7,1792.9 L1860.2,1792.9 L1861.6,1793.0 M1888.2,1795.3 L1888.6,1795.3 L1890.1,1795.5 L1891.6,1795.7 L1893.1,1795.9 L1894.6,1796.1 L1896.1,1796.3 L1897.5,1796.5 L1899.0,1796.7 L1900.5,1796.9 L1902.0,1797.1 L1903.5,1797.3 L1905.0,1797.5" stroke="#0d6bbf" stroke-width="4.7"/>
<path d="M278.5,1167.1 L278.7,1168.6 L278.8,1170.1 L279.0,1171.6 L279.2,1173.1 L279.4,1174.6 L279.6,1176.1 L279.8,1177.6 L280.0,1179.1 L280.3,1180.6 L280.5,1182.0 L280.7,1183.5 L281.0,1185.0 L281.2,1186.5 L281.5,1188.0 L281.8,1189.4 L282.0,1190.9 L282.3,1192.4 L282.6,1193.9 L282.9,1195.3 L283.2,1196.8 L283.5,1198.3 L283.8,1199.8 L284.1,1201.2 L284.4,1202.7 L284.7,1204.2 L285.1,1205.6 L285.4,1207.1 L285.7,1208.5 L286.1,1210.0 L286.4,1211.5 L286.8,1212.9 L287.1,1214.4 L287.5,1215.8 L287.8,1217.3 L288.2,1218.8 L288.6,1220.2 L288.9,1221.7 L289.3,1223.1 L289.7,1224.6 L290.1,1226.0 L290.4,1227.5 L290.8,1228.9 L291.2,1230.4 L291.6,1231.8 L292.0,1233.3 L292.4,1234.7 L292.8,1236.2 L293.2,1237.6 L293.6,1239.1 L294.0,1240.5 L294.4,1242.0 L294.8,1243.4 L295.2,1244.9 L295.6,1246.3 L296.0,1247.8 L296.4,1249.2 L296.8,1250.7 L297.2,1252.1 L297.6,1253.6 L298.0,1255.0 L298.5,1256.5 L298.9,1257.9 L299.3,1259.3 L299.7,1260.8 L300.1,1262.2 L300.5,1263.7 L300.9,1265.1 L301.3,1266.6 L301.7,1268.0 L302.1,1269.5 L302.5,1270.9 L302.9,1272.4 L303.3,1273.8 L303.7,1275.3 L304.1,1276.7 L304.5,1278.2 L304.9,1279.6 L305.3,1281.1 L305.7,1282.6 L306.0,1284.0 L306.4,1285.5 L306.8,1286.9 L307.2,1288.4 L307.5,1289.8 L307.9,1291.3 L308.3,1292.8 L308.6,1294.2 L309.0,1295.7 L309.4,1297.1 L309.7,1298.6 L310.1,1300.1 L310.4,1301.5 L310.8,1303.0 L311.1,1304.4 L311.5,1305.9 L311.8,1307.4 L312.2,1308.8 L312.5,1310.3 L312.9,1311.8 L313.2,1313.2 L313.5,1314.7 L313.9,1316.2 L314.2,1317.6 L314.5,1319.1 L314.9,1320.6 L315.2,1322.1 L315.5,1323.5 L315.8,1325.0 L316.2,1326.5 L316.5,1327.9 L316.8,1329.4 L317.1,1330.9 L317.4,1332.4 L317.7,1333.8 L318.1,1335.3 L318.4,1336.8 L318.7,1338.2 L319.0,1339.7 L319.3,1341.2 L319.6,1342.7 L319.9,1344.1 L320.2,1345.6 L320.5,1347.1 L320.8,1348.6 L321.1,1350.0 L321.4,1351.5 L321.7,1353.0 L322.0,1354.5 L322.3,1356.0 L322.6,1357.4 L322.9,1358.9 L323.2,1360.4 L323.5,1361.9 L323.8,1363.3 L324.1,1364.8 L324.4,1366.3 L324.7,1367.8 L325.0,1369.3 L325.3,1370.7 L325.6,1372.2 L325.9,1373.7 L326.1,1375.2 L326.4,1376.6 L326.7,1378.1 L327.0,1379.6 L327.3,1381.1 L327.6,1382.6 L327.9,1384.0 L328.2,1385.5 L328.4,1387.0 L328.7,1388.5 L329.0,1390.0 L329.3,1391.4 L329.6,1392.9 L329.9,1394.4 L330.2,1395.9 L330.5,1397.3 L330.7,1398.8 L331.0,1400.3 L331.3,1401.8 L331.6,1403.3 L331.9,1404.7 L332.2,1406.2 L332.5,1407.7 L332.7,1409.2 L333.0,1410.6 L333.3,1412.1 L333.6,1413.6 L333.9,1415.1 L334.2,1416.5 L334.5,1418.0 L334.8,1419.5 L335.1,1421.0 L335.4,1422.5 L335.6,1423.9 L335.9,1425.4 L336.2,1426.9 L336.5,1428.4 L336.8,1429.8 L337.1,1431.3 L337.4,1432.8 L337.7,1434.3 L338.0,1435.7 L338.3,1437.2 L338.6,1438.7 L338.9,1440.2 L339.2,1441.6 L339.4,1443.1 L339.7,1444.6 L340.0,1446.0 L340.3,1447.5 L340.6,1449.0 L340.9,1450.5 L341.2,1451.9 L341.5,1453.4 L341.8,1454.9 L342.1,1456.4 L342.4,1457.8 L342.7,1459.3 L343.0,1460.8 L343.3,1462.3 L343.6,1463.7 L343.9,1465.2 L344.2,1466.7 L344.5,1468.1 L344.8,1469.6 L345.1,1471.1 L345.4,1472.6 L345.7,1474.0 L346.0,1475.5 L346.3,1477.0 L346.6,1478.5 L346.9,1479.9 L347.2,1481.4 L347.5,1482.9 L347.8,1484.3 L348.1,1485.8 L348.4,1487.3 L348.7,1488.8 L349.0,1490.2 L349.3,1491.7 L349.6,1493.2 L349.9,1494.7 L350.2,1496.1 L350.5,1497.6 L350.8,1499.1 L351.1,1500.5 L351.4,1502.0 L351.7,1503.5 L352.0,1505.0 L352.3,1506.4 L352.6,1507.9 L352.9,1509.4 L353.2,1510.8 L353.5,1512.3 L353.8,1513.8 L354.1,1515.3 L354.5,1516.7 L354.8,1518.2 L355.1,1519.7 L355.4,1521.1 L355.7,1522.6 L356.0,1524.1 L356.3,1525.6 L356.6,1527.0 L356.9,1528.5 L357.2,1530.0 L357.5,1531.4 L357.8,1532.9 L358.1,1534.4 L358.4,1535.9 L358.8,1537.3 L359.1,1538.8 L359.4,1540.3 L359.7,1541.8 L360.0,1543.2 L360.3,1544.7 L360.6,1546.2 L360.9,1547.6 L361.2,1549.1 L361.5,1550.6 L361.9,1552.1 L362.2,1553.5 L362.5,1555.0 L362.8,1556.5 L363.1,1558.0 L363.4,1559.4 L363.7,1560.9 L364.0,1562.4 L364.4,1563.9 L364.7,1565.3 L365.0,1566.8 L365.3,1568.3 L365.6,1569.7 L365.9,1571.2 L366.2,1572.7 L366.5,1574.2 L366.9,1575.6 L367.2,1577.1 L367.5,1578.6 L367.8,1580.1 L368.1,1581.5 L368.4,1583.0 L368.7,1584.5 L369.1,1586.0 L369.4,1587.4 L369.7,1588.9 L370.0,1590.4 L370.3,1591.9 L370.6,1593.3 L371.0,1594.8 L371.3,1596.3 L371.6,1597.8 L371.9,1599.2 L372.2,1600.7 L372.5,1602.2 L372.9,1603.7 L373.2,1605.2 L373.5,1606.6 L373.8,1608.1 L374.1,1609.6 L374.5,1611.1 L374.8,1612.5 L375.1,1614.0 L375.4,1615.5 L375.7,1617.0 L376.1,1618.4 L376.4,1619.9 L376.7,1621.4 L377.1,1622.9 L377.4,1624.3 L377.7,1625.8 L378.1,1627.3 L378.4,1628.7 L378.8,1630.2 L379.1,1631.7 L379.5,1633.1 L379.8,1634.6 L380.2,1636.1 L380.6,1637.5 L380.9,1639.0 L381.3,1640.4 L381.7,1641.9 L382.1,1643.4 L382.5,1644.8 L382.9,1646.3 L383.3,1647.7 L383.7,1649.2 L384.1,1650.6 L384.5,1652.0 L384.9,1653.5 L385.3,1654.9 L385.8,1656.4 L386.2,1657.8 L386.6,1659.2 L387.1,1660.7 L387.6,1662.1 L388.0,1663.5 L388.5,1664.9 L389.0,1666.3 L389.5,1667.8 L389.9,1669.2 L390.5,1670.6 L391.0,1672.0 L391.5,1673.4 L392.0,1674.8 L392.5,1676.2 L393.1,1677.6 L393.6,1679.0 L394.2,1680.3 L394.8,1681.7 L395.3,1683.1 L395.9,1684.5 L396.5,1685.8 L397.1,1687.2 L397.8,1688.6 L398.4,1689.9 L399.0,1691.3 L399.7,1692.6 L400.3,1694.0 L401.0,1695.3 L401.7,1696.7 L402.4,1698.0 L403.1,1699.3 L403.8,1700.7 L404.5,1702.0 L405.3,1703.3 L406.0,1704.6 L406.8,1705.9 L407.5,1707.2 L408.3,1708.5 L409.1,1709.8 L409.9,1711.1 L410.7,1712.3 L411.5,1713.6 L412.3,1714.9 L413.2,1716.1 L414.0,1717.4 L414.9,1718.6 L415.7,1719.9 L416.6,1721.1 L417.5,1722.3 L418.4,1723.5 L419.3,1724.7 L420.2,1725.9 L421.1,1727.1 L422.1,1728.3 L423.0,1729.5 L424.0,1730.7 L424.9,1731.9 L425.9,1733.0 L426.9,1734.2 L427.8,1735.3 L428.8,1736.5 L429.8,1737.6 L430.9,1738.7 L431.9,1739.8 L432.9,1740.9 L434.0,1742.0 L435.0,1743.1 L436.1,1744.2 L437.1,1745.3 L438.2,1746.3 L439.3,1747.4 L440.4,1748.4 L441.5,1749.5 L442.6,1750.5 L443.7,1751.5 L444.8,1752.5 L445.9,1753.5 L447.1,1754.5 L448.2,1755.5 L449.4,1756.4 L450.5,1757.4 L451.7,1758.3 L452.9,1759.3 L454.0,1760.2 L455.2,1761.1 L456.4,1762.0 L457.6,1762.9 L458.8,1763.8 L460.1,1764.6 L461.3,1765.5 L462.5,1766.3 L463.8,1767.2 L465.0,1768.0 L466.3,1768.8 L467.5,1769.6 L468.8,1770.4 L470.1,1771.2 L471.3,1772.0 L472.6,1772.8 L473.9,1773.5 L475.2,1774.3 L476.5,1775.1 L477.8,1775.8 L479.1,1776.5 L480.4,1777.3 L481.7,1778.0 L483.0,1778.7 L484.4,1779.4 L485.7,1780.1 L487.0,1780.9 L488.4,1781.6 L489.7,1782.2 L491.0,1782.9 L492.4,1783.6 L493.7,1784.3 L495.1,1785.0 L496.4,1785.7 L497.8,1786.4 L499.2,1787.0 L500.5,1787.7 L501.9,1788.4 L503.2,1789.1 L504.6,1789.7 L506.0,1790.4 L507.4,1791.1 L508.7,1791.7 L510.1,1792.4 L511.5,1793.0 L512.9,1793.7 L514.2,1794.3 L515.6,1794.9 L517.0,1795.5 L518.4,1796.1 L519.8,1796.7 L521.2,1797.2 L522.6,1797.8 L524.0,1798.3 L525.4,1798.8 L526.8,1799.2 L528.3,1799.7 L529.7,1800.1 L531.1,1800.5 L532.5,1800.9 L534.0,1801.2 L535.4,1801.5 L536.9,1801.8 L538.3,1802.1 L539.8,1802.3 L541.2,1802.5 L542.7,1802.7 L544.2,1802.8 L545.6,1802.9 L547.1,1803.0 L548.6,1803.1 L550.1,1803.2 L551.6,1803.2 L553.0,1803.2 L554.5,1803.2 L556.0,1803.2 L557.5,1803.1 L559.0,1803.1 L560.5,1803.0 L562.0,1802.9 L563.5,1802.8 L565.0,1802.7 L566.5,1802.5 L568.0,1802.4 L569.6,1802.2 L571.1,1802.0 L572.6,1801.9 L574.1,1801.7 L575.6,1801.5 L577.1,1801.3 L578.6,1801.0 L580.2,1800.8 L581.7,1800.6 L583.2,1800.4 L584.7,1800.1 L586.2,1799.9 L587.7,1799.7 L589.3,1799.4 L590.8,1799.2 L592.3,1799.0 L593.8,1798.7 L595.3,1798.5 L596.8,1798.2 L598.3,1798.0 L599.8,1797.8 L601.3,1797.6 L602.8,1797.4 L604.3,1797.2 L605.8,1797.0 L607.3,1796.8 L608.8,1796.6 L610.3,1796.4 L611.8,1796.3 L613.3,1796.1 L614.8,1796.0 L616.3,1795.9 L617.7,1795.8 L619.2,1795.7 L620.7,1795.6 L622.1,1795.5 L623.6,1795.5 L623.6,1795.4 L623.6,1795.2 L623.6,1794.8 L623.6,1794.3 L623.6,1793.7 L623.6,1792.9 L623.6,1792.0 L623.6,1791.0 L623.6,1789.8 L623.6,1788.6 L623.6,1787.2 L623.6,1785.7 L623.6,1784.1 L623.6,1782.5 L623.6,1780.7 L623.6,1778.8 L623.6,1776.9 L623.7,1774.9 L623.7,1772.8 L623.7,1770.6 L623.7,1768.4 L623.7,1766.1 L623.7,1763.8 L623.7,1761.4 L623.7,1758.9 L623.7,1756.4 L623.7,1753.9 L623.8,1751.3 L623.8,1748.7 L623.8,1746.1 L623.8,1743.5 L623.8,1740.8 L623.8,1738.1 L623.9,1735.5 L623.9,1732.8 L623.9,1730.1 L623.9,1727.4 L623.9,1724.7 L624.0,1722.1 L624.0,1719.4 L624.0,1716.8 L624.0,1714.2 L624.1,1711.6 L624.1,1709.1 L624.1,1706.6 L624.2,1704.2 L624.2,1701.8 L624.2,1699.4 L624.3,1697.1 L624.3,1694.9 L624.3,1692.7 L624.4,1690.6 L624.4,1688.6 L624.5,1686.7 L624.5,1684.8 L624.6,1682.6 L624.6,1680.3 L624.7,1678.1 L624.7,1675.8 L624.8,1673.5 L624.8,1671.2 L624.9,1668.9 L625.0,1666.6 L625.0,1664.4 L625.1,1662.1 L625.1,1659.8 L625.2,1657.5 L625.3,1655.2 L625.3,1653.0 L625.4,1650.7 L625.5,1648.5 L625.6,1646.3 L625.6,1644.1 L625.7,1642.0 L625.8,1639.8 L625.9,1637.7 L626.0,1635.7 L626.0,1633.6 L626.1,1631.6 L626.2,1629.7 L626.3,1627.7 L626.4,1625.9 L626.5,1624.0 L626.6,1622.2 L626.7,1620.5 L626.8,1618.8 L626.9,1617.2 L627.0,1615.6 L627.1,1614.1 L627.3,1612.7 L627.4,1611.3 L627.5,1610.0 L627.8,1607.4 L628.0,1605.1 L628.3,1603.0 L628.6,1601.1 L628.9,1599.2 L629.2,1597.5 L629.6,1595.8 L630.0,1594.0 L630.6,1591.7 L631.2,1589.4 L631.9,1587.3 L632.6,1585.1 L633.4,1582.9 L634.1,1581.0 L634.8,1579.0 L635.6,1577.0 L636.4,1574.9 L637.2,1572.9 L638.2,1571.0 L639.2,1569.1 L640.3,1567.3 L641.4,1565.5 L642.6,1563.7 L643.9,1561.9 L645.3,1560.3 L646.8,1558.9 L648.4,1557.6 L650.2,1556.5 L652.2,1555.7 L654.4,1555.0 L656.6,1554.5 L658.9,1554.0 L661.1,1553.5 L663.4,1553.0 L665.5,1552.5 L667.5,1552.0 L669.6,1551.5 L671.7,1551.1 L673.9,1550.6 L676.1,1550.2 L678.3,1549.9 L680.6,1549.5 L682.5,1549.2 L684.5,1549.0 L686.5,1548.7 L688.5,1548.5 L690.6,1548.3 L692.7,1548.1 L694.8,1548.0 L697.0,1547.8 L699.2,1547.6 L701.4,1547.4 L703.7,1547.2 L705.5,1547.0 L707.4,1546.9 L709.2,1546.7 L711.1,1546.5 L713.0,1546.4 L715.0,1546.2 L716.9,1546.0 L718.9,1545.9 L720.9,1545.7 L722.9,1545.5 L725.0,1545.3 L727.1,1545.2 L729.2,1545.0 L731.4,1544.9 L733.6,1544.7 L735.9,1544.6 L738.2,1544.4 L740.0,1544.3 L741.8,1544.2 L743.6,1544.1 L745.5,1544.0 L747.3,1543.9 L749.2,1543.7 L751.2,1543.6 L753.1,1543.5 L755.1,1543.4 L757.1,1543.3 L759.1,1543.2 L761.1,1543.1 L763.2,1543.0 L765.2,1542.9 L767.3,1542.8 L769.4,1542.7 L771.5,1542.6 L773.7,1542.6 L775.8,1542.5 L778.0,1542.4 L780.1,1542.3 L782.3,1542.2 L784.5,1542.1 L786.7,1542.0 L788.9,1541.9 L791.1,1541.8 L793.3,1541.8 L795.5,1541.7 L797.8,1541.6 L800.0,1541.5 L801.8,1541.4 L803.7,1541.4 L805.5,1541.3 L807.4,1541.2 L809.2,1541.2 L811.0,1541.1 L812.9,1541.0 L814.7,1541.0 L816.6,1540.9 L818.4,1540.9 L820.3,1540.8 L822.2,1540.7 L824.0,1540.7 L825.9,1540.6 L827.8,1540.6 L829.7,1540.5 L831.6,1540.5 L833.5,1540.4 L835.5,1540.3 L837.4,1540.3 L839.3,1540.2 L841.3,1540.2 L843.3,1540.1 L845.3,1540.1 L847.3,1540.0 L849.3,1540.0 L851.3,1539.9 L853.3,1539.9 L855.4,1539.8 L857.5,1539.8 L859.6,1539.7 L861.7,1539.7 L863.8,1539.6 L866.0,1539.6 L868.2,1539.5 L870.4,1539.5 L872.6,1539.4 L874.8,1539.4 L877.1,1539.3 L879.4,1539.3 L881.7,1539.2 L884.0,1539.2 L886.4,1539.1 L888.1,1539.1 L889.7,1539.0 L891.4,1539.0 L893.1,1539.0 L894.8,1538.9 L896.6,1538.9 L898.3,1538.9 L900.1,1538.8 L901.9,1538.8 L903.6,1538.8 L905.4,1538.7 L907.3,1538.7 L909.1,1538.7 L910.9,1538.6 L912.8,1538.6 L914.7,1538.6 L916.5,1538.5 L918.4,1538.5 L920.3,1538.5 L922.3,1538.4 L924.2,1538.4 L926.1,1538.4 L928.1,1538.3 L930.0,1538.3 L932.0,1538.3 L934.0,1538.2 L936.0,1538.2 L937.9,1538.2 L940.0,1538.1 L942.0,1538.1 L944.0,1538.1 L946.0,1538.0 L948.1,1538.0 L950.1,1538.0 L952.1,1538.0 L954.2,1537.9 L956.3,1537.9 L958.3,1537.9 L960.4,1537.8 L962.5,1537.8 L964.6,1537.8 L966.7,1537.7 L968.8,1537.7 L970.9,1537.7 L973.0,1537.6 L975.1,1537.6 L977.2,1537.6 L979.3,1537.6 L981.5,1537.5 L983.6,1537.5 L985.7,1537.5 L987.8,1537.4 L990.0,1537.4 L992.1,1537.4 L994.2,1537.4 L996.4,1537.3 L998.5,1537.3 L1000.7,1537.3 L1002.8,1537.2 L1004.9,1537.2 L1007.1,1537.2 L1009.2,1537.1 L1011.4,1537.1 L1013.5,1537.1 L1015.6,1537.1 L1017.8,1537.0 L1019.9,1537.0 L1022.0,1537.0 L1024.2,1536.9 L1026.3,1536.9 L1028.4,1536.9 L1030.5,1536.8 L1032.7,1536.8 L1034.8,1536.8 L1036.9,1536.8 L1039.0,1536.7 L1041.1,1536.7 L1043.2,1536.7 L1045.3,1536.6 L1047.4,1536.6 L1049.5,1536.6 L1051.5,1536.5 L1053.6,1536.5 L1055.7,1536.5 L1057.7,1536.5 L1059.8,1536.4 L1061.8,1536.4 L1063.9,1536.4 L1065.9,1536.3 L1067.9,1536.3 L1069.9,1536.3 L1071.9,1536.2 L1074.0,1536.2 L1076.0,1536.2 L1078.0,1536.1 L1080.0,1536.1 L1082.1,1536.1 L1084.1,1536.0 L1086.1,1536.0 L1088.2,1536.0 L1090.2,1535.9 L1092.2,1535.9 L1094.3,1535.9 L1096.3,1535.8 L1098.3,1535.8 L1100.4,1535.8 L1102.4,1535.7 L1104.5,1535.7 L1106.5,1535.7 L1108.6,1535.6 L1110.6,1535.6 L1112.6,1535.6 L1114.7,1535.5 L1116.7,1535.5 L1118.8,1535.5 L1120.8,1535.4 L1122.9,1535.4 L1124.9,1535.4 L1127.0,1535.3 L1129.0,1535.3 L1131.1,1535.3 L1133.1,1535.2 L1135.2,1535.2 L1137.2,1535.1 L1139.3,1535.1 L1141.3,1535.1 L1143.4,1535.0 L1145.4,1535.0 L1147.4,1535.0 L1149.5,1534.9 L1151.5,1534.9 L1153.6,1534.9 L1155.6,1534.8 L1157.7,1534.8 L1159.7,1534.8 L1161.7,1534.7 L1163.8,1534.7 L1165.8,1534.7 L1167.9,1534.6 L1169.9,1534.6 L1171.9,1534.6 L1174.0,1534.5 L1176.0,1534.5 L1178.0,1534.5 L1180.0,1534.4 L1182.1,1534.4 L1184.1,1534.4 L1186.1,1534.3 L1188.1,1534.3 L1190.2,1534.3 L1192.2,1534.2 L1194.2,1534.2 L1196.2,1534.2 L1198.2,1534.2 L1200.2,1534.1 L1202.2,1534.1 L1204.2,1534.1 L1206.2,1534.0 L1208.2,1534.0 L1210.2,1534.0 L1212.2,1534.0 L1214.2,1533.9 L1216.2,1533.9 L1218.1,1533.9 L1220.1,1533.8 L1222.1,1533.8 L1224.1,1533.8 L1226.0,1533.8 L1228.0,1533.7 L1230.0,1533.7 L1231.9,1533.7 L1233.9,1533.7 L1235.8,1533.6 L1237.8,1533.6 L1239.7,1533.6 L1241.7,1533.6 L1243.6,1533.6 L1245.5,1533.5 L1247.5,1533.5 L1249.4,1533.5 L1251.5,1533.5 L1253.6,1533.5 L1255.6,1533.4 L1257.7,1533.4 L1259.7,1533.4 L1261.7,1533.4 L1263.7,1533.4 L1265.7,1533.4 L1267.7,1533.3 L1269.7,1533.3 L1271.6,1533.3 L1273.6,1533.3 L1275.5,1533.3 L1277.5,1533.3 L1279.4,1533.3 L1281.3,1533.2 L1283.2,1533.2 L1285.1,1533.2 L1287.0,1533.2 L1288.9,1533.2 L1290.8,1533.2 L1292.6,1533.2 L1294.5,1533.2 L1296.4,1533.2 L1298.2,1533.2 L1300.1,1533.1 L1302.0,1533.1 L1303.8,1533.1 L1305.7,1533.1 L1307.5,1533.1 L1309.4,1533.1 L1311.3,1533.1 L1313.1,1533.1 L1315.0,1533.1 L1316.9,1533.1 L1318.7,1533.1 L1320.6,1533.1 L1322.5,1533.1 L1324.4,1533.1 L1326.2,1533.1 L1328.1,1533.0 L1330.0,1533.0 L1331.9,1533.0 L1333.9,1533.0 L1335.8,1533.0 L1337.7,1533.0 L1339.7,1533.0 L1341.6,1533.0 L1343.6,1533.0 L1345.5,1533.0 L1347.5,1533.0 L1349.5,1533.0 L1351.5,1533.0 L1353.5,1533.0 L1355.6,1533.0 L1357.6,1533.0 L1359.7,1533.0 L1361.8,1533.0 L1363.9,1532.9 L1366.0,1532.9 L1368.1,1532.9 L1370.2,1532.9 L1372.4,1532.9 L1374.6,1532.9 L1376.8,1532.9 L1379.0,1532.9 L1381.3,1532.9 L1383.5,1532.9 L1385.8,1532.9 L1388.1,1532.9 L1390.4,1532.8 L1392.8,1532.8 L1395.2,1532.8 L1397.6,1532.8 L1400.0,1532.8 L1401.6,1532.8 L1403.2,1532.8 L1404.8,1532.8 L1406.4,1532.8 L1408.1,1532.8 L1409.7,1532.7 L1411.4,1532.7 L1413.1,1532.7 L1414.8,1532.7 L1416.5,1532.7 L1418.3,1532.7 L1420.0,1532.7 L1421.8,1532.7 L1423.6,1532.7 L1425.4,1532.7 L1427.2,1532.7 L1429.0,1532.6 L1430.9,1532.6 L1432.7,1532.6 L1434.6,1532.6 L1436.5,1532.6 L1438.4,1532.6 L1440.3,1532.6 L1442.2,1532.6 L1444.1,1532.6 L1446.0,1532.5 L1448.0,1532.5 L1450.0,1532.5 L1451.9,1532.5 L1453.9,1532.5 L1455.9,1532.5 L1457.9,1532.5 L1460.0,1532.5 L1462.0,1532.5 L1464.0,1532.4 L1466.1,1532.4 L1468.1,1532.4 L1470.2,1532.4 L1472.3,1532.4 L1474.4,1532.4 L1476.5,1532.4 L1478.6,1532.4 L1480.7,1532.3 L1482.8,1532.3 L1484.9,1532.3 L1487.1,1532.3 L1489.2,1532.3 L1491.4,1532.3 L1493.5,1532.3 L1495.7,1532.3 L1497.9,1532.2 L1500.1,1532.2 L1502.3,1532.2 L1504.5,1532.2 L1506.7,1532.2 L1508.9,1532.2 L1511.1,1532.2 L1513.3,1532.1 L1515.5,1532.1 L1517.7,1532.1 L1520.0,1532.1 L1522.2,1532.1 L1524.4,1532.1 L1526.7,1532.1 L1528.9,1532.0 L1531.2,1532.0 L1533.4,1532.0 L1535.7,1532.0 L1538.0,1532.0 L1540.2,1532.0 L1542.5,1532.0 L1544.8,1532.0 L1547.0,1531.9 L1549.3,1531.9 L1551.6,1531.9 L1553.9,1531.9 L1556.2,1531.9 L1558.4,1531.9 L1560.7,1531.9 L1563.0,1531.8 L1565.3,1531.8 L1567.6,1531.8 L1569.9,1531.8 L1572.1,1531.8 L1574.4,1531.8 L1576.7,1531.8 L1579.0,1531.7 L1581.3,1531.7 L1583.6,1531.7 L1585.8,1531.7 L1588.1,1531.7 L1590.4,1531.7 L1592.7,1531.7 L1594.9,1531.6 L1597.2,1531.6 L1599.5,1531.6 L1601.7,1531.6 L1604.0,1531.6 L1606.3,1531.6 L1608.5,1531.6 L1610.8,1531.6 L1613.0,1531.5 L1615.3,1531.5 L1617.5,1531.5 L1619.7,1531.5 L1622.0,1531.5 L1624.2,1531.5 L1626.4,1531.5 L1628.6,1531.4 L1630.9,1531.4 L1633.1,1531.4 L1635.3,1531.4 L1637.5,1531.4 L1639.6,1531.4 L1641.8,1531.4 L1644.0,1531.4 L1646.2,1531.3 L1648.3,1531.3 L1650.5,1531.3 L1652.6,1531.3 L1654.8,1531.3 L1656.9,1531.3 L1659.0,1531.3 L1661.1,1531.3 L1663.3,1531.2 L1665.3,1531.2 L1667.4,1531.2 L1669.5,1531.2 L1671.6,1531.2 L1673.6,1531.2 L1675.7,1531.2 L1677.7,1531.2 L1679.8,1531.2 L1681.8,1531.1 L1683.8,1531.1 L1685.8,1531.1 L1687.8,1531.1 L1689.8,1531.1 L1691.7,1531.1 L1693.7,1531.1 L1695.6,1531.1 L1697.6,1531.1 L1699.5,1531.1 L1701.4,1531.0 L1703.3,1531.0 L1705.2,1531.0 L1707.0,1531.0 L1708.9,1531.0 L1710.7,1531.0 L1712.6,1531.0 L1714.4,1531.0 L1716.2,1531.0 L1718.0,1531.0 L1719.7,1531.0 L1721.5,1530.9 L1723.2,1530.9 L1724.9,1530.9 L1726.7,1530.9 L1728.4,1530.9 L1730.0,1530.9 L1731.7,1530.9 L1733.3,1530.9 L1735.0,1530.9 L1736.6,1530.9 L1738.2,1530.9 L1739.8,1530.9 L1741.3,1530.9 L1742.9,1530.9 L1744.4,1530.9 L1745.9,1530.8 L1747.4,1530.8 L1748.9,1530.8 L1750.3,1530.8 L1751.8,1530.8 L1753.2,1530.8 L1754.6,1530.8 L1756.0,1530.8 L1757.3,1530.8 L1758.7,1530.8 L1760.0,1530.8 L1762.8,1530.8 L1765.5,1530.8 L1768.3,1530.8 L1771.2,1530.8 L1774.0,1530.8 L1776.8,1530.8 L1779.7,1530.8 L1782.5,1530.8 L1785.4,1530.8 L1788.2,1530.8 L1791.0,1530.8 L1793.8,1530.8 L1796.5,1530.8 L1799.3,1530.8 L1802.0,1530.8 L1804.7,1530.8 L1807.3,1530.8 L1809.8,1530.8 L1812.4,1530.8 L1814.8,1530.8 L1817.2,1530.8 L1819.6,1530.8 L1821.9,1530.8 L1824.1,1530.8 L1826.2,1530.8 L1828.2,1530.8 L1830.2,1530.8 L1832.0,1530.8 L1833.8,1530.8 L1835.4,1530.8 L1837.0,1530.8 L1838.4,1530.8 L1839.7,1530.8 L1840.9,1530.8 L1842.0,1530.8 L1843.0,1530.8 L1843.8,1530.8 L1844.5,1530.8 L1845.0,1530.8 L1845.4,1530.8 L1845.6,1530.8 L1845.7,1530.8 L1846.3,1529.2 L1847.6,1526.3 L1848.7,1524.8 L1849.3,1525.8 L1849.7,1528.1 L1850.0,1531.0 L1850.1,1532.4 L1850.2,1534.0 L1850.2,1535.8 L1850.2,1537.8 L1850.2,1539.8 L1850.2,1542.0 L1850.2,1544.2 L1850.1,1546.5 L1850.1,1548.9 L1850.0,1551.2 L1850.0,1553.5 L1850.1,1555.8 L1850.1,1558.1 L1850.2,1560.2 L1850.3,1562.2 L1850.5,1564.2 L1850.6,1566.2 L1850.8,1568.2 L1851.0,1570.2 L1851.2,1572.2 L1851.4,1574.2 L1851.6,1576.2 L1851.9,1578.2 L1852.1,1580.2 L1852.3,1582.2 L1852.6,1584.2 L1852.8,1586.2 L1853.0,1588.2 L1853.2,1590.2 L1853.4,1592.2 L1853.6,1594.2 L1853.8,1596.2 L1854.0,1598.2 L1854.1,1600.2 L1854.3,1602.2 L1854.5,1604.2 L1854.7,1606.3 L1854.9,1608.3 L1855.1,1610.3 L1855.3,1612.3 L1855.5,1614.3 L1855.7,1616.3 L1856.0,1618.3 L1856.2,1620.3 L1856.5,1622.3 L1856.7,1624.4 L1857.0,1626.4 L1857.3,1628.5 L1857.6,1630.5 L1857.9,1632.6 L1858.2,1634.6 L1858.5,1636.7 L1858.8,1638.7 L1859.2,1640.7 L1859.5,1642.7 L1859.8,1644.7 L1860.1,1646.6 L1860.5,1648.5 L1860.8,1650.4 L1861.2,1652.6 L1861.6,1654.7 L1862.0,1656.7 L1862.4,1658.7 L1862.8,1660.7 L1863.2,1662.6 L1863.6,1664.6 L1864.0,1666.6 L1864.4,1668.7 L1864.9,1670.7 L1865.3,1672.9 L1865.7,1674.8 L1866.0,1676.7 L1866.4,1678.7 L1866.8,1680.7 L1867.1,1682.8 L1867.5,1684.9 L1867.9,1686.9 L1868.3,1689.0 L1868.7,1691.1 L1869.1,1693.2 L1869.5,1695.2 L1869.9,1697.2 L1870.4,1699.2 L1870.8,1701.1 L1871.3,1703.0 L1871.9,1705.2 L1872.5,1707.4 L1873.1,1709.5 L1873.8,1711.6 L1874.4,1713.7 L1875.1,1715.7 L1875.8,1717.7 L1876.5,1719.7 L1877.3,1721.7 L1878.0,1723.7 L1878.8,1725.6 L1879.6,1727.6 L1880.5,1729.6 L1881.3,1731.6 L1882.2,1733.5 L1883.1,1735.5 L1884.0,1737.4 L1884.9,1739.2 L1885.9,1741.0 L1886.8,1742.8 L1887.8,1744.5 L1889.0,1746.5 L1890.3,1748.5 L1891.6,1750.4 L1892.9,1752.2 L1894.2,1754.0 L1895.5,1755.8 L1896.8,1757.5 L1898.4,1759.6 L1900.3,1761.9 L1902.2,1764.2 L1903.9,1766.1 L1905.1,1767.5 L1905.5,1768.0" stroke="#0d6bbf" stroke-width="4.7"/>
<path d="M278.3,1676.5 L278.3,1678.0 L278.3,1679.5 L278.4,1681.1 L278.4,1682.6 L278.5,1684.1 L278.7,1685.6 L278.8,1687.1 L279.0,1688.5 L279.2,1690.0 L279.4,1691.5 L279.6,1693.0 L279.7,1693.5 M284.6,1714.2 L284.8,1714.8 L285.2,1716.3 L285.6,1717.7 L286.0,1719.2 L286.4,1720.6 L286.9,1722.1 L287.3,1723.5 L287.7,1725.0 L288.1,1726.4 L288.5,1727.8 L288.9,1729.3 L289.3,1730.7 L289.7,1732.2 L290.0,1733.6 L290.3,1734.8 M295.5,1755.5 L295.8,1757.0 L296.1,1758.4 L296.5,1759.9 L296.8,1761.3 L297.2,1762.8 L297.5,1764.3 L297.8,1765.7 L298.1,1767.2 L298.5,1768.7 L298.8,1770.1 L299.1,1771.6 L299.5,1773.1 L299.8,1774.5 L300.1,1776.0 L300.2,1776.3 M304.6,1797.1 L304.8,1798.0 L305.1,1799.5 L305.4,1801.0 L305.7,1802.5 L306.0,1803.9 L306.3,1805.4 L306.6,1806.9 L306.9,1808.3 L307.2,1809.8 L307.5,1811.3 L307.8,1812.8 L308.1,1814.2 L308.4,1815.7 L308.7,1817.2 L308.9,1817.9 M313.2,1838.8 L313.3,1839.3 L313.6,1840.7 L313.9,1842.2 L314.2,1843.7 L314.5,1845.2 L314.8,1846.6 L315.1,1848.1 L315.4,1849.6 L315.7,1851.0 L316.0,1852.5 L316.4,1854.0 L316.7,1855.4 L317.0,1856.9 L317.3,1858.4 L317.6,1859.6 M322.1,1880.4 L322.1,1880.4 L322.5,1881.8 L322.8,1883.3 L323.1,1884.8 L323.5,1886.2 L323.8,1887.7 L324.1,1889.2 L324.5,1890.6 L324.8,1892.1 L325.1,1893.5 L325.5,1895.0 L325.8,1896.5 L326.1,1897.9 L326.5,1899.4 L326.8,1900.9 L326.9,1901.1 M331.8,1921.9 L332.0,1922.8 L332.3,1924.2 L332.7,1925.7 L333.0,1927.1 L333.4,1928.6 L333.7,1930.1 L334.1,1931.5 L334.4,1933.0 L334.8,1934.4 L335.1,1935.9 L335.5,1937.3 L335.8,1938.8 L336.2,1940.3 L336.5,1941.7 L336.7,1942.6 M341.7,1963.4 L341.8,1963.6 L342.1,1965.1 L342.5,1966.5 L342.8,1968.0 L343.1,1969.4 L343.5,1970.9 L343.8,1972.4 L344.2,1973.8 L344.5,1975.3 L344.9,1976.7 L345.2,1978.2 L345.6,1979.7 L345.9,1981.1 L346.3,1982.6 L346.6,1984.1 L346.6,1984.1 M351.5,2004.9 L351.7,2006.0 L352.1,2007.5 L352.4,2008.9 L352.7,2010.4 L353.1,2011.9 L353.4,2013.3 L353.7,2014.8 L354.1,2016.3 L354.4,2017.7 L354.7,2019.2 L355.1,2020.7 L355.4,2022.1 L355.7,2023.6 L356.1,2025.1 L356.2,2025.6 M360.7,2046.4 L360.9,2047.1 L361.2,2048.6 L361.5,2050.1 L361.8,2051.5 L362.2,2053.0 L362.5,2054.5 L362.8,2056.0 L363.1,2057.4 L363.5,2058.9 L363.8,2060.4 L364.1,2061.8 L364.4,2063.3 L364.8,2064.8 L365.1,2066.2 L365.3,2067.2 M370.4,2087.9 L370.4,2088.1 L370.8,2089.6 L371.2,2091.0 L371.6,2092.5 L372.0,2093.9 L372.4,2095.4 L372.8,2096.8 L373.2,2098.3 L373.6,2099.7 L374.0,2101.2 L374.4,2102.6 L374.9,2104.0 L375.3,2105.5 L375.7,2106.9 L376.2,2108.3 L376.2,2108.5 M383.3,2128.9 L383.5,2129.6 L384.1,2131.0 L384.6,2132.4 L385.2,2133.8 L385.7,2135.1 L386.3,2136.5 L386.9,2137.9 L387.5,2139.3 L388.1,2140.7 L388.7,2142.1 L389.3,2143.4 L389.9,2144.8 L390.5,2146.2 L391.2,2147.5 L391.8,2148.9 L391.8,2148.9 M402.2,2168.3 L402.4,2168.7 L403.2,2170.0 L404.0,2171.3 L404.8,2172.6 L405.6,2173.9 L406.4,2175.1 L407.2,2176.4 L408.0,2177.6 L408.8,2178.9 L409.7,2180.1 L410.5,2181.3 L411.4,2182.6 L412.2,2183.8 L413.1,2185.0 L414.0,2186.2 L414.6,2187.0 M429.3,2204.6 L430.3,2205.7 L431.3,2206.7 L432.4,2207.8 L433.5,2208.8 L434.5,2209.9 L435.6,2210.9 L436.7,2212.0 L437.8,2213.0 L438.9,2214.0 L440.0,2215.0 L441.1,2216.0 L442.2,2217.0 L443.4,2217.9 L444.5,2218.9 L445.7,2219.8 L446.7,2220.7 M466.8,2234.7 L468.0,2235.5 L469.3,2236.3 L470.6,2237.1 L471.9,2237.9 L473.2,2238.7 L474.5,2239.5 L475.8,2240.2 L477.1,2241.0 L478.4,2241.8 L479.7,2242.6 L481.0,2243.4 L482.4,2244.2 L483.7,2244.9 L485.0,2245.7 L486.3,2246.5 L487.6,2247.3 L488.0,2247.5 M510.2,2259.4 L511.4,2259.9 L512.8,2260.5 L514.2,2261.0 L515.6,2261.5 L517.0,2262.0 L518.4,2262.4 L519.8,2262.9 L521.2,2263.3 L522.7,2263.7 L524.1,2264.0 L525.6,2264.4 L527.0,2264.7 L528.5,2265.0 L529.9,2265.3 L531.4,2265.5 L532.8,2265.7 L534.3,2266.0 L535.4,2266.1 M562.2,2266.9 L562.5,2266.8 L564.0,2266.8 L565.5,2266.7 L567.0,2266.5 L568.5,2266.4 L570.0,2266.3 L571.5,2266.1 L573.0,2266.0 L574.5,2265.8 L576.0,2265.7 L577.5,2265.5 L579.0,2265.3 L580.5,2265.1 L582.0,2264.9 L583.5,2264.7 L585.0,2264.5 L586.5,2264.3 L588.0,2264.1 L588.7,2264.0 M615.0,2260.1 L615.2,2260.1 L616.7,2259.8 L618.2,2259.6 L619.7,2259.4 L621.2,2259.2 L622.7,2259.0 L624.2,2258.9 L625.7,2258.7 L627.2,2258.5 L628.7,2258.3 L630.2,2258.2 L631.7,2258.0 L633.2,2257.9 L634.7,2257.8 L636.2,2257.6 L637.7,2257.5 L639.2,2257.4 L640.7,2257.3 L641.6,2257.3 M668.4,2257.0 L669.1,2257.0 L670.6,2257.0 L672.0,2257.1 L673.5,2257.1 L675.0,2257.1 L676.5,2257.1 L678.0,2257.1 L679.5,2257.1 L681.0,2257.2 L682.5,2257.2 L684.0,2257.2 L685.5,2257.2 L687.0,2257.2 L688.5,2257.1 L690.0,2257.1 L691.5,2257.1 L693.0,2257.1 L694.5,2257.1 L695.2,2257.0 M721.9,2256.0 L723.0,2256.0 L724.5,2255.9 L726.0,2255.8 L727.5,2255.8 L729.0,2255.7 L730.6,2255.6 L732.1,2255.6 L733.6,2255.5 L735.1,2255.4 L736.6,2255.4 L738.1,2255.3 L739.6,2255.3 L741.1,2255.2 L742.6,2255.2 L744.1,2255.1 L745.6,2255.1 L747.1,2255.0 L748.6,2255.0 L748.7,2255.0 M775.5,2254.4 L775.6,2254.4 L777.1,2254.4 L778.6,2254.4 L780.1,2254.4 L781.6,2254.4 L783.1,2254.3 L784.6,2254.3 L786.1,2254.3 L787.6,2254.3 L789.1,2254.3 L790.6,2254.3 L792.1,2254.2 L793.6,2254.2 L795.1,2254.2 L796.6,2254.2 L798.1,2254.2 L799.6,2254.1 L801.1,2254.1 L802.3,2254.1 M829.1,2253.7 L829.7,2253.7 L831.2,2253.7 L832.7,2253.7 L834.2,2253.7 L835.7,2253.6 L837.2,2253.6 L838.7,2253.6 L840.2,2253.6 L841.7,2253.5 L843.2,2253.5 L844.7,2253.5 L846.2,2253.5 L847.7,2253.4 L849.2,2253.4 L850.7,2253.4 L852.2,2253.4 L853.7,2253.3 L855.2,2253.3 L855.9,2253.3 M882.7,2252.8 L883.7,2252.8 L885.2,2252.8 L886.7,2252.8 L888.2,2252.7 L889.7,2252.7 L891.2,2252.7 L892.7,2252.7 L894.2,2252.6 L895.7,2252.6 L897.2,2252.6 L898.7,2252.5 L900.2,2252.5 L901.7,2252.5 L903.2,2252.5 L904.7,2252.4 L906.2,2252.4 L907.7,2252.4 L909.2,2252.3 L909.5,2252.3 M936.2,2251.8 L937.7,2251.8 L939.2,2251.8 L940.7,2251.8 L942.2,2251.7 L943.8,2251.7 L945.3,2251.7 L946.8,2251.6 L948.3,2251.6 L949.8,2251.6 L951.3,2251.6 L952.8,2251.5 L954.3,2251.5 L955.8,2251.5 L957.3,2251.4 L958.8,2251.4 L960.3,2251.4 L961.8,2251.4 L963.0,2251.3 M989.8,2250.8 L990.3,2250.8 L991.8,2250.8 L993.3,2250.8 L994.8,2250.8 L996.3,2250.7 L997.8,2250.7 L999.3,2250.7 L1000.8,2250.6 L1002.3,2250.6 L1003.8,2250.6 L1005.3,2250.6 L1006.8,2250.5 L1008.3,2250.5 L1009.8,2250.5 L1011.3,2250.5 L1012.8,2250.4 L1014.3,2250.4 L1015.8,2250.4 L1016.6,2250.4 M1043.4,2249.9 L1044.4,2249.9 L1045.9,2249.9 L1047.4,2249.8 L1048.9,2249.8 L1050.4,2249.8 L1051.9,2249.8 L1053.4,2249.7 L1054.9,2249.7 L1056.4,2249.7 L1057.9,2249.7 L1059.4,2249.6 L1060.9,2249.6 L1062.4,2249.6 L1063.9,2249.6 L1065.4,2249.5 L1066.9,2249.5 L1068.4,2249.5 L1069.9,2249.5 L1070.2,2249.5 M1097.0,2249.0 L1098.4,2249.0 L1099.9,2249.0 L1101.4,2248.9 L1102.9,2248.9 L1104.4,2248.9 L1105.9,2248.9 L1107.4,2248.9 L1108.9,2248.8 L1110.4,2248.8 L1111.9,2248.8 L1113.4,2248.8 L1114.9,2248.7 L1116.4,2248.7 L1117.9,2248.7 L1119.4,2248.7 L1120.9,2248.6 L1122.4,2248.6 L1123.8,2248.6 M1150.6,2248.2 L1151.0,2248.1 L1152.5,2248.1 L1154.0,2248.1 L1155.5,2248.1 L1157.0,2248.1 L1158.5,2248.0 L1160.0,2248.0 L1161.5,2248.0 L1163.0,2248.0 L1164.5,2247.9 L1166.0,2247.9 L1167.5,2247.9 L1169.0,2247.9 L1170.5,2247.8 L1172.0,2247.8 L1173.5,2247.8 L1175.0,2247.8 L1176.5,2247.7 L1177.4,2247.7 M1204.2,2247.3 L1205.0,2247.3 L1206.5,2247.3 L1208.0,2247.2 L1209.5,2247.2 L1211.0,2247.2 L1212.5,2247.2 L1214.0,2247.1 L1215.5,2247.1 L1217.0,2247.1 L1218.5,2247.1 L1220.0,2247.0 L1221.5,2247.0 L1223.0,2247.0 L1224.5,2247.0 L1226.0,2246.9 L1227.5,2246.9 L1229.0,2246.9 L1230.5,2246.9 L1231.0,2246.8 M1257.8,2246.4 L1259.0,2246.4 L1260.5,2246.3 L1262.1,2246.3 L1263.6,2246.3 L1265.1,2246.3 L1266.6,2246.2 L1268.1,2246.2 L1269.6,2246.2 L1271.1,2246.2 L1272.6,2246.1 L1274.1,2246.1 L1275.6,2246.1 L1277.1,2246.1 L1278.6,2246.0 L1280.1,2246.0 L1281.6,2246.0 L1283.1,2246.0 L1284.6,2245.9 M1311.4,2245.5 L1311.6,2245.5 L1313.1,2245.4 L1314.6,2245.4 L1316.1,2245.4 L1317.6,2245.4 L1319.1,2245.3 L1320.6,2245.3 L1322.1,2245.3 L1323.6,2245.3 L1325.1,2245.2 L1326.6,2245.2 L1328.1,2245.2 L1329.6,2245.1 L1331.1,2245.1 L1332.6,2245.1 L1334.1,2245.1 L1335.6,2245.0 L1337.1,2245.0 L1338.2,2245.0 M1364.9,2244.5 L1365.6,2244.5 L1367.1,2244.5 L1368.6,2244.5 L1370.2,2244.4 L1371.7,2244.4 L1373.2,2244.4 L1374.7,2244.4 L1376.2,2244.3 L1377.7,2244.3 L1379.2,2244.3 L1380.7,2244.3 L1382.2,2244.2 L1383.7,2244.2 L1385.2,2244.2 L1386.7,2244.2 L1388.2,2244.1 L1389.7,2244.1 L1391.2,2244.1 L1391.7,2244.1 M1418.5,2243.6 L1419.7,2243.6 L1421.2,2243.6 L1422.7,2243.6 L1424.2,2243.5 L1425.7,2243.5 L1427.2,2243.5 L1428.7,2243.5 L1430.2,2243.4 L1431.7,2243.4 L1433.2,2243.4 L1434.7,2243.4 L1436.2,2243.3 L1437.7,2243.3 L1439.2,2243.3 L1440.7,2243.3 L1442.2,2243.2 L1443.7,2243.2 L1445.2,2243.2 L1445.3,2243.2 M1472.1,2242.8 L1472.2,2242.8 L1473.7,2242.8 L1475.2,2242.7 L1476.8,2242.7 L1478.3,2242.7 L1479.8,2242.7 L1481.3,2242.6 L1482.8,2242.6 L1484.3,2242.6 L1485.8,2242.6 L1487.3,2242.6 L1488.8,2242.5 L1490.3,2242.5 L1491.8,2242.5 L1493.3,2242.5 L1494.8,2242.5 L1496.3,2242.4 L1497.8,2242.4 L1498.9,2242.4 M1525.7,2242.0 L1526.3,2242.0 L1527.8,2242.0 L1529.3,2242.0 L1530.8,2242.0 L1532.3,2242.0 L1533.8,2241.9 L1535.3,2241.9 L1536.8,2241.9 L1538.3,2241.9 L1539.8,2241.9 L1541.3,2241.8 L1542.8,2241.8 L1544.3,2241.8 L1545.8,2241.8 L1547.3,2241.8 L1548.8,2241.8 L1550.3,2241.7 L1551.8,2241.7 L1552.5,2241.7 M1579.3,2241.4 L1580.3,2241.4 L1581.9,2241.4 L1583.4,2241.4 L1584.9,2241.3 L1586.4,2241.3 L1587.9,2241.3 L1589.4,2241.3 L1590.9,2241.3 L1592.4,2241.3 L1593.9,2241.2 L1595.4,2241.2 L1596.9,2241.2 L1598.4,2241.2 L1599.9,2241.2 L1601.4,2241.2 L1602.9,2241.1 L1604.4,2241.1 L1605.9,2241.1 L1606.1,2241.1 M1632.9,2240.8 L1634.4,2240.8 L1635.9,2240.7 L1637.4,2240.7 L1638.9,2240.7 L1640.4,2240.7 L1641.9,2240.7 L1643.4,2240.7 L1644.9,2240.6 L1646.4,2240.6 L1647.9,2240.6 L1649.4,2240.6 L1650.9,2240.5 L1652.4,2240.5 L1653.9,2240.5 L1655.4,2240.5 L1656.9,2240.5 L1658.4,2240.4 L1659.7,2240.4 M1686.5,2240.0 L1686.9,2240.0 L1688.5,2240.0 L1690.0,2239.9 L1691.5,2239.9 L1693.0,2239.9 L1694.5,2239.9 L1696.0,2239.8 L1697.5,2239.8 L1699.0,2239.8 L1700.5,2239.8 L1702.0,2239.7 L1703.5,2239.7 L1705.0,2239.7 L1706.5,2239.6 L1708.0,2239.6 L1709.5,2239.6 L1711.0,2239.6 L1712.5,2239.5 L1713.3,2239.5 M1740.1,2238.9 L1741.0,2238.9 L1742.5,2238.9 L1744.0,2238.8 L1745.5,2238.8 L1747.0,2238.7 L1748.5,2238.7 L1750.0,2238.7 L1751.5,2238.6 L1753.0,2238.6 L1754.5,2238.5 L1756.0,2238.5 L1757.5,2238.5 L1759.0,2238.4 L1760.5,2238.4 L1762.0,2238.3 L1763.5,2238.3 L1765.0,2238.3 L1766.5,2238.2 L1766.9,2238.2 M1793.6,2237.3 L1795.1,2237.3 L1796.6,2237.2 L1798.1,2237.2 L1799.6,2237.1 L1801.1,2237.1 L1802.6,2237.0 L1804.1,2237.0 L1805.6,2236.9 L1807.1,2236.9 L1808.6,2236.8 L1810.1,2236.7 L1811.6,2236.7 L1813.1,2236.6 L1814.6,2236.6 L1816.1,2236.5 L1817.6,2236.5 L1819.1,2236.4 L1820.4,2236.4 M1847.2,2235.6 L1847.6,2235.6 L1849.1,2235.6 L1850.6,2235.6 L1852.1,2235.6 L1853.6,2235.6 L1855.1,2235.6 L1856.6,2235.6 L1858.1,2235.6 L1859.6,2235.7 L1861.1,2235.7 L1862.6,2235.7 L1864.1,2235.7 L1865.6,2235.8 L1867.1,2235.8 L1868.6,2235.9 L1870.1,2235.9 L1871.6,2236.0 L1873.1,2236.0 L1874.0,2236.1 M1900.6,2238.6 L1901.5,2238.7 L1903.0,2239.0 L1904.5,2239.2" stroke="#f3464c" stroke-width="4.7"/>
<path d="M278.5,1675.6 L278.8,1677.1 L279.2,1678.5 L279.5,1680.0 L279.9,1681.5 L280.2,1682.9 L280.6,1684.4 L280.9,1685.8 L281.3,1687.3 L281.7,1688.7 L282.0,1690.2 L282.4,1691.7 L282.8,1693.1 L283.2,1694.6 L283.5,1696.0 L283.9,1697.5 L284.3,1698.9 L284.7,1700.4 L285.1,1701.8 L285.4,1703.3 L285.8,1704.7 L286.2,1706.2 L286.6,1707.6 L287.0,1709.1 L287.4,1710.5 L287.8,1712.0 L288.2,1713.4 L288.6,1714.9 L289.0,1716.3 L289.4,1717.8 L289.8,1719.2 L290.2,1720.7 L290.6,1722.1 L291.0,1723.6 L291.4,1725.0 L291.8,1726.5 L292.2,1727.9 L292.6,1729.4 L293.0,1730.8 L293.3,1732.3 L293.7,1733.7 L294.1,1735.2 L294.5,1736.6 L294.9,1738.1 L295.3,1739.5 L295.7,1741.0 L296.1,1742.4 L296.5,1743.9 L296.9,1745.3 L297.3,1746.8 L297.6,1748.2 L298.0,1749.7 L298.4,1751.1 L298.8,1752.6 L299.2,1754.0 L299.5,1755.5 L299.9,1757.0 L300.3,1758.4 L300.6,1759.9 L301.0,1761.3 L301.4,1762.8 L301.7,1764.3 L302.1,1765.7 L302.4,1767.2 L302.8,1768.6 L303.1,1770.1 L303.5,1771.6 L303.8,1773.0 L304.2,1774.5 L304.5,1776.0 L304.9,1777.4 L305.2,1778.9 L305.5,1780.3 L305.9,1781.8 L306.2,1783.3 L306.5,1784.8 L306.9,1786.2 L307.2,1787.7 L307.5,1789.2 L307.8,1790.6 L308.2,1792.1 L308.5,1793.6 L308.8,1795.0 L309.1,1796.5 L309.4,1798.0 L309.8,1799.5 L310.1,1800.9 L310.4,1802.4 L310.7,1803.9 L311.0,1805.3 L311.3,1806.8 L311.6,1808.3 L311.9,1809.8 L312.2,1811.2 L312.6,1812.7 L312.9,1814.2 L313.2,1815.7 L313.5,1817.1 L313.8,1818.6 L314.1,1820.1 L314.4,1821.6 L314.7,1823.0 L315.0,1824.5 L315.3,1826.0 L315.6,1827.5 L315.9,1828.9 L316.2,1830.4 L316.5,1831.9 L316.8,1833.4 L317.1,1834.8 L317.4,1836.3 L317.7,1837.8 L318.0,1839.3 L318.4,1840.7 L318.7,1842.2 L319.0,1843.7 L319.3,1845.2 L319.6,1846.6 L319.9,1848.1 L320.2,1849.6 L320.5,1851.0 L320.8,1852.5 L321.1,1854.0 L321.4,1855.5 L321.7,1856.9 L322.1,1858.4 L322.4,1859.9 L322.7,1861.4 L323.0,1862.8 L323.3,1864.3 L323.6,1865.8 L324.0,1867.2 L324.3,1868.7 L324.6,1870.2 L324.9,1871.6 L325.2,1873.1 L325.6,1874.6 L325.9,1876.0 L326.2,1877.5 L326.5,1879.0 L326.9,1880.5 L327.2,1881.9 L327.5,1883.4 L327.9,1884.9 L328.2,1886.3 L328.5,1887.8 L328.9,1889.3 L329.2,1890.7 L329.5,1892.2 L329.9,1893.7 L330.2,1895.1 L330.5,1896.6 L330.9,1898.0 L331.2,1899.5 L331.5,1901.0 L331.9,1902.4 L332.2,1903.9 L332.6,1905.4 L332.9,1906.8 L333.2,1908.3 L333.6,1909.8 L333.9,1911.2 L334.3,1912.7 L334.6,1914.1 L335.0,1915.6 L335.3,1917.1 L335.7,1918.5 L336.0,1920.0 L336.4,1921.5 L336.7,1922.9 L337.0,1924.4 L337.4,1925.8 L337.7,1927.3 L338.1,1928.8 L338.4,1930.2 L338.8,1931.7 L339.1,1933.1 L339.5,1934.6 L339.9,1936.1 L340.2,1937.5 L340.6,1939.0 L340.9,1940.5 L341.3,1941.9 L341.6,1943.4 L342.0,1944.8 L342.3,1946.3 L342.7,1947.8 L343.0,1949.2 L343.4,1950.7 L343.8,1952.1 L344.1,1953.6 L344.5,1955.1 L344.8,1956.5 L345.2,1958.0 L345.5,1959.4 L345.9,1960.9 L346.2,1962.4 L346.6,1963.8 L347.0,1965.3 L347.3,1966.7 L347.7,1968.2 L348.0,1969.7 L348.4,1971.1 L348.8,1972.6 L349.1,1974.0 L349.5,1975.5 L349.8,1977.0 L350.2,1978.4 L350.6,1979.9 L350.9,1981.3 L351.3,1982.8 L351.6,1984.3 L352.0,1985.7 L352.3,1987.2 L352.7,1988.6 L353.1,1990.1 L353.4,1991.6 L353.8,1993.0 L354.1,1994.5 L354.5,1996.0 L354.9,1997.4 L355.2,1998.9 L355.6,2000.3 L355.9,2001.8 L356.3,2003.3 L356.7,2004.7 L357.0,2006.2 L357.4,2007.7 L357.7,2009.1 L358.1,2010.6 L358.4,2012.0 L358.8,2013.5 L359.2,2015.0 L359.5,2016.4 L359.9,2017.9 L360.2,2019.4 L360.6,2020.8 L360.9,2022.3 L361.3,2023.7 L361.6,2025.2 L362.0,2026.7 L362.3,2028.1 L362.7,2029.6 L363.1,2031.1 L363.4,2032.5 L363.8,2034.0 L364.1,2035.5 L364.5,2036.9 L364.8,2038.4 L365.2,2039.9 L365.5,2041.3 L365.9,2042.8 L366.2,2044.3 L366.6,2045.7 L366.9,2047.2 L367.3,2048.7 L367.6,2050.1 L368.0,2051.6 L368.3,2053.1 L368.6,2054.6 L369.0,2056.0 L369.3,2057.5 L369.7,2059.0 L370.0,2060.4 L370.4,2061.9 L370.7,2063.4 L371.0,2064.8 L371.4,2066.3 L371.7,2067.8 L372.1,2069.3 L372.4,2070.7 L372.8,2072.2 L373.2,2073.7 L373.5,2075.1 L373.9,2076.6 L374.2,2078.0 L374.6,2079.5 L375.0,2081.0 L375.4,2082.4 L375.8,2083.9 L376.2,2085.3 L376.6,2086.8 L377.0,2088.2 L377.4,2089.7 L377.8,2091.1 L378.2,2092.5 L378.7,2094.0 L379.1,2095.4 L379.6,2096.8 L380.0,2098.2 L380.5,2099.7 L381.0,2101.1 L381.5,2102.5 L382.0,2103.9 L382.5,2105.3 L383.0,2106.7 L383.6,2108.1 L384.1,2109.5 L384.7,2110.8 L385.2,2112.2 L385.8,2113.6 L386.4,2114.9 L387.1,2116.3 L387.7,2117.6 L388.3,2119.0 L389.0,2120.3 L389.7,2121.7 L390.4,2123.0 L391.1,2124.3 L391.8,2125.6 L392.5,2126.9 L393.3,2128.2 L394.1,2129.5 L394.9,2130.8 L395.7,2132.1 L396.5,2133.3 L397.3,2134.6 L398.2,2135.9 L399.0,2137.1 L399.9,2138.4 L400.8,2139.6 L401.7,2140.8 L402.6,2142.1 L403.5,2143.3 L404.4,2144.5 L405.3,2145.7 L406.3,2146.9 L407.2,2148.1 L408.1,2149.3 L409.1,2150.5 L410.1,2151.7 L411.0,2152.8 L412.0,2154.0 L412.9,2155.2 L413.9,2156.3 L414.9,2157.5 L415.9,2158.7 L416.9,2159.8 L417.9,2160.9 L418.9,2162.1 L419.9,2163.2 L420.9,2164.3 L421.9,2165.5 L422.9,2166.6 L423.9,2167.7 L424.9,2168.8 L425.9,2169.9 L427.0,2171.0 L428.0,2172.1 L429.1,2173.2 L430.1,2174.2 L431.2,2175.3 L432.2,2176.4 L433.3,2177.4 L434.3,2178.5 L435.4,2179.6 L436.5,2180.6 L437.5,2181.6 L438.6,2182.7 L439.7,2183.7 L440.8,2184.7 L441.9,2185.8 L443.0,2186.8 L444.1,2187.8 L445.2,2188.8 L446.3,2189.8 L447.4,2190.8 L448.6,2191.8 L449.7,2192.8 L450.8,2193.7 L452.0,2194.7 L453.1,2195.7 L454.3,2196.6 L455.4,2197.6 L456.6,2198.5 L457.7,2199.5 L458.9,2200.4 L460.1,2201.4 L461.3,2202.3 L462.4,2203.2 L463.6,2204.1 L464.8,2205.0 L466.0,2205.9 L467.2,2206.8 L468.4,2207.7 L469.6,2208.6 L470.9,2209.5 L472.1,2210.4 L473.3,2211.3 L474.5,2212.1 L475.8,2213.0 L477.0,2213.8 L478.3,2214.7 L479.5,2215.5 L480.8,2216.4 L482.1,2217.2 L483.3,2218.0 L484.6,2218.8 L485.9,2219.6 L487.2,2220.4 L488.5,2221.2 L489.8,2222.0 L491.1,2222.8 L492.4,2223.6 L493.7,2224.3 L495.0,2225.1 L496.3,2225.8 L497.7,2226.6 L499.0,2227.3 L500.3,2228.0 L501.7,2228.7 L503.0,2229.3 L504.4,2230.0 L505.8,2230.6 L507.1,2231.2 L508.5,2231.9 L509.9,2232.5 L511.3,2233.0 L512.7,2233.6 L514.1,2234.1 L515.5,2234.6 L516.9,2235.1 L518.3,2235.6 L519.7,2236.1 L521.1,2236.5 L522.6,2236.9 L524.0,2237.3 L525.5,2237.7 L526.9,2238.0 L528.4,2238.4 L529.8,2238.7 L531.3,2238.9 L532.8,2239.2 L534.2,2239.4 L535.7,2239.6 L537.2,2239.8 L538.7,2240.0 L540.2,2240.2 L541.7,2240.3 L543.2,2240.4 L544.7,2240.5 L546.2,2240.6 L547.7,2240.6 L549.2,2240.7 L550.7,2240.7 L552.2,2240.7 L553.7,2240.7 L555.2,2240.7 L556.8,2240.6 L558.3,2240.6 L559.8,2240.5 L561.3,2240.5 L562.8,2240.4 L564.3,2240.3 L565.9,2240.2 L567.4,2240.1 L568.9,2239.9 L570.4,2239.8 L571.9,2239.6 L573.4,2239.5 L575.0,2239.3 L576.5,2239.2 L578.0,2239.0 L579.5,2238.8 L581.0,2238.6 L582.5,2238.5 L584.0,2238.3 L585.5,2238.1 L587.0,2237.9 L588.5,2237.7 L590.0,2237.5 L591.5,2237.3 L593.0,2237.1 L594.5,2236.9 L596.0,2236.7 L597.5,2236.5 L599.0,2236.3 L600.4,2236.1 L601.9,2235.9 L603.4,2235.8 L604.9,2235.6 L606.3,2235.4 L607.8,2235.3 L609.3,2235.1 L610.7,2235.0 L612.2,2234.8 L613.6,2234.7 L615.1,2234.6 L616.5,2234.4 L617.9,2234.3 L619.4,2234.2 L620.8,2234.2 L622.1,2234.3 L623.3,2235.1 L624.0,2237.0 L623.8,2237.9 L623.8,2237.6 L623.8,2237.1 L623.8,2236.4 L623.8,2235.5 L623.8,2234.5 L623.8,2233.3 L623.8,2231.9 L623.8,2230.4 L623.8,2228.7 L623.8,2227.0 L623.8,2225.1 L623.8,2223.1 L623.8,2220.9 L623.9,2218.7 L623.9,2216.4 L623.9,2214.1 L623.9,2211.6 L623.9,2209.1 L623.9,2206.6 L623.9,2204.0 L624.0,2201.3 L624.0,2198.7 L624.0,2196.0 L624.0,2193.3 L624.1,2190.6 L624.1,2187.9 L624.1,2185.3 L624.2,2182.6 L624.2,2180.0 L624.2,2177.4 L624.3,2174.9 L624.3,2172.4 L624.4,2170.0 L624.4,2167.7 L624.5,2165.5 L624.5,2163.3 L624.6,2161.3 L624.7,2159.3 L624.7,2157.5 L624.8,2155.8 L624.9,2153.4 L625.0,2151.1 L625.1,2148.8 L625.3,2146.6 L625.4,2144.5 L625.5,2142.4 L625.7,2140.3 L625.8,2138.3 L625.9,2136.3 L626.1,2134.4 L626.2,2132.4 L626.4,2130.5 L626.6,2128.6 L626.7,2126.6 L626.9,2124.7 L627.1,2122.7 L627.3,2120.7 L627.5,2118.7 L627.7,2116.7 L627.9,2114.6 L628.1,2112.5 L628.3,2110.4 L628.5,2108.2 L628.8,2106.1 L629.0,2103.9 L629.2,2101.8 L629.5,2099.6 L629.7,2097.5 L630.0,2095.3 L630.2,2093.2 L630.5,2091.1 L630.8,2089.1 L631.0,2087.0 L631.3,2085.0 L631.6,2083.1 L631.9,2081.2 L632.3,2079.3 L632.6,2077.5 L633.1,2075.2 L633.5,2073.0 L634.0,2070.8 L634.5,2068.7 L635.0,2066.7 L635.5,2064.7 L636.1,2062.7 L636.6,2060.8 L637.2,2058.9 L637.8,2056.9 L638.5,2055.0 L639.2,2053.0 L639.9,2051.0 L640.7,2048.9 L641.4,2046.9 L642.2,2045.0 L643.1,2043.0 L643.9,2041.2 L644.9,2039.4 L645.9,2037.6 L646.9,2036.0 L648.1,2034.3 L649.4,2032.7 L650.8,2031.1 L652.2,2029.6 L653.6,2028.2 L655.2,2026.9 L656.7,2025.7 L658.4,2024.5 L660.2,2023.4 L662.1,2022.4 L664.0,2021.5 L666.0,2020.6 L668.1,2019.8 L670.2,2019.1 L672.4,2018.3 L674.6,2017.6 L676.5,2017.0 L678.4,2016.4 L680.4,2015.8 L682.4,2015.2 L684.5,2014.7 L686.6,2014.2 L688.7,2013.7 L690.8,2013.2 L693.1,2012.7 L695.3,2012.3 L697.6,2011.8 L699.4,2011.5 L701.3,2011.1 L703.2,2010.8 L705.1,2010.5 L707.1,2010.2 L709.1,2009.9 L711.1,2009.6 L713.1,2009.4 L715.2,2009.1 L717.2,2008.9 L719.3,2008.6 L721.4,2008.4 L723.6,2008.1 L725.7,2007.9 L727.9,2007.7 L730.0,2007.4 L732.2,2007.2 L734.1,2007.0 L736.0,2006.8 L737.9,2006.7 L739.8,2006.5 L741.8,2006.3 L743.7,2006.2 L745.7,2006.0 L747.7,2005.8 L749.7,2005.7 L751.7,2005.5 L753.8,2005.4 L755.8,2005.3 L757.8,2005.1 L759.9,2005.0 L761.9,2004.9 L764.0,2004.7 L766.0,2004.6 L768.1,2004.5 L770.1,2004.3 L772.1,2004.2 L774.2,2004.1 L776.2,2003.9 L778.2,2003.8 L780.2,2003.7 L782.2,2003.5 L784.2,2003.4 L786.2,2003.3 L788.2,2003.1 L790.2,2003.0 L792.2,2002.9 L794.2,2002.8 L796.2,2002.6 L798.2,2002.5 L800.2,2002.4 L802.2,2002.3 L804.3,2002.2 L806.3,2002.0 L808.3,2001.9 L810.3,2001.8 L812.3,2001.7 L814.3,2001.6 L816.3,2001.4 L818.3,2001.3 L820.3,2001.2 L822.3,2001.1 L824.3,2001.0 L826.3,2000.9 L828.3,2000.8 L830.2,2000.7 L832.2,2000.6 L834.1,2000.5 L836.1,2000.4 L838.0,2000.3 L840.0,2000.1 L841.9,2000.0 L843.8,1999.9 L845.8,1999.8 L847.7,1999.7 L849.7,1999.6 L851.7,1999.5 L853.7,1999.5 L855.7,1999.4 L857.7,1999.3 L859.8,1999.2 L861.8,1999.1 L863.9,1999.0 L866.1,1998.9 L868.2,1998.8 L870.4,1998.7 L872.2,1998.6 L874.1,1998.6 L875.9,1998.5 L877.8,1998.4 L879.7,1998.3 L881.6,1998.3 L883.5,1998.2 L885.4,1998.1 L887.4,1998.1 L889.3,1998.0 L891.3,1997.9 L893.2,1997.9 L895.2,1997.8 L897.2,1997.7 L899.2,1997.7 L901.2,1997.6 L903.3,1997.5 L905.3,1997.5 L907.4,1997.4 L909.4,1997.3 L911.5,1997.3 L913.6,1997.2 L915.7,1997.1 L917.8,1997.1 L919.9,1997.0 L922.1,1996.9 L924.2,1996.9 L926.4,1996.8 L928.5,1996.7 L930.7,1996.7 L932.9,1996.6 L935.1,1996.5 L937.3,1996.5 L939.5,1996.4 L941.3,1996.3 L943.2,1996.3 L945.0,1996.2 L946.9,1996.2 L948.7,1996.1 L950.6,1996.1 L952.5,1996.0 L954.4,1995.9 L956.3,1995.9 L958.2,1995.8 L960.2,1995.8 L962.1,1995.7 L964.1,1995.7 L966.0,1995.6 L968.0,1995.5 L969.9,1995.5 L971.9,1995.4 L973.9,1995.4 L975.9,1995.3 L977.9,1995.3 L979.9,1995.2 L981.9,1995.1 L983.9,1995.1 L986.0,1995.0 L988.0,1995.0 L990.0,1994.9 L992.1,1994.9 L994.1,1994.8 L996.2,1994.7 L998.2,1994.7 L1000.3,1994.6 L1002.4,1994.6 L1004.4,1994.5 L1006.5,1994.4 L1008.6,1994.4 L1010.7,1994.3 L1012.7,1994.3 L1014.8,1994.2 L1016.9,1994.2 L1019.0,1994.1 L1021.1,1994.0 L1023.2,1994.0 L1025.3,1993.9 L1027.4,1993.9 L1029.5,1993.8 L1031.6,1993.7 L1033.7,1993.7 L1035.8,1993.6 L1037.9,1993.6 L1040.0,1993.5 L1041.9,1993.4 L1043.9,1993.4 L1045.8,1993.3 L1047.7,1993.3 L1049.6,1993.2 L1051.6,1993.2 L1053.5,1993.1 L1055.5,1993.0 L1057.4,1993.0 L1059.3,1992.9 L1061.3,1992.9 L1063.2,1992.8 L1065.2,1992.8 L1067.1,1992.7 L1069.1,1992.6 L1071.1,1992.6 L1073.0,1992.5 L1075.0,1992.5 L1077.0,1992.4 L1078.9,1992.3 L1080.9,1992.3 L1082.9,1992.2 L1084.9,1992.2 L1086.9,1992.1 L1088.9,1992.0 L1090.8,1992.0 L1092.8,1991.9 L1094.8,1991.9 L1096.8,1991.8 L1098.9,1991.7 L1100.9,1991.7 L1102.9,1991.6 L1104.9,1991.6 L1106.9,1991.5 L1108.9,1991.4 L1111.0,1991.4 L1113.0,1991.3 L1115.0,1991.3 L1117.1,1991.2 L1119.1,1991.2 L1121.2,1991.1 L1123.2,1991.0 L1125.3,1991.0 L1127.4,1990.9 L1129.4,1990.9 L1131.5,1990.8 L1133.6,1990.8 L1135.6,1990.7 L1137.7,1990.7 L1139.8,1990.6 L1141.9,1990.5 L1144.0,1990.5 L1146.1,1990.4 L1148.2,1990.4 L1150.3,1990.3 L1152.5,1990.3 L1154.6,1990.2 L1156.7,1990.2 L1158.9,1990.1 L1161.0,1990.1 L1162.9,1990.1 L1164.8,1990.0 L1166.7,1990.0 L1168.6,1989.9 L1170.5,1989.9 L1172.4,1989.9 L1174.4,1989.8 L1176.3,1989.8 L1178.2,1989.8 L1180.2,1989.7 L1182.1,1989.7 L1184.1,1989.6 L1186.0,1989.6 L1188.0,1989.6 L1189.9,1989.5 L1191.9,1989.5 L1193.9,1989.5 L1195.8,1989.4 L1197.8,1989.4 L1199.8,1989.4 L1201.8,1989.3 L1203.8,1989.3 L1205.8,1989.3 L1207.8,1989.2 L1209.8,1989.2 L1211.8,1989.2 L1213.8,1989.2 L1215.8,1989.1 L1217.8,1989.1 L1219.8,1989.1 L1221.8,1989.0 L1223.8,1989.0 L1225.8,1989.0 L1227.9,1988.9 L1229.9,1988.9 L1231.9,1988.9 L1234.0,1988.9 L1236.0,1988.8 L1238.0,1988.8 L1240.1,1988.8 L1242.1,1988.7 L1244.2,1988.7 L1246.2,1988.7 L1248.3,1988.7 L1250.3,1988.6 L1252.4,1988.6 L1254.4,1988.6 L1256.5,1988.5 L1258.5,1988.5 L1260.6,1988.5 L1262.6,1988.5 L1264.7,1988.4 L1266.8,1988.4 L1268.8,1988.4 L1270.9,1988.4 L1273.0,1988.3 L1275.0,1988.3 L1277.1,1988.3 L1279.2,1988.2 L1281.2,1988.2 L1283.3,1988.2 L1285.4,1988.2 L1287.5,1988.1 L1289.5,1988.1 L1291.6,1988.1 L1293.7,1988.0 L1295.8,1988.0 L1297.8,1988.0 L1299.9,1987.9 L1302.0,1987.9 L1304.1,1987.9 L1306.1,1987.9 L1308.2,1987.8 L1310.3,1987.8 L1312.4,1987.8 L1314.4,1987.7 L1316.5,1987.7 L1318.5,1987.7 L1320.4,1987.6 L1322.4,1987.6 L1324.4,1987.6 L1326.3,1987.5 L1328.3,1987.5 L1330.3,1987.5 L1332.3,1987.5 L1334.3,1987.4 L1336.3,1987.4 L1338.3,1987.4 L1340.3,1987.3 L1342.3,1987.3 L1344.3,1987.3 L1346.3,1987.2 L1348.3,1987.2 L1350.3,1987.2 L1352.3,1987.1 L1354.3,1987.1 L1356.3,1987.1 L1358.3,1987.0 L1360.4,1987.0 L1362.4,1987.0 L1364.4,1986.9 L1366.4,1986.9 L1368.5,1986.9 L1370.5,1986.8 L1372.5,1986.8 L1374.6,1986.8 L1376.6,1986.7 L1378.6,1986.7 L1380.7,1986.7 L1382.7,1986.6 L1384.8,1986.6 L1386.8,1986.6 L1388.8,1986.5 L1390.9,1986.5 L1392.9,1986.5 L1395.0,1986.4 L1397.0,1986.4 L1399.0,1986.4 L1401.1,1986.3 L1403.1,1986.3 L1405.2,1986.3 L1407.2,1986.2 L1409.2,1986.2 L1411.3,1986.2 L1413.3,1986.1 L1415.4,1986.1 L1417.4,1986.1 L1419.4,1986.1 L1421.5,1986.0 L1423.5,1986.0 L1425.5,1986.0 L1427.6,1985.9 L1429.6,1985.9 L1431.6,1985.9 L1433.7,1985.8 L1435.7,1985.8 L1437.7,1985.8 L1439.7,1985.7 L1441.8,1985.7 L1443.8,1985.7 L1445.8,1985.6 L1447.8,1985.6 L1449.8,1985.6 L1451.8,1985.5 L1453.8,1985.5 L1455.8,1985.5 L1457.8,1985.5 L1459.8,1985.4 L1461.8,1985.4 L1463.8,1985.4 L1465.8,1985.3 L1467.8,1985.3 L1469.8,1985.3 L1471.8,1985.2 L1473.7,1985.2 L1475.7,1985.2 L1477.7,1985.2 L1479.6,1985.1 L1481.6,1985.1 L1483.6,1985.1 L1485.5,1985.1 L1487.5,1985.0 L1489.4,1985.0 L1491.5,1985.0 L1493.5,1984.9 L1495.6,1984.9 L1497.7,1984.9 L1499.7,1984.9 L1501.8,1984.8 L1503.8,1984.8 L1505.9,1984.8 L1507.9,1984.8 L1510.0,1984.7 L1512.0,1984.7 L1514.0,1984.7 L1516.1,1984.7 L1518.1,1984.6 L1520.1,1984.6 L1522.1,1984.6 L1524.1,1984.6 L1526.2,1984.5 L1528.2,1984.5 L1530.2,1984.5 L1532.2,1984.5 L1534.2,1984.4 L1536.2,1984.4 L1538.2,1984.4 L1540.2,1984.4 L1542.2,1984.4 L1544.2,1984.3 L1546.2,1984.3 L1548.2,1984.3 L1550.2,1984.3 L1552.2,1984.2 L1554.1,1984.2 L1556.1,1984.2 L1558.1,1984.2 L1560.1,1984.2 L1562.1,1984.1 L1564.1,1984.1 L1566.1,1984.1 L1568.0,1984.1 L1570.0,1984.0 L1572.0,1984.0 L1574.0,1984.0 L1576.0,1984.0 L1577.9,1984.0 L1579.9,1983.9 L1581.9,1983.9 L1583.9,1983.9 L1585.9,1983.9 L1587.9,1983.8 L1589.8,1983.8 L1591.8,1983.8 L1593.8,1983.8 L1595.8,1983.8 L1597.8,1983.7 L1599.8,1983.7 L1601.8,1983.7 L1603.8,1983.7 L1605.8,1983.6 L1607.8,1983.6 L1609.8,1983.6 L1611.8,1983.6 L1613.8,1983.5 L1615.8,1983.5 L1617.8,1983.5 L1619.8,1983.5 L1621.8,1983.4 L1623.8,1983.4 L1625.8,1983.4 L1627.8,1983.4 L1629.8,1983.3 L1631.9,1983.3 L1633.9,1983.3 L1635.9,1983.3 L1638.0,1983.2 L1640.0,1983.2 L1642.0,1983.2 L1644.0,1983.1 L1646.0,1983.1 L1648.0,1983.1 L1650.0,1983.1 L1652.1,1983.0 L1654.2,1983.0 L1656.2,1983.0 L1658.3,1982.9 L1660.4,1982.9 L1662.6,1982.9 L1664.7,1982.8 L1666.8,1982.8 L1669.0,1982.7 L1671.1,1982.7 L1673.3,1982.7 L1675.4,1982.6 L1677.6,1982.6 L1679.8,1982.6 L1682.0,1982.5 L1684.1,1982.5 L1686.3,1982.4 L1688.5,1982.4 L1690.7,1982.4 L1692.9,1982.3 L1695.1,1982.3 L1697.3,1982.3 L1699.5,1982.2 L1701.8,1982.2 L1704.0,1982.1 L1706.2,1982.1 L1708.4,1982.1 L1710.6,1982.0 L1712.8,1982.0 L1714.9,1981.9 L1717.1,1981.9 L1719.3,1981.9 L1721.5,1981.8 L1723.7,1981.8 L1725.8,1981.7 L1728.0,1981.7 L1730.1,1981.7 L1732.3,1981.6 L1734.4,1981.6 L1736.5,1981.5 L1738.6,1981.5 L1740.7,1981.5 L1742.8,1981.4 L1744.9,1981.4 L1747.0,1981.4 L1749.0,1981.3 L1751.1,1981.3 L1753.1,1981.3 L1755.1,1981.2 L1757.1,1981.2 L1759.1,1981.2 L1761.0,1981.1 L1763.0,1981.1 L1764.9,1981.1 L1766.8,1981.0 L1768.7,1981.0 L1770.5,1981.0 L1772.4,1980.9 L1774.2,1980.9 L1776.0,1980.9 L1777.8,1980.9 L1779.5,1980.8 L1781.3,1980.8 L1783.0,1980.8 L1784.7,1980.8 L1786.3,1980.7 L1787.9,1980.7 L1789.6,1980.7 L1791.1,1980.7 L1792.7,1980.7 L1794.2,1980.7 L1795.7,1980.6 L1797.2,1980.6 L1798.6,1980.6 L1800.0,1980.6 L1802.7,1980.6 L1805.5,1980.6 L1808.3,1980.6 L1811.1,1980.5 L1813.9,1980.5 L1816.7,1980.5 L1819.5,1980.5 L1822.2,1980.5 L1824.9,1980.5 L1827.5,1980.5 L1829.9,1980.5 L1832.3,1980.5 L1834.5,1980.6 L1836.5,1980.6 L1838.4,1980.6 L1840.1,1980.6 L1841.5,1980.6 L1842.8,1980.6 L1843.8,1980.6 L1844.5,1980.6 L1844.9,1980.6 L1845.1,1980.6 L1845.2,1979.9 L1845.6,1978.0 L1846.0,1975.4 L1846.5,1972.6 L1847.0,1970.0 L1847.4,1967.7 L1847.7,1965.0 L1848.1,1962.2 L1848.5,1959.5 L1848.9,1957.2 L1849.3,1955.6 L1849.6,1955.0 L1850.0,1955.7 L1850.3,1957.5 L1850.6,1960.0 L1850.9,1962.8 L1851.2,1965.6 L1851.5,1968.0 L1851.8,1970.4 L1852.0,1972.6 L1852.3,1974.9 L1852.6,1977.6 L1852.8,1979.3 L1853.0,1981.1 L1853.3,1983.0 L1853.5,1985.0 L1853.8,1987.1 L1854.1,1989.2 L1854.4,1991.3 L1854.7,1993.6 L1855.0,1995.8 L1855.3,1998.0 L1855.6,2000.2 L1855.9,2002.1 L1856.2,2004.0 L1856.4,2005.9 L1856.7,2007.9 L1857.0,2009.9 L1857.4,2011.9 L1857.7,2013.9 L1858.0,2016.0 L1858.3,2018.0 L1858.6,2020.0 L1858.9,2022.1 L1859.3,2024.1 L1859.6,2026.2 L1859.9,2028.2 L1860.2,2030.2 L1860.5,2032.2 L1860.8,2034.2 L1861.1,2036.2 L1861.4,2038.2 L1861.7,2040.2 L1861.9,2042.2 L1862.2,2044.3 L1862.5,2046.3 L1862.8,2048.3 L1863.1,2050.3 L1863.4,2052.3 L1863.7,2054.3 L1864.0,2056.3 L1864.4,2058.3 L1864.7,2060.3 L1865.1,2062.3 L1865.4,2064.3 L1865.8,2066.4 L1866.2,2068.4 L1866.6,2070.5 L1867.0,2072.5 L1867.4,2074.6 L1867.8,2076.6 L1868.2,2078.6 L1868.6,2080.7 L1869.0,2082.7 L1869.4,2084.6 L1869.8,2086.6 L1870.3,2088.5 L1870.7,2090.4 L1871.2,2092.5 L1871.6,2094.5 L1872.1,2096.5 L1872.6,2098.5 L1873.1,2100.5 L1873.6,2102.4 L1874.1,2104.4 L1874.6,2106.3 L1875.1,2108.2 L1875.6,2110.1 L1876.1,2112.1 L1876.7,2114.0 L1877.3,2115.9 L1877.8,2117.9 L1878.4,2119.8 L1879.0,2121.7 L1879.6,2123.7 L1880.2,2125.6 L1880.9,2127.5 L1881.5,2129.4 L1882.2,2131.3 L1882.8,2133.2 L1883.5,2135.1 L1884.2,2137.0 L1884.9,2139.0 L1885.7,2141.0 L1886.4,2143.0 L1887.2,2145.0 L1888.0,2147.0 L1888.8,2149.0 L1889.6,2150.9 L1890.4,2152.9 L1891.3,2154.8 L1892.2,2156.7 L1893.2,2158.5 L1894.4,2160.6 L1895.8,2162.9 L1897.4,2165.2 L1899.0,2167.6 L1900.7,2169.9 L1902.2,2172.0 L1903.5,2173.8 L1904.6,2175.2 L1905.3,2176.2 L1905.5,2176.5" stroke="#f3464c" stroke-width="4.7"/>
</g>
<g fill="#000">
<rect x="275" y="74.4" width="1631.8" height="4.3"/>
<rect x="275" y="2298.7" width="1631.8" height="5.2"/>
<rect x="275" y="74.4" width="2.9" height="2229.5"/>
<rect x="1904.1" y="74.4" width="2.7" height="2229.5"/>
<rect x="411.1" y="2288" width="2.6" height="11"/>
<rect x="546.6" y="2277" width="3" height="22"/>
<rect x="682.6" y="2288" width="2.6" height="11"/>
<rect x="818.2" y="2277" width="3" height="22"/>
<rect x="954.2" y="2288" width="2.6" height="11"/>
<rect x="1089.7" y="2277" width="3" height="22"/>
<rect x="1225.7" y="2288" width="2.6" height="11"/>
<rect x="1361.3" y="2277" width="3" height="22"/>
<rect x="1497.2" y="2288" width="2.6" height="11"/>
<rect x="1632.8" y="2277" width="3" height="22"/>
<rect x="1768.8" y="2288" width="2.6" height="11"/>
<rect x="356.8" y="96" width="5" height="242"/>
<rect x="348" y="95.9" width="24.7" height="2.8"/>
<rect x="348" y="334.4" width="24.7" height="5.3"/>
</g>
<text x="395.9" y="231" font-size="41" text-anchor="middle">2</text>
<text transform="translate(276.3,2371.8) scale(0.95,1)" font-size="58" text-anchor="middle">0</text>
<text transform="translate(547.8,2371.8) scale(0.95,1)" font-size="58" text-anchor="middle">20</text>
<text transform="translate(819.4,2371.8) scale(0.95,1)" font-size="58" text-anchor="middle">40</text>
<text transform="translate(1090.9,2371.8) scale(0.95,1)" font-size="58" text-anchor="middle">60</text>
<text transform="translate(1362.5,2371.8) scale(0.95,1)" font-size="58" text-anchor="middle">80</text>
<text transform="translate(1634.0,2371.8) scale(0.95,1)" font-size="58" text-anchor="middle">100</text>
<text transform="translate(1905.5,2371.8) scale(0.95,1)" font-size="58" text-anchor="middle">120</text>
<text transform="translate(1091.6,2477.8) scale(0.957,1)" font-size="73" text-anchor="middle">Time (min)</text>
<text transform="translate(171.3,1156.2) rotate(-90) scale(0.96,1)" font-size="73" text-anchor="middle">Weight [%]</text>
<text x="1507.7" y="559.4" font-size="61">MK/D2 (CO<tspan font-size="42" dx="0.5" dy="17">2</tspan><tspan dx="1.5" dy="-17">)</tspan></text>
<text x="1537.9" y="670.6" font-size="61">MK/D2 (N<tspan font-size="42" dx="0.5" dy="17">2</tspan><tspan dx="1.5" dy="-17">)</tspan></text>
<text x="1491.6" y="824.5" font-size="61">PH/D2 (CO<tspan font-size="42" dx="0.5" dy="17">2</tspan><tspan dx="1.5" dy="-17">)</tspan></text>
<text x="1535.4" y="944.9" font-size="61">PH/D2 (N<tspan font-size="42" dx="0.5" dy="17">2</tspan><tspan dx="1.5" dy="-17">)</tspan></text>
<text x="1472.5" y="1132.3" font-size="61">CLI/D2 (CO<tspan font-size="42" dx="0.5" dy="17">2</tspan><tspan dx="1.5" dy="-17">)</tspan></text>
<text x="1512.2" y="1308.5" font-size="61">CLI/D2 (N<tspan font-size="42" dx="0.5" dy="17">2</tspan><tspan dx="1.5" dy="-17">)</tspan></text>
<text x="1479.1" y="1490.9" font-size="61">CLI/D1 (CO<tspan font-size="42" dx="0.5" dy="17">2</tspan><tspan dx="1.5" dy="-17">)</tspan></text>
<text x="1528.1" y="1762.5" font-size="61">CLI/D1 (N<tspan font-size="42" dx="0.5" dy="17">2</tspan><tspan dx="1.5" dy="-17">)</tspan></text>
<text x="1512.7" y="1942.6" font-size="61">CLI/S (CO<tspan font-size="42" dx="0.5" dy="17">2</tspan><tspan dx="1.5" dy="-17">)</tspan></text>
<text x="1554.2" y="2197" font-size="61">CLI/S (N<tspan font-size="42" dx="0.5" dy="17">2</tspan><tspan dx="1.5" dy="-17">)</tspan></text>
</svg>
</body></html>
